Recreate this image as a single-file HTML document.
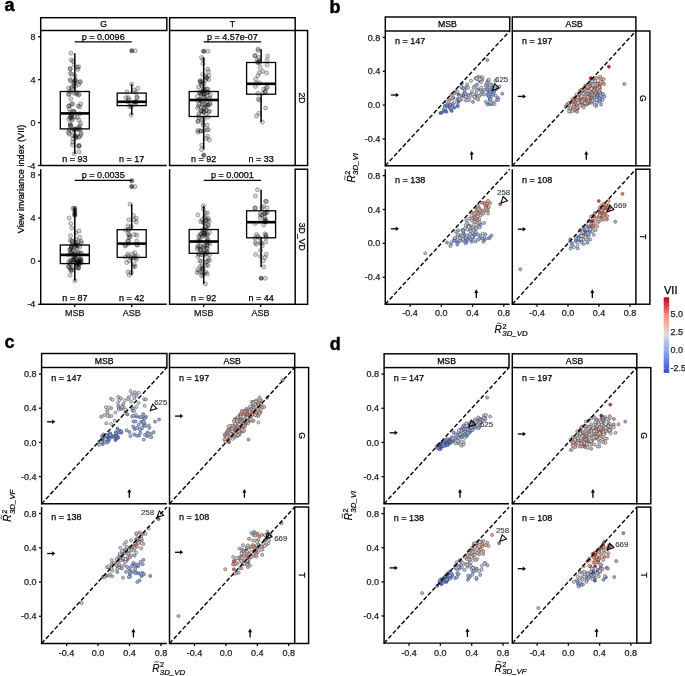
<!DOCTYPE html>
<html><head><meta charset="utf-8"><style>
html,body{margin:0;padding:0;background:#fff;overflow:hidden;}
svg{display:block;font-family:"Liberation Sans", sans-serif;will-change:transform;}
</style></head><body>
<svg width="685" height="676" viewBox="0 0 685 676">
<rect width="685" height="676" fill="#fff"/>
<text x="4.50" y="10.90" font-size="18" text-anchor="start" fill="#000" font-weight="bold"  stroke="#000" stroke-width="0.45">a</text>
<rect x="40.70" y="17.70" width="126.10" height="12.80" fill="none" stroke="#000" stroke-width="1.45"/>
<text x="103.75" y="27.00" font-size="8.7" text-anchor="middle" fill="#000" font-weight="normal" stroke="#000" stroke-width="0.25" >G</text>
<rect x="169.60" y="17.70" width="125.60" height="12.80" fill="none" stroke="#000" stroke-width="1.45"/>
<text x="232.40" y="27.00" font-size="8.7" text-anchor="middle" fill="#000" font-weight="normal" stroke="#000" stroke-width="0.25" >T</text>
<rect x="295.20" y="30.50" width="12.40" height="135.00" fill="none" stroke="#000" stroke-width="1.45"/>
<text x="301.40" y="98.00" font-size="8.7" text-anchor="middle" fill="#000" font-weight="normal" stroke="#000" stroke-width="0.25" transform="rotate(90 301.4 98.0)" dy="2.9">2D</text>
<rect x="295.20" y="169.20" width="12.40" height="135.10" fill="none" stroke="#000" stroke-width="1.45"/>
<text x="301.40" y="236.75" font-size="8.7" text-anchor="middle" fill="#000" font-weight="normal" stroke="#000" stroke-width="0.25" transform="rotate(90 301.4 236.8)" dy="2.9">3D_VD</text>
<text x="24.20" y="179.00" font-size="9.2" text-anchor="middle" fill="#000" font-weight="normal" stroke="#000" stroke-width="0.25" transform="rotate(-90 24.2 179)">View invariance index (VII)</text>
<line x1="40.70" y1="30.50" x2="40.70" y2="166.05" stroke="#000" stroke-width="1.45" />
<line x1="40.15" y1="165.50" x2="166.80" y2="165.50" stroke="#000" stroke-width="1.45" />
<line x1="38.10" y1="36.70" x2="40.70" y2="36.70" stroke="#000" stroke-width="1.305" />
<text x="35.40" y="39.80" font-size="9.0" text-anchor="end" fill="#1a1a1a" font-weight="normal" stroke="#1a1a1a" stroke-width="0.25" >8</text>
<line x1="38.10" y1="79.63" x2="40.70" y2="79.63" stroke="#000" stroke-width="1.305" />
<text x="35.40" y="82.73" font-size="9.0" text-anchor="end" fill="#1a1a1a" font-weight="normal" stroke="#1a1a1a" stroke-width="0.25" >4</text>
<line x1="38.10" y1="122.57" x2="40.70" y2="122.57" stroke="#000" stroke-width="1.305" />
<text x="35.40" y="125.67" font-size="9.0" text-anchor="end" fill="#1a1a1a" font-weight="normal" stroke="#1a1a1a" stroke-width="0.25" >0</text>
<line x1="38.10" y1="165.50" x2="40.70" y2="165.50" stroke="#000" stroke-width="1.305" />
<text x="35.40" y="168.60" font-size="9.0" text-anchor="end" fill="#1a1a1a" font-weight="normal" stroke="#1a1a1a" stroke-width="0.25" >-4</text>
<line x1="169.60" y1="30.50" x2="169.60" y2="166.05" stroke="#000" stroke-width="1.45" />
<line x1="169.05" y1="165.50" x2="295.20" y2="165.50" stroke="#000" stroke-width="1.45" />
<line x1="40.70" y1="169.20" x2="40.70" y2="304.85" stroke="#000" stroke-width="1.45" />
<line x1="40.15" y1="304.30" x2="166.80" y2="304.30" stroke="#000" stroke-width="1.45" />
<line x1="38.10" y1="174.90" x2="40.70" y2="174.90" stroke="#000" stroke-width="1.305" />
<text x="35.40" y="178.00" font-size="9.0" text-anchor="end" fill="#1a1a1a" font-weight="normal" stroke="#1a1a1a" stroke-width="0.25" >8</text>
<line x1="38.10" y1="218.03" x2="40.70" y2="218.03" stroke="#000" stroke-width="1.305" />
<text x="35.40" y="221.13" font-size="9.0" text-anchor="end" fill="#1a1a1a" font-weight="normal" stroke="#1a1a1a" stroke-width="0.25" >4</text>
<line x1="38.10" y1="261.17" x2="40.70" y2="261.17" stroke="#000" stroke-width="1.305" />
<text x="35.40" y="264.27" font-size="9.0" text-anchor="end" fill="#1a1a1a" font-weight="normal" stroke="#1a1a1a" stroke-width="0.25" >0</text>
<line x1="38.10" y1="304.30" x2="40.70" y2="304.30" stroke="#000" stroke-width="1.305" />
<text x="35.40" y="307.40" font-size="9.0" text-anchor="end" fill="#1a1a1a" font-weight="normal" stroke="#1a1a1a" stroke-width="0.25" >-4</text>
<line x1="74.80" y1="304.30" x2="74.80" y2="306.90" stroke="#000" stroke-width="1.305" />
<text x="74.80" y="316.30" font-size="9.0" text-anchor="middle" fill="#1a1a1a" font-weight="normal" stroke="#1a1a1a" stroke-width="0.25" >MSB</text>
<line x1="131.70" y1="304.30" x2="131.70" y2="306.90" stroke="#000" stroke-width="1.305" />
<text x="131.70" y="316.30" font-size="9.0" text-anchor="middle" fill="#1a1a1a" font-weight="normal" stroke="#1a1a1a" stroke-width="0.25" >ASB</text>
<line x1="169.60" y1="169.20" x2="169.60" y2="304.85" stroke="#000" stroke-width="1.45" />
<line x1="169.05" y1="304.30" x2="295.20" y2="304.30" stroke="#000" stroke-width="1.45" />
<line x1="203.70" y1="304.30" x2="203.70" y2="306.90" stroke="#000" stroke-width="1.305" />
<text x="203.70" y="316.30" font-size="9.0" text-anchor="middle" fill="#1a1a1a" font-weight="normal" stroke="#1a1a1a" stroke-width="0.25" >MSB</text>
<line x1="260.60" y1="304.30" x2="260.60" y2="306.90" stroke="#000" stroke-width="1.305" />
<text x="260.60" y="316.30" font-size="9.0" text-anchor="middle" fill="#1a1a1a" font-weight="normal" stroke="#1a1a1a" stroke-width="0.25" >ASB</text>
<circle cx="69.2" cy="105.8" r="2.05" fill="rgba(0,0,0,0.17)" stroke="rgba(0,0,0,0.42)" stroke-width="0.7"/>
<circle cx="69.1" cy="134.0" r="2.05" fill="rgba(0,0,0,0.17)" stroke="rgba(0,0,0,0.42)" stroke-width="0.7"/>
<circle cx="73.9" cy="129.4" r="2.05" fill="rgba(0,0,0,0.17)" stroke="rgba(0,0,0,0.42)" stroke-width="0.7"/>
<circle cx="79.0" cy="120.0" r="2.05" fill="rgba(0,0,0,0.17)" stroke="rgba(0,0,0,0.42)" stroke-width="0.7"/>
<circle cx="80.6" cy="123.1" r="2.05" fill="rgba(0,0,0,0.17)" stroke="rgba(0,0,0,0.42)" stroke-width="0.7"/>
<circle cx="81.0" cy="134.5" r="2.05" fill="rgba(0,0,0,0.17)" stroke="rgba(0,0,0,0.42)" stroke-width="0.7"/>
<circle cx="70.2" cy="117.9" r="2.05" fill="rgba(0,0,0,0.17)" stroke="rgba(0,0,0,0.42)" stroke-width="0.7"/>
<circle cx="70.6" cy="126.0" r="2.05" fill="rgba(0,0,0,0.17)" stroke="rgba(0,0,0,0.42)" stroke-width="0.7"/>
<circle cx="73.1" cy="138.8" r="2.05" fill="rgba(0,0,0,0.17)" stroke="rgba(0,0,0,0.42)" stroke-width="0.7"/>
<circle cx="69.1" cy="129.7" r="2.05" fill="rgba(0,0,0,0.17)" stroke="rgba(0,0,0,0.42)" stroke-width="0.7"/>
<circle cx="72.4" cy="120.0" r="2.05" fill="rgba(0,0,0,0.17)" stroke="rgba(0,0,0,0.42)" stroke-width="0.7"/>
<circle cx="72.2" cy="135.4" r="2.05" fill="rgba(0,0,0,0.17)" stroke="rgba(0,0,0,0.42)" stroke-width="0.7"/>
<circle cx="71.5" cy="74.2" r="2.05" fill="rgba(0,0,0,0.17)" stroke="rgba(0,0,0,0.42)" stroke-width="0.7"/>
<circle cx="79.7" cy="136.6" r="2.05" fill="rgba(0,0,0,0.17)" stroke="rgba(0,0,0,0.42)" stroke-width="0.7"/>
<circle cx="81.0" cy="132.8" r="2.05" fill="rgba(0,0,0,0.17)" stroke="rgba(0,0,0,0.42)" stroke-width="0.7"/>
<circle cx="70.3" cy="125.1" r="2.05" fill="rgba(0,0,0,0.17)" stroke="rgba(0,0,0,0.42)" stroke-width="0.7"/>
<circle cx="78.2" cy="106.1" r="2.05" fill="rgba(0,0,0,0.17)" stroke="rgba(0,0,0,0.42)" stroke-width="0.7"/>
<circle cx="72.4" cy="145.0" r="2.05" fill="rgba(0,0,0,0.17)" stroke="rgba(0,0,0,0.42)" stroke-width="0.7"/>
<circle cx="75.8" cy="137.9" r="2.05" fill="rgba(0,0,0,0.17)" stroke="rgba(0,0,0,0.42)" stroke-width="0.7"/>
<circle cx="74.5" cy="112.2" r="2.05" fill="rgba(0,0,0,0.17)" stroke="rgba(0,0,0,0.42)" stroke-width="0.7"/>
<circle cx="77.4" cy="129.7" r="2.05" fill="rgba(0,0,0,0.17)" stroke="rgba(0,0,0,0.42)" stroke-width="0.7"/>
<circle cx="79.0" cy="151.7" r="2.05" fill="rgba(0,0,0,0.17)" stroke="rgba(0,0,0,0.42)" stroke-width="0.7"/>
<circle cx="68.6" cy="106.1" r="2.05" fill="rgba(0,0,0,0.17)" stroke="rgba(0,0,0,0.42)" stroke-width="0.7"/>
<circle cx="69.1" cy="94.1" r="2.05" fill="rgba(0,0,0,0.17)" stroke="rgba(0,0,0,0.42)" stroke-width="0.7"/>
<circle cx="71.5" cy="88.9" r="2.05" fill="rgba(0,0,0,0.17)" stroke="rgba(0,0,0,0.42)" stroke-width="0.7"/>
<circle cx="74.1" cy="93.3" r="2.05" fill="rgba(0,0,0,0.17)" stroke="rgba(0,0,0,0.42)" stroke-width="0.7"/>
<circle cx="79.0" cy="145.3" r="2.05" fill="rgba(0,0,0,0.17)" stroke="rgba(0,0,0,0.42)" stroke-width="0.7"/>
<circle cx="73.7" cy="85.7" r="2.05" fill="rgba(0,0,0,0.17)" stroke="rgba(0,0,0,0.42)" stroke-width="0.7"/>
<circle cx="70.3" cy="112.5" r="2.05" fill="rgba(0,0,0,0.17)" stroke="rgba(0,0,0,0.42)" stroke-width="0.7"/>
<circle cx="74.6" cy="117.0" r="2.05" fill="rgba(0,0,0,0.17)" stroke="rgba(0,0,0,0.42)" stroke-width="0.7"/>
<circle cx="68.4" cy="132.4" r="2.05" fill="rgba(0,0,0,0.17)" stroke="rgba(0,0,0,0.42)" stroke-width="0.7"/>
<circle cx="80.7" cy="103.9" r="2.05" fill="rgba(0,0,0,0.17)" stroke="rgba(0,0,0,0.42)" stroke-width="0.7"/>
<circle cx="76.3" cy="136.5" r="2.05" fill="rgba(0,0,0,0.17)" stroke="rgba(0,0,0,0.42)" stroke-width="0.7"/>
<circle cx="80.0" cy="129.6" r="2.05" fill="rgba(0,0,0,0.17)" stroke="rgba(0,0,0,0.42)" stroke-width="0.7"/>
<circle cx="78.7" cy="66.8" r="2.05" fill="rgba(0,0,0,0.17)" stroke="rgba(0,0,0,0.42)" stroke-width="0.7"/>
<circle cx="76.5" cy="93.8" r="2.05" fill="rgba(0,0,0,0.17)" stroke="rgba(0,0,0,0.42)" stroke-width="0.7"/>
<circle cx="70.4" cy="116.6" r="2.05" fill="rgba(0,0,0,0.17)" stroke="rgba(0,0,0,0.42)" stroke-width="0.7"/>
<circle cx="70.3" cy="91.5" r="2.05" fill="rgba(0,0,0,0.17)" stroke="rgba(0,0,0,0.42)" stroke-width="0.7"/>
<circle cx="79.7" cy="113.8" r="2.05" fill="rgba(0,0,0,0.17)" stroke="rgba(0,0,0,0.42)" stroke-width="0.7"/>
<circle cx="71.6" cy="130.8" r="2.05" fill="rgba(0,0,0,0.17)" stroke="rgba(0,0,0,0.42)" stroke-width="0.7"/>
<circle cx="79.3" cy="94.2" r="2.05" fill="rgba(0,0,0,0.17)" stroke="rgba(0,0,0,0.42)" stroke-width="0.7"/>
<circle cx="74.6" cy="81.2" r="2.05" fill="rgba(0,0,0,0.17)" stroke="rgba(0,0,0,0.42)" stroke-width="0.7"/>
<circle cx="71.7" cy="118.7" r="2.05" fill="rgba(0,0,0,0.17)" stroke="rgba(0,0,0,0.42)" stroke-width="0.7"/>
<circle cx="68.6" cy="88.3" r="2.05" fill="rgba(0,0,0,0.17)" stroke="rgba(0,0,0,0.42)" stroke-width="0.7"/>
<circle cx="70.2" cy="79.5" r="2.05" fill="rgba(0,0,0,0.17)" stroke="rgba(0,0,0,0.42)" stroke-width="0.7"/>
<circle cx="75.2" cy="129.2" r="2.05" fill="rgba(0,0,0,0.17)" stroke="rgba(0,0,0,0.42)" stroke-width="0.7"/>
<circle cx="77.4" cy="67.4" r="2.05" fill="rgba(0,0,0,0.17)" stroke="rgba(0,0,0,0.42)" stroke-width="0.7"/>
<circle cx="78.3" cy="95.2" r="2.05" fill="rgba(0,0,0,0.17)" stroke="rgba(0,0,0,0.42)" stroke-width="0.7"/>
<circle cx="72.6" cy="142.1" r="2.05" fill="rgba(0,0,0,0.17)" stroke="rgba(0,0,0,0.42)" stroke-width="0.7"/>
<circle cx="79.4" cy="128.7" r="2.05" fill="rgba(0,0,0,0.17)" stroke="rgba(0,0,0,0.42)" stroke-width="0.7"/>
<circle cx="77.9" cy="69.5" r="2.05" fill="rgba(0,0,0,0.17)" stroke="rgba(0,0,0,0.42)" stroke-width="0.7"/>
<circle cx="68.7" cy="118.9" r="2.05" fill="rgba(0,0,0,0.17)" stroke="rgba(0,0,0,0.42)" stroke-width="0.7"/>
<circle cx="77.3" cy="117.4" r="2.05" fill="rgba(0,0,0,0.17)" stroke="rgba(0,0,0,0.42)" stroke-width="0.7"/>
<circle cx="80.5" cy="81.7" r="2.05" fill="rgba(0,0,0,0.17)" stroke="rgba(0,0,0,0.42)" stroke-width="0.7"/>
<circle cx="73.0" cy="61.3" r="2.05" fill="rgba(0,0,0,0.17)" stroke="rgba(0,0,0,0.42)" stroke-width="0.7"/>
<circle cx="71.0" cy="116.4" r="2.05" fill="rgba(0,0,0,0.17)" stroke="rgba(0,0,0,0.42)" stroke-width="0.7"/>
<circle cx="79.2" cy="145.9" r="2.05" fill="rgba(0,0,0,0.17)" stroke="rgba(0,0,0,0.42)" stroke-width="0.7"/>
<circle cx="69.4" cy="109.0" r="2.05" fill="rgba(0,0,0,0.17)" stroke="rgba(0,0,0,0.42)" stroke-width="0.7"/>
<circle cx="78.5" cy="146.3" r="2.05" fill="rgba(0,0,0,0.17)" stroke="rgba(0,0,0,0.42)" stroke-width="0.7"/>
<circle cx="70.6" cy="80.9" r="2.05" fill="rgba(0,0,0,0.17)" stroke="rgba(0,0,0,0.42)" stroke-width="0.7"/>
<circle cx="78.7" cy="84.5" r="2.05" fill="rgba(0,0,0,0.17)" stroke="rgba(0,0,0,0.42)" stroke-width="0.7"/>
<circle cx="73.5" cy="83.0" r="2.05" fill="rgba(0,0,0,0.17)" stroke="rgba(0,0,0,0.42)" stroke-width="0.7"/>
<circle cx="70.5" cy="73.3" r="2.05" fill="rgba(0,0,0,0.17)" stroke="rgba(0,0,0,0.42)" stroke-width="0.7"/>
<circle cx="78.8" cy="127.4" r="2.05" fill="rgba(0,0,0,0.17)" stroke="rgba(0,0,0,0.42)" stroke-width="0.7"/>
<circle cx="76.8" cy="128.6" r="2.05" fill="rgba(0,0,0,0.17)" stroke="rgba(0,0,0,0.42)" stroke-width="0.7"/>
<circle cx="68.5" cy="94.4" r="2.05" fill="rgba(0,0,0,0.17)" stroke="rgba(0,0,0,0.42)" stroke-width="0.7"/>
<circle cx="75.1" cy="75.9" r="2.05" fill="rgba(0,0,0,0.17)" stroke="rgba(0,0,0,0.42)" stroke-width="0.7"/>
<circle cx="79.6" cy="82.0" r="2.05" fill="rgba(0,0,0,0.17)" stroke="rgba(0,0,0,0.42)" stroke-width="0.7"/>
<circle cx="71.6" cy="87.2" r="2.05" fill="rgba(0,0,0,0.17)" stroke="rgba(0,0,0,0.42)" stroke-width="0.7"/>
<circle cx="71.7" cy="104.3" r="2.05" fill="rgba(0,0,0,0.17)" stroke="rgba(0,0,0,0.42)" stroke-width="0.7"/>
<circle cx="72.9" cy="111.4" r="2.05" fill="rgba(0,0,0,0.17)" stroke="rgba(0,0,0,0.42)" stroke-width="0.7"/>
<circle cx="73.8" cy="111.3" r="2.05" fill="rgba(0,0,0,0.17)" stroke="rgba(0,0,0,0.42)" stroke-width="0.7"/>
<circle cx="75.2" cy="80.2" r="2.05" fill="rgba(0,0,0,0.17)" stroke="rgba(0,0,0,0.42)" stroke-width="0.7"/>
<circle cx="74.0" cy="129.1" r="2.05" fill="rgba(0,0,0,0.17)" stroke="rgba(0,0,0,0.42)" stroke-width="0.7"/>
<circle cx="70.5" cy="125.8" r="2.05" fill="rgba(0,0,0,0.17)" stroke="rgba(0,0,0,0.42)" stroke-width="0.7"/>
<circle cx="72.5" cy="103.7" r="2.05" fill="rgba(0,0,0,0.17)" stroke="rgba(0,0,0,0.42)" stroke-width="0.7"/>
<circle cx="78.5" cy="137.2" r="2.05" fill="rgba(0,0,0,0.17)" stroke="rgba(0,0,0,0.42)" stroke-width="0.7"/>
<circle cx="71.9" cy="117.3" r="2.05" fill="rgba(0,0,0,0.17)" stroke="rgba(0,0,0,0.42)" stroke-width="0.7"/>
<circle cx="75.6" cy="80.1" r="2.05" fill="rgba(0,0,0,0.17)" stroke="rgba(0,0,0,0.42)" stroke-width="0.7"/>
<circle cx="74.1" cy="64.5" r="2.05" fill="rgba(0,0,0,0.17)" stroke="rgba(0,0,0,0.42)" stroke-width="0.7"/>
<circle cx="75.0" cy="136.3" r="2.05" fill="rgba(0,0,0,0.17)" stroke="rgba(0,0,0,0.42)" stroke-width="0.7"/>
<circle cx="75.2" cy="135.4" r="2.05" fill="rgba(0,0,0,0.17)" stroke="rgba(0,0,0,0.42)" stroke-width="0.7"/>
<circle cx="79.7" cy="106.8" r="2.05" fill="rgba(0,0,0,0.17)" stroke="rgba(0,0,0,0.42)" stroke-width="0.7"/>
<circle cx="75.6" cy="86.2" r="2.05" fill="rgba(0,0,0,0.17)" stroke="rgba(0,0,0,0.42)" stroke-width="0.7"/>
<circle cx="70.1" cy="68.5" r="2.05" fill="rgba(0,0,0,0.17)" stroke="rgba(0,0,0,0.42)" stroke-width="0.7"/>
<circle cx="71.4" cy="114.5" r="2.05" fill="rgba(0,0,0,0.17)" stroke="rgba(0,0,0,0.42)" stroke-width="0.7"/>
<circle cx="80.0" cy="125.6" r="2.05" fill="rgba(0,0,0,0.17)" stroke="rgba(0,0,0,0.42)" stroke-width="0.7"/>
<circle cx="70.2" cy="123.6" r="2.05" fill="rgba(0,0,0,0.17)" stroke="rgba(0,0,0,0.42)" stroke-width="0.7"/>
<circle cx="71.2" cy="60.1" r="2.05" fill="rgba(0,0,0,0.17)" stroke="rgba(0,0,0,0.42)" stroke-width="0.7"/>
<circle cx="74.6" cy="82.9" r="2.05" fill="rgba(0,0,0,0.17)" stroke="rgba(0,0,0,0.42)" stroke-width="0.7"/>
<circle cx="70.4" cy="68.9" r="2.05" fill="rgba(0,0,0,0.17)" stroke="rgba(0,0,0,0.42)" stroke-width="0.7"/>
<circle cx="70.8" cy="98.9" r="2.05" fill="rgba(0,0,0,0.17)" stroke="rgba(0,0,0,0.42)" stroke-width="0.7"/>
<circle cx="75.5" cy="91.9" r="2.05" fill="rgba(0,0,0,0.17)" stroke="rgba(0,0,0,0.42)" stroke-width="0.7"/>
<circle cx="74.3" cy="153.8" r="2.05" fill="rgba(0,0,0,0.17)" stroke="rgba(0,0,0,0.42)" stroke-width="0.7"/>
<circle cx="70.9" cy="53.2" r="2.05" fill="rgba(0,0,0,0.17)" stroke="rgba(0,0,0,0.42)" stroke-width="0.7"/>
<line x1="74.80" y1="53.20" x2="74.80" y2="91.50" stroke="#000" stroke-width="1.5" />
<line x1="74.80" y1="128.90" x2="74.80" y2="153.80" stroke="#000" stroke-width="1.5" />
<rect x="60.30" y="91.50" width="29.00" height="37.40" fill="none" stroke="#000" stroke-width="1.3"/>
<line x1="60.30" y1="113.40" x2="89.30" y2="113.40" stroke="#000" stroke-width="2.6" />
<text x="74.80" y="162.30" font-size="9" text-anchor="middle" fill="#000" font-weight="normal" stroke="#000" stroke-width="0.25" >n = 93</text>
<circle cx="126.0" cy="97.6" r="2.05" fill="rgba(0,0,0,0.17)" stroke="rgba(0,0,0,0.42)" stroke-width="0.7"/>
<circle cx="137.8" cy="88.3" r="2.05" fill="rgba(0,0,0,0.17)" stroke="rgba(0,0,0,0.42)" stroke-width="0.7"/>
<circle cx="135.3" cy="102.0" r="2.05" fill="rgba(0,0,0,0.17)" stroke="rgba(0,0,0,0.42)" stroke-width="0.7"/>
<circle cx="137.0" cy="96.8" r="2.05" fill="rgba(0,0,0,0.17)" stroke="rgba(0,0,0,0.42)" stroke-width="0.7"/>
<circle cx="127.1" cy="91.9" r="2.05" fill="rgba(0,0,0,0.17)" stroke="rgba(0,0,0,0.42)" stroke-width="0.7"/>
<circle cx="134.3" cy="90.0" r="2.05" fill="rgba(0,0,0,0.17)" stroke="rgba(0,0,0,0.42)" stroke-width="0.7"/>
<circle cx="130.7" cy="104.4" r="2.05" fill="rgba(0,0,0,0.17)" stroke="rgba(0,0,0,0.42)" stroke-width="0.7"/>
<circle cx="135.6" cy="104.2" r="2.05" fill="rgba(0,0,0,0.17)" stroke="rgba(0,0,0,0.42)" stroke-width="0.7"/>
<circle cx="136.4" cy="102.1" r="2.05" fill="rgba(0,0,0,0.17)" stroke="rgba(0,0,0,0.42)" stroke-width="0.7"/>
<circle cx="137.2" cy="97.9" r="2.05" fill="rgba(0,0,0,0.17)" stroke="rgba(0,0,0,0.42)" stroke-width="0.7"/>
<circle cx="128.3" cy="97.7" r="2.05" fill="rgba(0,0,0,0.17)" stroke="rgba(0,0,0,0.42)" stroke-width="0.7"/>
<circle cx="127.8" cy="102.0" r="2.05" fill="rgba(0,0,0,0.17)" stroke="rgba(0,0,0,0.42)" stroke-width="0.7"/>
<circle cx="129.0" cy="99.7" r="2.05" fill="rgba(0,0,0,0.17)" stroke="rgba(0,0,0,0.42)" stroke-width="0.7"/>
<circle cx="129.7" cy="106.5" r="2.05" fill="rgba(0,0,0,0.17)" stroke="rgba(0,0,0,0.42)" stroke-width="0.7"/>
<circle cx="134.7" cy="101.9" r="2.05" fill="rgba(0,0,0,0.17)" stroke="rgba(0,0,0,0.42)" stroke-width="0.7"/>
<circle cx="131.4" cy="106.5" r="2.05" fill="rgba(0,0,0,0.17)" stroke="rgba(0,0,0,0.42)" stroke-width="0.7"/>
<circle cx="135.8" cy="92.6" r="2.05" fill="rgba(0,0,0,0.17)" stroke="rgba(0,0,0,0.42)" stroke-width="0.7"/>
<circle cx="131.2" cy="114.9" r="2.05" fill="rgba(0,0,0,0.17)" stroke="rgba(0,0,0,0.42)" stroke-width="0.7"/>
<circle cx="131.7" cy="84.2" r="2.05" fill="rgba(0,0,0,0.17)" stroke="rgba(0,0,0,0.42)" stroke-width="0.7"/>
<circle cx="131.7" cy="50.7" r="2.05" fill="rgba(0,0,0,0.55)" stroke="rgba(0,0,0,0.6)" stroke-width="0.7"/>
<circle cx="135.2" cy="50.7" r="2.05" fill="rgba(0,0,0,0.17)" stroke="rgba(0,0,0,0.42)" stroke-width="0.7"/>
<line x1="131.70" y1="84.20" x2="131.70" y2="93.10" stroke="#000" stroke-width="1.5" />
<line x1="131.70" y1="105.60" x2="131.70" y2="114.90" stroke="#000" stroke-width="1.5" />
<rect x="117.20" y="93.10" width="29.00" height="12.50" fill="none" stroke="#000" stroke-width="1.3"/>
<line x1="117.20" y1="101.80" x2="146.20" y2="101.80" stroke="#000" stroke-width="2.6" />
<text x="131.70" y="162.30" font-size="9" text-anchor="middle" fill="#000" font-weight="normal" stroke="#000" stroke-width="0.25" >n = 17</text>
<line x1="74.80" y1="41.80" x2="131.70" y2="41.80" stroke="#000" stroke-width="1.2" />
<text x="103.25" y="39.50" font-size="9" text-anchor="middle" fill="#000" font-weight="normal" stroke="#000" stroke-width="0.25" >p = 0.0096</text>
<circle cx="203.8" cy="84.0" r="2.05" fill="rgba(0,0,0,0.17)" stroke="rgba(0,0,0,0.42)" stroke-width="0.7"/>
<circle cx="201.7" cy="145.2" r="2.05" fill="rgba(0,0,0,0.17)" stroke="rgba(0,0,0,0.42)" stroke-width="0.7"/>
<circle cx="205.5" cy="75.9" r="2.05" fill="rgba(0,0,0,0.17)" stroke="rgba(0,0,0,0.42)" stroke-width="0.7"/>
<circle cx="198.9" cy="92.0" r="2.05" fill="rgba(0,0,0,0.17)" stroke="rgba(0,0,0,0.42)" stroke-width="0.7"/>
<circle cx="199.3" cy="104.2" r="2.05" fill="rgba(0,0,0,0.17)" stroke="rgba(0,0,0,0.42)" stroke-width="0.7"/>
<circle cx="205.9" cy="114.4" r="2.05" fill="rgba(0,0,0,0.17)" stroke="rgba(0,0,0,0.42)" stroke-width="0.7"/>
<circle cx="203.2" cy="94.0" r="2.05" fill="rgba(0,0,0,0.17)" stroke="rgba(0,0,0,0.42)" stroke-width="0.7"/>
<circle cx="209.7" cy="104.3" r="2.05" fill="rgba(0,0,0,0.17)" stroke="rgba(0,0,0,0.42)" stroke-width="0.7"/>
<circle cx="200.4" cy="80.4" r="2.05" fill="rgba(0,0,0,0.17)" stroke="rgba(0,0,0,0.42)" stroke-width="0.7"/>
<circle cx="201.8" cy="85.8" r="2.05" fill="rgba(0,0,0,0.17)" stroke="rgba(0,0,0,0.42)" stroke-width="0.7"/>
<circle cx="203.7" cy="107.8" r="2.05" fill="rgba(0,0,0,0.17)" stroke="rgba(0,0,0,0.42)" stroke-width="0.7"/>
<circle cx="200.6" cy="100.1" r="2.05" fill="rgba(0,0,0,0.17)" stroke="rgba(0,0,0,0.42)" stroke-width="0.7"/>
<circle cx="197.5" cy="100.7" r="2.05" fill="rgba(0,0,0,0.17)" stroke="rgba(0,0,0,0.42)" stroke-width="0.7"/>
<circle cx="204.1" cy="96.5" r="2.05" fill="rgba(0,0,0,0.17)" stroke="rgba(0,0,0,0.42)" stroke-width="0.7"/>
<circle cx="206.5" cy="77.4" r="2.05" fill="rgba(0,0,0,0.17)" stroke="rgba(0,0,0,0.42)" stroke-width="0.7"/>
<circle cx="201.4" cy="84.1" r="2.05" fill="rgba(0,0,0,0.17)" stroke="rgba(0,0,0,0.42)" stroke-width="0.7"/>
<circle cx="206.6" cy="88.9" r="2.05" fill="rgba(0,0,0,0.17)" stroke="rgba(0,0,0,0.42)" stroke-width="0.7"/>
<circle cx="208.1" cy="117.2" r="2.05" fill="rgba(0,0,0,0.17)" stroke="rgba(0,0,0,0.42)" stroke-width="0.7"/>
<circle cx="206.7" cy="78.3" r="2.05" fill="rgba(0,0,0,0.17)" stroke="rgba(0,0,0,0.42)" stroke-width="0.7"/>
<circle cx="204.0" cy="89.0" r="2.05" fill="rgba(0,0,0,0.17)" stroke="rgba(0,0,0,0.42)" stroke-width="0.7"/>
<circle cx="207.7" cy="136.2" r="2.05" fill="rgba(0,0,0,0.17)" stroke="rgba(0,0,0,0.42)" stroke-width="0.7"/>
<circle cx="208.8" cy="79.4" r="2.05" fill="rgba(0,0,0,0.17)" stroke="rgba(0,0,0,0.42)" stroke-width="0.7"/>
<circle cx="200.2" cy="131.3" r="2.05" fill="rgba(0,0,0,0.17)" stroke="rgba(0,0,0,0.42)" stroke-width="0.7"/>
<circle cx="198.6" cy="106.0" r="2.05" fill="rgba(0,0,0,0.17)" stroke="rgba(0,0,0,0.42)" stroke-width="0.7"/>
<circle cx="205.4" cy="80.1" r="2.05" fill="rgba(0,0,0,0.17)" stroke="rgba(0,0,0,0.42)" stroke-width="0.7"/>
<circle cx="203.6" cy="130.9" r="2.05" fill="rgba(0,0,0,0.17)" stroke="rgba(0,0,0,0.42)" stroke-width="0.7"/>
<circle cx="203.7" cy="112.3" r="2.05" fill="rgba(0,0,0,0.17)" stroke="rgba(0,0,0,0.42)" stroke-width="0.7"/>
<circle cx="198.1" cy="130.3" r="2.05" fill="rgba(0,0,0,0.17)" stroke="rgba(0,0,0,0.42)" stroke-width="0.7"/>
<circle cx="198.2" cy="121.0" r="2.05" fill="rgba(0,0,0,0.17)" stroke="rgba(0,0,0,0.42)" stroke-width="0.7"/>
<circle cx="206.8" cy="93.2" r="2.05" fill="rgba(0,0,0,0.17)" stroke="rgba(0,0,0,0.42)" stroke-width="0.7"/>
<circle cx="202.2" cy="81.7" r="2.05" fill="rgba(0,0,0,0.17)" stroke="rgba(0,0,0,0.42)" stroke-width="0.7"/>
<circle cx="205.2" cy="98.0" r="2.05" fill="rgba(0,0,0,0.17)" stroke="rgba(0,0,0,0.42)" stroke-width="0.7"/>
<circle cx="199.1" cy="117.8" r="2.05" fill="rgba(0,0,0,0.17)" stroke="rgba(0,0,0,0.42)" stroke-width="0.7"/>
<circle cx="204.6" cy="94.1" r="2.05" fill="rgba(0,0,0,0.17)" stroke="rgba(0,0,0,0.42)" stroke-width="0.7"/>
<circle cx="205.9" cy="104.4" r="2.05" fill="rgba(0,0,0,0.17)" stroke="rgba(0,0,0,0.42)" stroke-width="0.7"/>
<circle cx="201.0" cy="130.8" r="2.05" fill="rgba(0,0,0,0.17)" stroke="rgba(0,0,0,0.42)" stroke-width="0.7"/>
<circle cx="203.3" cy="125.4" r="2.05" fill="rgba(0,0,0,0.17)" stroke="rgba(0,0,0,0.42)" stroke-width="0.7"/>
<circle cx="209.9" cy="103.3" r="2.05" fill="rgba(0,0,0,0.17)" stroke="rgba(0,0,0,0.42)" stroke-width="0.7"/>
<circle cx="203.2" cy="91.2" r="2.05" fill="rgba(0,0,0,0.17)" stroke="rgba(0,0,0,0.42)" stroke-width="0.7"/>
<circle cx="203.0" cy="63.6" r="2.05" fill="rgba(0,0,0,0.17)" stroke="rgba(0,0,0,0.42)" stroke-width="0.7"/>
<circle cx="199.9" cy="99.5" r="2.05" fill="rgba(0,0,0,0.17)" stroke="rgba(0,0,0,0.42)" stroke-width="0.7"/>
<circle cx="204.0" cy="118.9" r="2.05" fill="rgba(0,0,0,0.17)" stroke="rgba(0,0,0,0.42)" stroke-width="0.7"/>
<circle cx="207.9" cy="89.2" r="2.05" fill="rgba(0,0,0,0.17)" stroke="rgba(0,0,0,0.42)" stroke-width="0.7"/>
<circle cx="206.3" cy="138.5" r="2.05" fill="rgba(0,0,0,0.17)" stroke="rgba(0,0,0,0.42)" stroke-width="0.7"/>
<circle cx="197.5" cy="108.0" r="2.05" fill="rgba(0,0,0,0.17)" stroke="rgba(0,0,0,0.42)" stroke-width="0.7"/>
<circle cx="201.1" cy="107.4" r="2.05" fill="rgba(0,0,0,0.17)" stroke="rgba(0,0,0,0.42)" stroke-width="0.7"/>
<circle cx="208.1" cy="105.2" r="2.05" fill="rgba(0,0,0,0.17)" stroke="rgba(0,0,0,0.42)" stroke-width="0.7"/>
<circle cx="198.8" cy="113.8" r="2.05" fill="rgba(0,0,0,0.17)" stroke="rgba(0,0,0,0.42)" stroke-width="0.7"/>
<circle cx="208.9" cy="75.7" r="2.05" fill="rgba(0,0,0,0.17)" stroke="rgba(0,0,0,0.42)" stroke-width="0.7"/>
<circle cx="210.2" cy="94.8" r="2.05" fill="rgba(0,0,0,0.17)" stroke="rgba(0,0,0,0.42)" stroke-width="0.7"/>
<circle cx="202.8" cy="123.1" r="2.05" fill="rgba(0,0,0,0.17)" stroke="rgba(0,0,0,0.42)" stroke-width="0.7"/>
<circle cx="208.1" cy="92.4" r="2.05" fill="rgba(0,0,0,0.17)" stroke="rgba(0,0,0,0.42)" stroke-width="0.7"/>
<circle cx="200.7" cy="93.6" r="2.05" fill="rgba(0,0,0,0.17)" stroke="rgba(0,0,0,0.42)" stroke-width="0.7"/>
<circle cx="202.1" cy="119.8" r="2.05" fill="rgba(0,0,0,0.17)" stroke="rgba(0,0,0,0.42)" stroke-width="0.7"/>
<circle cx="207.8" cy="69.1" r="2.05" fill="rgba(0,0,0,0.17)" stroke="rgba(0,0,0,0.42)" stroke-width="0.7"/>
<circle cx="209.4" cy="139.9" r="2.05" fill="rgba(0,0,0,0.17)" stroke="rgba(0,0,0,0.42)" stroke-width="0.7"/>
<circle cx="197.8" cy="132.1" r="2.05" fill="rgba(0,0,0,0.17)" stroke="rgba(0,0,0,0.42)" stroke-width="0.7"/>
<circle cx="207.0" cy="125.1" r="2.05" fill="rgba(0,0,0,0.17)" stroke="rgba(0,0,0,0.42)" stroke-width="0.7"/>
<circle cx="197.8" cy="121.6" r="2.05" fill="rgba(0,0,0,0.17)" stroke="rgba(0,0,0,0.42)" stroke-width="0.7"/>
<circle cx="203.3" cy="89.3" r="2.05" fill="rgba(0,0,0,0.17)" stroke="rgba(0,0,0,0.42)" stroke-width="0.7"/>
<circle cx="209.9" cy="97.8" r="2.05" fill="rgba(0,0,0,0.17)" stroke="rgba(0,0,0,0.42)" stroke-width="0.7"/>
<circle cx="204.4" cy="94.1" r="2.05" fill="rgba(0,0,0,0.17)" stroke="rgba(0,0,0,0.42)" stroke-width="0.7"/>
<circle cx="199.9" cy="92.9" r="2.05" fill="rgba(0,0,0,0.17)" stroke="rgba(0,0,0,0.42)" stroke-width="0.7"/>
<circle cx="200.1" cy="81.6" r="2.05" fill="rgba(0,0,0,0.17)" stroke="rgba(0,0,0,0.42)" stroke-width="0.7"/>
<circle cx="203.0" cy="59.5" r="2.05" fill="rgba(0,0,0,0.17)" stroke="rgba(0,0,0,0.42)" stroke-width="0.7"/>
<circle cx="201.6" cy="101.5" r="2.05" fill="rgba(0,0,0,0.17)" stroke="rgba(0,0,0,0.42)" stroke-width="0.7"/>
<circle cx="204.6" cy="104.3" r="2.05" fill="rgba(0,0,0,0.17)" stroke="rgba(0,0,0,0.42)" stroke-width="0.7"/>
<circle cx="202.6" cy="74.5" r="2.05" fill="rgba(0,0,0,0.17)" stroke="rgba(0,0,0,0.42)" stroke-width="0.7"/>
<circle cx="201.6" cy="94.7" r="2.05" fill="rgba(0,0,0,0.17)" stroke="rgba(0,0,0,0.42)" stroke-width="0.7"/>
<circle cx="198.8" cy="116.0" r="2.05" fill="rgba(0,0,0,0.17)" stroke="rgba(0,0,0,0.42)" stroke-width="0.7"/>
<circle cx="208.4" cy="129.5" r="2.05" fill="rgba(0,0,0,0.17)" stroke="rgba(0,0,0,0.42)" stroke-width="0.7"/>
<circle cx="202.4" cy="104.1" r="2.05" fill="rgba(0,0,0,0.17)" stroke="rgba(0,0,0,0.42)" stroke-width="0.7"/>
<circle cx="208.5" cy="98.7" r="2.05" fill="rgba(0,0,0,0.17)" stroke="rgba(0,0,0,0.42)" stroke-width="0.7"/>
<circle cx="208.8" cy="111.7" r="2.05" fill="rgba(0,0,0,0.17)" stroke="rgba(0,0,0,0.42)" stroke-width="0.7"/>
<circle cx="202.3" cy="91.5" r="2.05" fill="rgba(0,0,0,0.17)" stroke="rgba(0,0,0,0.42)" stroke-width="0.7"/>
<circle cx="208.3" cy="71.7" r="2.05" fill="rgba(0,0,0,0.17)" stroke="rgba(0,0,0,0.42)" stroke-width="0.7"/>
<circle cx="198.6" cy="87.0" r="2.05" fill="rgba(0,0,0,0.17)" stroke="rgba(0,0,0,0.42)" stroke-width="0.7"/>
<circle cx="209.4" cy="111.3" r="2.05" fill="rgba(0,0,0,0.17)" stroke="rgba(0,0,0,0.42)" stroke-width="0.7"/>
<circle cx="207.1" cy="129.9" r="2.05" fill="rgba(0,0,0,0.17)" stroke="rgba(0,0,0,0.42)" stroke-width="0.7"/>
<circle cx="207.4" cy="91.8" r="2.05" fill="rgba(0,0,0,0.17)" stroke="rgba(0,0,0,0.42)" stroke-width="0.7"/>
<circle cx="201.1" cy="110.7" r="2.05" fill="rgba(0,0,0,0.17)" stroke="rgba(0,0,0,0.42)" stroke-width="0.7"/>
<circle cx="206.3" cy="110.5" r="2.05" fill="rgba(0,0,0,0.17)" stroke="rgba(0,0,0,0.42)" stroke-width="0.7"/>
<circle cx="204.8" cy="108.7" r="2.05" fill="rgba(0,0,0,0.17)" stroke="rgba(0,0,0,0.42)" stroke-width="0.7"/>
<circle cx="197.3" cy="96.6" r="2.05" fill="rgba(0,0,0,0.17)" stroke="rgba(0,0,0,0.42)" stroke-width="0.7"/>
<circle cx="205.6" cy="99.7" r="2.05" fill="rgba(0,0,0,0.17)" stroke="rgba(0,0,0,0.42)" stroke-width="0.7"/>
<circle cx="200.3" cy="82.1" r="2.05" fill="rgba(0,0,0,0.17)" stroke="rgba(0,0,0,0.42)" stroke-width="0.7"/>
<circle cx="201.2" cy="111.6" r="2.05" fill="rgba(0,0,0,0.17)" stroke="rgba(0,0,0,0.42)" stroke-width="0.7"/>
<circle cx="202.7" cy="111.1" r="2.05" fill="rgba(0,0,0,0.17)" stroke="rgba(0,0,0,0.42)" stroke-width="0.7"/>
<circle cx="200.1" cy="99.4" r="2.05" fill="rgba(0,0,0,0.17)" stroke="rgba(0,0,0,0.42)" stroke-width="0.7"/>
<circle cx="206.1" cy="106.9" r="2.05" fill="rgba(0,0,0,0.17)" stroke="rgba(0,0,0,0.42)" stroke-width="0.7"/>
<circle cx="203.8" cy="112.2" r="2.05" fill="rgba(0,0,0,0.17)" stroke="rgba(0,0,0,0.42)" stroke-width="0.7"/>
<circle cx="207.9" cy="105.1" r="2.05" fill="rgba(0,0,0,0.17)" stroke="rgba(0,0,0,0.42)" stroke-width="0.7"/>
<circle cx="201.5" cy="149.6" r="2.05" fill="rgba(0,0,0,0.17)" stroke="rgba(0,0,0,0.42)" stroke-width="0.7"/>
<circle cx="201.5" cy="57.5" r="2.05" fill="rgba(0,0,0,0.17)" stroke="rgba(0,0,0,0.42)" stroke-width="0.7"/>
<circle cx="203.7" cy="51.3" r="2.05" fill="rgba(0,0,0,0.55)" stroke="rgba(0,0,0,0.6)" stroke-width="0.7"/>
<circle cx="207.9" cy="51.3" r="2.05" fill="rgba(0,0,0,0.17)" stroke="rgba(0,0,0,0.42)" stroke-width="0.7"/>
<circle cx="203.7" cy="155.2" r="2.05" fill="rgba(0,0,0,0.55)" stroke="rgba(0,0,0,0.6)" stroke-width="0.7"/>
<line x1="203.70" y1="57.50" x2="203.70" y2="91.50" stroke="#000" stroke-width="1.5" />
<line x1="203.70" y1="116.50" x2="203.70" y2="149.60" stroke="#000" stroke-width="1.5" />
<rect x="189.20" y="91.50" width="29.00" height="25.00" fill="none" stroke="#000" stroke-width="1.3"/>
<line x1="189.20" y1="100.00" x2="218.20" y2="100.00" stroke="#000" stroke-width="2.6" />
<text x="203.70" y="162.30" font-size="9" text-anchor="middle" fill="#000" font-weight="normal" stroke="#000" stroke-width="0.25" >n = 92</text>
<circle cx="267.0" cy="60.3" r="2.05" fill="rgba(0,0,0,0.17)" stroke="rgba(0,0,0,0.42)" stroke-width="0.7"/>
<circle cx="260.0" cy="67.3" r="2.05" fill="rgba(0,0,0,0.17)" stroke="rgba(0,0,0,0.42)" stroke-width="0.7"/>
<circle cx="256.5" cy="115.8" r="2.05" fill="rgba(0,0,0,0.17)" stroke="rgba(0,0,0,0.42)" stroke-width="0.7"/>
<circle cx="256.4" cy="83.2" r="2.05" fill="rgba(0,0,0,0.17)" stroke="rgba(0,0,0,0.42)" stroke-width="0.7"/>
<circle cx="266.3" cy="87.9" r="2.05" fill="rgba(0,0,0,0.17)" stroke="rgba(0,0,0,0.42)" stroke-width="0.7"/>
<circle cx="267.6" cy="56.0" r="2.05" fill="rgba(0,0,0,0.17)" stroke="rgba(0,0,0,0.42)" stroke-width="0.7"/>
<circle cx="257.0" cy="60.1" r="2.05" fill="rgba(0,0,0,0.17)" stroke="rgba(0,0,0,0.42)" stroke-width="0.7"/>
<circle cx="255.0" cy="55.8" r="2.05" fill="rgba(0,0,0,0.17)" stroke="rgba(0,0,0,0.42)" stroke-width="0.7"/>
<circle cx="259.5" cy="100.1" r="2.05" fill="rgba(0,0,0,0.17)" stroke="rgba(0,0,0,0.42)" stroke-width="0.7"/>
<circle cx="258.2" cy="62.6" r="2.05" fill="rgba(0,0,0,0.17)" stroke="rgba(0,0,0,0.42)" stroke-width="0.7"/>
<circle cx="267.1" cy="65.1" r="2.05" fill="rgba(0,0,0,0.17)" stroke="rgba(0,0,0,0.42)" stroke-width="0.7"/>
<circle cx="265.3" cy="92.3" r="2.05" fill="rgba(0,0,0,0.17)" stroke="rgba(0,0,0,0.42)" stroke-width="0.7"/>
<circle cx="259.4" cy="72.6" r="2.05" fill="rgba(0,0,0,0.17)" stroke="rgba(0,0,0,0.42)" stroke-width="0.7"/>
<circle cx="259.3" cy="61.1" r="2.05" fill="rgba(0,0,0,0.17)" stroke="rgba(0,0,0,0.42)" stroke-width="0.7"/>
<circle cx="259.9" cy="62.3" r="2.05" fill="rgba(0,0,0,0.17)" stroke="rgba(0,0,0,0.42)" stroke-width="0.7"/>
<circle cx="255.1" cy="55.5" r="2.05" fill="rgba(0,0,0,0.17)" stroke="rgba(0,0,0,0.42)" stroke-width="0.7"/>
<circle cx="257.9" cy="93.4" r="2.05" fill="rgba(0,0,0,0.17)" stroke="rgba(0,0,0,0.42)" stroke-width="0.7"/>
<circle cx="259.0" cy="113.2" r="2.05" fill="rgba(0,0,0,0.17)" stroke="rgba(0,0,0,0.42)" stroke-width="0.7"/>
<circle cx="258.0" cy="75.6" r="2.05" fill="rgba(0,0,0,0.17)" stroke="rgba(0,0,0,0.42)" stroke-width="0.7"/>
<circle cx="258.2" cy="99.0" r="2.05" fill="rgba(0,0,0,0.17)" stroke="rgba(0,0,0,0.42)" stroke-width="0.7"/>
<circle cx="262.8" cy="93.3" r="2.05" fill="rgba(0,0,0,0.17)" stroke="rgba(0,0,0,0.42)" stroke-width="0.7"/>
<circle cx="257.6" cy="62.3" r="2.05" fill="rgba(0,0,0,0.17)" stroke="rgba(0,0,0,0.42)" stroke-width="0.7"/>
<circle cx="259.6" cy="82.8" r="2.05" fill="rgba(0,0,0,0.17)" stroke="rgba(0,0,0,0.42)" stroke-width="0.7"/>
<circle cx="266.7" cy="73.0" r="2.05" fill="rgba(0,0,0,0.17)" stroke="rgba(0,0,0,0.42)" stroke-width="0.7"/>
<circle cx="265.3" cy="91.5" r="2.05" fill="rgba(0,0,0,0.17)" stroke="rgba(0,0,0,0.42)" stroke-width="0.7"/>
<circle cx="258.9" cy="57.5" r="2.05" fill="rgba(0,0,0,0.17)" stroke="rgba(0,0,0,0.42)" stroke-width="0.7"/>
<circle cx="255.6" cy="79.2" r="2.05" fill="rgba(0,0,0,0.17)" stroke="rgba(0,0,0,0.42)" stroke-width="0.7"/>
<circle cx="255.4" cy="86.4" r="2.05" fill="rgba(0,0,0,0.17)" stroke="rgba(0,0,0,0.42)" stroke-width="0.7"/>
<circle cx="267.3" cy="87.2" r="2.05" fill="rgba(0,0,0,0.17)" stroke="rgba(0,0,0,0.42)" stroke-width="0.7"/>
<circle cx="258.0" cy="50.5" r="2.05" fill="rgba(0,0,0,0.17)" stroke="rgba(0,0,0,0.42)" stroke-width="0.7"/>
<circle cx="263.8" cy="89.0" r="2.05" fill="rgba(0,0,0,0.17)" stroke="rgba(0,0,0,0.42)" stroke-width="0.7"/>
<circle cx="262.7" cy="71.4" r="2.05" fill="rgba(0,0,0,0.17)" stroke="rgba(0,0,0,0.42)" stroke-width="0.7"/>
<circle cx="265.6" cy="108.1" r="2.05" fill="rgba(0,0,0,0.17)" stroke="rgba(0,0,0,0.42)" stroke-width="0.7"/>
<circle cx="262.4" cy="122.1" r="2.05" fill="rgba(0,0,0,0.17)" stroke="rgba(0,0,0,0.42)" stroke-width="0.7"/>
<circle cx="258.1" cy="49.0" r="2.05" fill="rgba(0,0,0,0.17)" stroke="rgba(0,0,0,0.42)" stroke-width="0.7"/>
<line x1="261.10" y1="49.00" x2="261.10" y2="62.50" stroke="#000" stroke-width="1.5" />
<line x1="261.10" y1="94.20" x2="261.10" y2="122.10" stroke="#000" stroke-width="1.5" />
<rect x="246.60" y="62.50" width="29.00" height="31.70" fill="none" stroke="#000" stroke-width="1.3"/>
<line x1="246.60" y1="83.80" x2="275.60" y2="83.80" stroke="#000" stroke-width="2.6" />
<text x="261.10" y="162.30" font-size="9" text-anchor="middle" fill="#000" font-weight="normal" stroke="#000" stroke-width="0.25" >n = 33</text>
<line x1="203.70" y1="41.80" x2="261.10" y2="41.80" stroke="#000" stroke-width="1.2" />
<text x="232.40" y="39.50" font-size="9" text-anchor="middle" fill="#000" font-weight="normal" stroke="#000" stroke-width="0.25" >p = 4.57e-07</text>
<circle cx="75.7" cy="239.2" r="2.05" fill="rgba(0,0,0,0.17)" stroke="rgba(0,0,0,0.42)" stroke-width="0.7"/>
<circle cx="71.5" cy="247.0" r="2.05" fill="rgba(0,0,0,0.17)" stroke="rgba(0,0,0,0.42)" stroke-width="0.7"/>
<circle cx="75.8" cy="262.6" r="2.05" fill="rgba(0,0,0,0.17)" stroke="rgba(0,0,0,0.42)" stroke-width="0.7"/>
<circle cx="74.9" cy="254.8" r="2.05" fill="rgba(0,0,0,0.17)" stroke="rgba(0,0,0,0.42)" stroke-width="0.7"/>
<circle cx="81.2" cy="260.6" r="2.05" fill="rgba(0,0,0,0.17)" stroke="rgba(0,0,0,0.42)" stroke-width="0.7"/>
<circle cx="79.2" cy="262.0" r="2.05" fill="rgba(0,0,0,0.17)" stroke="rgba(0,0,0,0.42)" stroke-width="0.7"/>
<circle cx="72.1" cy="244.3" r="2.05" fill="rgba(0,0,0,0.17)" stroke="rgba(0,0,0,0.42)" stroke-width="0.7"/>
<circle cx="75.9" cy="263.4" r="2.05" fill="rgba(0,0,0,0.17)" stroke="rgba(0,0,0,0.42)" stroke-width="0.7"/>
<circle cx="79.6" cy="237.4" r="2.05" fill="rgba(0,0,0,0.17)" stroke="rgba(0,0,0,0.42)" stroke-width="0.7"/>
<circle cx="80.6" cy="252.7" r="2.05" fill="rgba(0,0,0,0.17)" stroke="rgba(0,0,0,0.42)" stroke-width="0.7"/>
<circle cx="71.1" cy="260.3" r="2.05" fill="rgba(0,0,0,0.17)" stroke="rgba(0,0,0,0.42)" stroke-width="0.7"/>
<circle cx="71.6" cy="247.0" r="2.05" fill="rgba(0,0,0,0.17)" stroke="rgba(0,0,0,0.42)" stroke-width="0.7"/>
<circle cx="70.9" cy="270.6" r="2.05" fill="rgba(0,0,0,0.17)" stroke="rgba(0,0,0,0.42)" stroke-width="0.7"/>
<circle cx="70.7" cy="260.8" r="2.05" fill="rgba(0,0,0,0.17)" stroke="rgba(0,0,0,0.42)" stroke-width="0.7"/>
<circle cx="75.4" cy="252.9" r="2.05" fill="rgba(0,0,0,0.17)" stroke="rgba(0,0,0,0.42)" stroke-width="0.7"/>
<circle cx="75.5" cy="258.3" r="2.05" fill="rgba(0,0,0,0.17)" stroke="rgba(0,0,0,0.42)" stroke-width="0.7"/>
<circle cx="70.4" cy="264.4" r="2.05" fill="rgba(0,0,0,0.17)" stroke="rgba(0,0,0,0.42)" stroke-width="0.7"/>
<circle cx="72.0" cy="267.6" r="2.05" fill="rgba(0,0,0,0.17)" stroke="rgba(0,0,0,0.42)" stroke-width="0.7"/>
<circle cx="75.7" cy="248.1" r="2.05" fill="rgba(0,0,0,0.17)" stroke="rgba(0,0,0,0.42)" stroke-width="0.7"/>
<circle cx="81.3" cy="253.6" r="2.05" fill="rgba(0,0,0,0.17)" stroke="rgba(0,0,0,0.42)" stroke-width="0.7"/>
<circle cx="70.9" cy="252.2" r="2.05" fill="rgba(0,0,0,0.17)" stroke="rgba(0,0,0,0.42)" stroke-width="0.7"/>
<circle cx="79.0" cy="258.6" r="2.05" fill="rgba(0,0,0,0.17)" stroke="rgba(0,0,0,0.42)" stroke-width="0.7"/>
<circle cx="70.4" cy="249.6" r="2.05" fill="rgba(0,0,0,0.17)" stroke="rgba(0,0,0,0.42)" stroke-width="0.7"/>
<circle cx="80.1" cy="260.5" r="2.05" fill="rgba(0,0,0,0.17)" stroke="rgba(0,0,0,0.42)" stroke-width="0.7"/>
<circle cx="74.9" cy="258.1" r="2.05" fill="rgba(0,0,0,0.17)" stroke="rgba(0,0,0,0.42)" stroke-width="0.7"/>
<circle cx="80.3" cy="259.4" r="2.05" fill="rgba(0,0,0,0.17)" stroke="rgba(0,0,0,0.42)" stroke-width="0.7"/>
<circle cx="80.9" cy="261.9" r="2.05" fill="rgba(0,0,0,0.17)" stroke="rgba(0,0,0,0.42)" stroke-width="0.7"/>
<circle cx="81.0" cy="263.1" r="2.05" fill="rgba(0,0,0,0.17)" stroke="rgba(0,0,0,0.42)" stroke-width="0.7"/>
<circle cx="73.3" cy="254.2" r="2.05" fill="rgba(0,0,0,0.17)" stroke="rgba(0,0,0,0.42)" stroke-width="0.7"/>
<circle cx="79.0" cy="231.0" r="2.05" fill="rgba(0,0,0,0.17)" stroke="rgba(0,0,0,0.42)" stroke-width="0.7"/>
<circle cx="73.6" cy="256.8" r="2.05" fill="rgba(0,0,0,0.17)" stroke="rgba(0,0,0,0.42)" stroke-width="0.7"/>
<circle cx="70.7" cy="223.5" r="2.05" fill="rgba(0,0,0,0.17)" stroke="rgba(0,0,0,0.42)" stroke-width="0.7"/>
<circle cx="73.3" cy="259.4" r="2.05" fill="rgba(0,0,0,0.17)" stroke="rgba(0,0,0,0.42)" stroke-width="0.7"/>
<circle cx="80.0" cy="261.2" r="2.05" fill="rgba(0,0,0,0.17)" stroke="rgba(0,0,0,0.42)" stroke-width="0.7"/>
<circle cx="68.8" cy="261.5" r="2.05" fill="rgba(0,0,0,0.17)" stroke="rgba(0,0,0,0.42)" stroke-width="0.7"/>
<circle cx="76.1" cy="242.8" r="2.05" fill="rgba(0,0,0,0.17)" stroke="rgba(0,0,0,0.42)" stroke-width="0.7"/>
<circle cx="72.3" cy="270.3" r="2.05" fill="rgba(0,0,0,0.17)" stroke="rgba(0,0,0,0.42)" stroke-width="0.7"/>
<circle cx="76.9" cy="249.2" r="2.05" fill="rgba(0,0,0,0.17)" stroke="rgba(0,0,0,0.42)" stroke-width="0.7"/>
<circle cx="76.3" cy="245.2" r="2.05" fill="rgba(0,0,0,0.17)" stroke="rgba(0,0,0,0.42)" stroke-width="0.7"/>
<circle cx="78.4" cy="252.6" r="2.05" fill="rgba(0,0,0,0.17)" stroke="rgba(0,0,0,0.42)" stroke-width="0.7"/>
<circle cx="69.7" cy="249.7" r="2.05" fill="rgba(0,0,0,0.17)" stroke="rgba(0,0,0,0.42)" stroke-width="0.7"/>
<circle cx="74.0" cy="255.7" r="2.05" fill="rgba(0,0,0,0.17)" stroke="rgba(0,0,0,0.42)" stroke-width="0.7"/>
<circle cx="76.6" cy="264.0" r="2.05" fill="rgba(0,0,0,0.17)" stroke="rgba(0,0,0,0.42)" stroke-width="0.7"/>
<circle cx="74.9" cy="261.7" r="2.05" fill="rgba(0,0,0,0.17)" stroke="rgba(0,0,0,0.42)" stroke-width="0.7"/>
<circle cx="80.7" cy="258.2" r="2.05" fill="rgba(0,0,0,0.17)" stroke="rgba(0,0,0,0.42)" stroke-width="0.7"/>
<circle cx="77.8" cy="263.6" r="2.05" fill="rgba(0,0,0,0.17)" stroke="rgba(0,0,0,0.42)" stroke-width="0.7"/>
<circle cx="81.1" cy="241.3" r="2.05" fill="rgba(0,0,0,0.17)" stroke="rgba(0,0,0,0.42)" stroke-width="0.7"/>
<circle cx="70.4" cy="254.1" r="2.05" fill="rgba(0,0,0,0.17)" stroke="rgba(0,0,0,0.42)" stroke-width="0.7"/>
<circle cx="69.2" cy="218.0" r="2.05" fill="rgba(0,0,0,0.17)" stroke="rgba(0,0,0,0.42)" stroke-width="0.7"/>
<circle cx="80.0" cy="246.6" r="2.05" fill="rgba(0,0,0,0.17)" stroke="rgba(0,0,0,0.42)" stroke-width="0.7"/>
<circle cx="74.8" cy="246.4" r="2.05" fill="rgba(0,0,0,0.17)" stroke="rgba(0,0,0,0.42)" stroke-width="0.7"/>
<circle cx="71.7" cy="241.0" r="2.05" fill="rgba(0,0,0,0.17)" stroke="rgba(0,0,0,0.42)" stroke-width="0.7"/>
<circle cx="68.8" cy="266.6" r="2.05" fill="rgba(0,0,0,0.17)" stroke="rgba(0,0,0,0.42)" stroke-width="0.7"/>
<circle cx="77.1" cy="263.0" r="2.05" fill="rgba(0,0,0,0.17)" stroke="rgba(0,0,0,0.42)" stroke-width="0.7"/>
<circle cx="78.5" cy="241.8" r="2.05" fill="rgba(0,0,0,0.17)" stroke="rgba(0,0,0,0.42)" stroke-width="0.7"/>
<circle cx="73.0" cy="260.4" r="2.05" fill="rgba(0,0,0,0.17)" stroke="rgba(0,0,0,0.42)" stroke-width="0.7"/>
<circle cx="75.8" cy="232.8" r="2.05" fill="rgba(0,0,0,0.17)" stroke="rgba(0,0,0,0.42)" stroke-width="0.7"/>
<circle cx="81.2" cy="243.0" r="2.05" fill="rgba(0,0,0,0.17)" stroke="rgba(0,0,0,0.42)" stroke-width="0.7"/>
<circle cx="78.7" cy="267.4" r="2.05" fill="rgba(0,0,0,0.17)" stroke="rgba(0,0,0,0.42)" stroke-width="0.7"/>
<circle cx="73.0" cy="250.7" r="2.05" fill="rgba(0,0,0,0.17)" stroke="rgba(0,0,0,0.42)" stroke-width="0.7"/>
<circle cx="70.6" cy="235.7" r="2.05" fill="rgba(0,0,0,0.17)" stroke="rgba(0,0,0,0.42)" stroke-width="0.7"/>
<circle cx="79.0" cy="264.0" r="2.05" fill="rgba(0,0,0,0.17)" stroke="rgba(0,0,0,0.42)" stroke-width="0.7"/>
<circle cx="75.9" cy="254.7" r="2.05" fill="rgba(0,0,0,0.17)" stroke="rgba(0,0,0,0.42)" stroke-width="0.7"/>
<circle cx="68.3" cy="266.5" r="2.05" fill="rgba(0,0,0,0.17)" stroke="rgba(0,0,0,0.42)" stroke-width="0.7"/>
<circle cx="73.9" cy="260.3" r="2.05" fill="rgba(0,0,0,0.17)" stroke="rgba(0,0,0,0.42)" stroke-width="0.7"/>
<circle cx="70.0" cy="275.2" r="2.05" fill="rgba(0,0,0,0.17)" stroke="rgba(0,0,0,0.42)" stroke-width="0.7"/>
<circle cx="68.3" cy="255.1" r="2.05" fill="rgba(0,0,0,0.17)" stroke="rgba(0,0,0,0.42)" stroke-width="0.7"/>
<circle cx="71.2" cy="248.5" r="2.05" fill="rgba(0,0,0,0.17)" stroke="rgba(0,0,0,0.42)" stroke-width="0.7"/>
<circle cx="71.0" cy="269.8" r="2.05" fill="rgba(0,0,0,0.17)" stroke="rgba(0,0,0,0.42)" stroke-width="0.7"/>
<circle cx="70.1" cy="268.3" r="2.05" fill="rgba(0,0,0,0.17)" stroke="rgba(0,0,0,0.42)" stroke-width="0.7"/>
<circle cx="70.2" cy="240.2" r="2.05" fill="rgba(0,0,0,0.17)" stroke="rgba(0,0,0,0.42)" stroke-width="0.7"/>
<circle cx="78.5" cy="262.5" r="2.05" fill="rgba(0,0,0,0.17)" stroke="rgba(0,0,0,0.42)" stroke-width="0.7"/>
<circle cx="76.7" cy="245.1" r="2.05" fill="rgba(0,0,0,0.17)" stroke="rgba(0,0,0,0.42)" stroke-width="0.7"/>
<circle cx="76.7" cy="266.9" r="2.05" fill="rgba(0,0,0,0.17)" stroke="rgba(0,0,0,0.42)" stroke-width="0.7"/>
<circle cx="71.5" cy="252.3" r="2.05" fill="rgba(0,0,0,0.17)" stroke="rgba(0,0,0,0.42)" stroke-width="0.7"/>
<circle cx="75.2" cy="244.2" r="2.05" fill="rgba(0,0,0,0.17)" stroke="rgba(0,0,0,0.42)" stroke-width="0.7"/>
<circle cx="78.4" cy="245.6" r="2.05" fill="rgba(0,0,0,0.17)" stroke="rgba(0,0,0,0.42)" stroke-width="0.7"/>
<circle cx="70.1" cy="263.1" r="2.05" fill="rgba(0,0,0,0.17)" stroke="rgba(0,0,0,0.42)" stroke-width="0.7"/>
<circle cx="76.6" cy="259.3" r="2.05" fill="rgba(0,0,0,0.17)" stroke="rgba(0,0,0,0.42)" stroke-width="0.7"/>
<circle cx="72.3" cy="241.7" r="2.05" fill="rgba(0,0,0,0.17)" stroke="rgba(0,0,0,0.42)" stroke-width="0.7"/>
<circle cx="78.5" cy="253.8" r="2.05" fill="rgba(0,0,0,0.17)" stroke="rgba(0,0,0,0.42)" stroke-width="0.7"/>
<circle cx="79.3" cy="263.7" r="2.05" fill="rgba(0,0,0,0.17)" stroke="rgba(0,0,0,0.42)" stroke-width="0.7"/>
<circle cx="77.9" cy="268.2" r="2.05" fill="rgba(0,0,0,0.17)" stroke="rgba(0,0,0,0.42)" stroke-width="0.7"/>
<circle cx="71.3" cy="246.0" r="2.05" fill="rgba(0,0,0,0.17)" stroke="rgba(0,0,0,0.42)" stroke-width="0.7"/>
<circle cx="77.3" cy="261.4" r="2.05" fill="rgba(0,0,0,0.17)" stroke="rgba(0,0,0,0.42)" stroke-width="0.7"/>
<circle cx="71.8" cy="228.1" r="2.05" fill="rgba(0,0,0,0.17)" stroke="rgba(0,0,0,0.42)" stroke-width="0.7"/>
<circle cx="78.5" cy="267.9" r="2.05" fill="rgba(0,0,0,0.17)" stroke="rgba(0,0,0,0.42)" stroke-width="0.7"/>
<circle cx="75.0" cy="280.8" r="2.05" fill="rgba(0,0,0,0.17)" stroke="rgba(0,0,0,0.42)" stroke-width="0.7"/>
<circle cx="72.9" cy="208.4" r="2.05" fill="rgba(0,0,0,0.17)" stroke="rgba(0,0,0,0.42)" stroke-width="0.7"/>
<circle cx="74.8" cy="208.4" r="2.05" fill="rgba(0,0,0,0.55)" stroke="rgba(0,0,0,0.6)" stroke-width="0.7"/>
<circle cx="74.8" cy="211.0" r="2.05" fill="rgba(0,0,0,0.55)" stroke="rgba(0,0,0,0.6)" stroke-width="0.7"/>
<circle cx="74.8" cy="213.5" r="2.05" fill="rgba(0,0,0,0.55)" stroke="rgba(0,0,0,0.6)" stroke-width="0.7"/>
<circle cx="74.8" cy="215.2" r="2.05" fill="rgba(0,0,0,0.55)" stroke="rgba(0,0,0,0.6)" stroke-width="0.7"/>
<line x1="74.80" y1="208.40" x2="74.80" y2="245.00" stroke="#000" stroke-width="1.5" />
<line x1="74.80" y1="263.60" x2="74.80" y2="280.80" stroke="#000" stroke-width="1.5" />
<rect x="60.30" y="245.00" width="29.00" height="18.60" fill="none" stroke="#000" stroke-width="1.3"/>
<line x1="60.30" y1="254.90" x2="89.30" y2="254.90" stroke="#000" stroke-width="2.6" />
<text x="74.80" y="301.10" font-size="9" text-anchor="middle" fill="#000" font-weight="normal" stroke="#000" stroke-width="0.25" >n = 87</text>
<circle cx="128.0" cy="271.9" r="2.05" fill="rgba(0,0,0,0.17)" stroke="rgba(0,0,0,0.42)" stroke-width="0.7"/>
<circle cx="128.6" cy="229.5" r="2.05" fill="rgba(0,0,0,0.17)" stroke="rgba(0,0,0,0.42)" stroke-width="0.7"/>
<circle cx="134.9" cy="256.6" r="2.05" fill="rgba(0,0,0,0.17)" stroke="rgba(0,0,0,0.42)" stroke-width="0.7"/>
<circle cx="128.3" cy="234.3" r="2.05" fill="rgba(0,0,0,0.17)" stroke="rgba(0,0,0,0.42)" stroke-width="0.7"/>
<circle cx="134.2" cy="219.7" r="2.05" fill="rgba(0,0,0,0.17)" stroke="rgba(0,0,0,0.42)" stroke-width="0.7"/>
<circle cx="131.3" cy="272.6" r="2.05" fill="rgba(0,0,0,0.17)" stroke="rgba(0,0,0,0.42)" stroke-width="0.7"/>
<circle cx="136.3" cy="218.2" r="2.05" fill="rgba(0,0,0,0.17)" stroke="rgba(0,0,0,0.42)" stroke-width="0.7"/>
<circle cx="129.2" cy="237.6" r="2.05" fill="rgba(0,0,0,0.17)" stroke="rgba(0,0,0,0.42)" stroke-width="0.7"/>
<circle cx="137.0" cy="244.7" r="2.05" fill="rgba(0,0,0,0.17)" stroke="rgba(0,0,0,0.42)" stroke-width="0.7"/>
<circle cx="137.3" cy="245.1" r="2.05" fill="rgba(0,0,0,0.17)" stroke="rgba(0,0,0,0.42)" stroke-width="0.7"/>
<circle cx="125.7" cy="230.1" r="2.05" fill="rgba(0,0,0,0.17)" stroke="rgba(0,0,0,0.42)" stroke-width="0.7"/>
<circle cx="134.3" cy="264.4" r="2.05" fill="rgba(0,0,0,0.17)" stroke="rgba(0,0,0,0.42)" stroke-width="0.7"/>
<circle cx="132.9" cy="258.0" r="2.05" fill="rgba(0,0,0,0.17)" stroke="rgba(0,0,0,0.42)" stroke-width="0.7"/>
<circle cx="136.8" cy="241.1" r="2.05" fill="rgba(0,0,0,0.17)" stroke="rgba(0,0,0,0.42)" stroke-width="0.7"/>
<circle cx="137.5" cy="256.2" r="2.05" fill="rgba(0,0,0,0.17)" stroke="rgba(0,0,0,0.42)" stroke-width="0.7"/>
<circle cx="125.6" cy="245.1" r="2.05" fill="rgba(0,0,0,0.17)" stroke="rgba(0,0,0,0.42)" stroke-width="0.7"/>
<circle cx="133.4" cy="215.3" r="2.05" fill="rgba(0,0,0,0.17)" stroke="rgba(0,0,0,0.42)" stroke-width="0.7"/>
<circle cx="128.9" cy="219.7" r="2.05" fill="rgba(0,0,0,0.17)" stroke="rgba(0,0,0,0.42)" stroke-width="0.7"/>
<circle cx="127.9" cy="254.1" r="2.05" fill="rgba(0,0,0,0.17)" stroke="rgba(0,0,0,0.42)" stroke-width="0.7"/>
<circle cx="128.5" cy="230.0" r="2.05" fill="rgba(0,0,0,0.17)" stroke="rgba(0,0,0,0.42)" stroke-width="0.7"/>
<circle cx="129.4" cy="234.8" r="2.05" fill="rgba(0,0,0,0.17)" stroke="rgba(0,0,0,0.42)" stroke-width="0.7"/>
<circle cx="136.3" cy="222.2" r="2.05" fill="rgba(0,0,0,0.17)" stroke="rgba(0,0,0,0.42)" stroke-width="0.7"/>
<circle cx="130.6" cy="257.7" r="2.05" fill="rgba(0,0,0,0.17)" stroke="rgba(0,0,0,0.42)" stroke-width="0.7"/>
<circle cx="134.4" cy="234.5" r="2.05" fill="rgba(0,0,0,0.17)" stroke="rgba(0,0,0,0.42)" stroke-width="0.7"/>
<circle cx="136.4" cy="259.4" r="2.05" fill="rgba(0,0,0,0.17)" stroke="rgba(0,0,0,0.42)" stroke-width="0.7"/>
<circle cx="125.2" cy="246.0" r="2.05" fill="rgba(0,0,0,0.17)" stroke="rgba(0,0,0,0.42)" stroke-width="0.7"/>
<circle cx="125.3" cy="257.1" r="2.05" fill="rgba(0,0,0,0.17)" stroke="rgba(0,0,0,0.42)" stroke-width="0.7"/>
<circle cx="127.6" cy="240.8" r="2.05" fill="rgba(0,0,0,0.17)" stroke="rgba(0,0,0,0.42)" stroke-width="0.7"/>
<circle cx="128.6" cy="241.3" r="2.05" fill="rgba(0,0,0,0.17)" stroke="rgba(0,0,0,0.42)" stroke-width="0.7"/>
<circle cx="128.0" cy="225.8" r="2.05" fill="rgba(0,0,0,0.17)" stroke="rgba(0,0,0,0.42)" stroke-width="0.7"/>
<circle cx="126.6" cy="262.6" r="2.05" fill="rgba(0,0,0,0.17)" stroke="rgba(0,0,0,0.42)" stroke-width="0.7"/>
<circle cx="135.4" cy="258.1" r="2.05" fill="rgba(0,0,0,0.17)" stroke="rgba(0,0,0,0.42)" stroke-width="0.7"/>
<circle cx="133.4" cy="267.0" r="2.05" fill="rgba(0,0,0,0.17)" stroke="rgba(0,0,0,0.42)" stroke-width="0.7"/>
<circle cx="136.8" cy="235.2" r="2.05" fill="rgba(0,0,0,0.17)" stroke="rgba(0,0,0,0.42)" stroke-width="0.7"/>
<circle cx="127.9" cy="243.9" r="2.05" fill="rgba(0,0,0,0.17)" stroke="rgba(0,0,0,0.42)" stroke-width="0.7"/>
<circle cx="130.1" cy="236.7" r="2.05" fill="rgba(0,0,0,0.17)" stroke="rgba(0,0,0,0.42)" stroke-width="0.7"/>
<circle cx="131.2" cy="226.5" r="2.05" fill="rgba(0,0,0,0.17)" stroke="rgba(0,0,0,0.42)" stroke-width="0.7"/>
<circle cx="135.0" cy="266.4" r="2.05" fill="rgba(0,0,0,0.17)" stroke="rgba(0,0,0,0.42)" stroke-width="0.7"/>
<circle cx="129.4" cy="260.8" r="2.05" fill="rgba(0,0,0,0.17)" stroke="rgba(0,0,0,0.42)" stroke-width="0.7"/>
<circle cx="134.8" cy="252.7" r="2.05" fill="rgba(0,0,0,0.17)" stroke="rgba(0,0,0,0.42)" stroke-width="0.7"/>
<circle cx="132.7" cy="254.3" r="2.05" fill="rgba(0,0,0,0.17)" stroke="rgba(0,0,0,0.42)" stroke-width="0.7"/>
<circle cx="128.3" cy="255.8" r="2.05" fill="rgba(0,0,0,0.17)" stroke="rgba(0,0,0,0.42)" stroke-width="0.7"/>
<circle cx="129.2" cy="275.2" r="2.05" fill="rgba(0,0,0,0.17)" stroke="rgba(0,0,0,0.42)" stroke-width="0.7"/>
<circle cx="130.1" cy="204.2" r="2.05" fill="rgba(0,0,0,0.17)" stroke="rgba(0,0,0,0.42)" stroke-width="0.7"/>
<circle cx="131.7" cy="180.8" r="2.05" fill="rgba(0,0,0,0.55)" stroke="rgba(0,0,0,0.6)" stroke-width="0.7"/>
<circle cx="131.7" cy="186.6" r="2.05" fill="rgba(0,0,0,0.55)" stroke="rgba(0,0,0,0.6)" stroke-width="0.7"/>
<circle cx="134.9" cy="186.6" r="2.05" fill="rgba(0,0,0,0.17)" stroke="rgba(0,0,0,0.42)" stroke-width="0.7"/>
<line x1="131.70" y1="204.20" x2="131.70" y2="229.70" stroke="#000" stroke-width="1.5" />
<line x1="131.70" y1="257.40" x2="131.70" y2="275.20" stroke="#000" stroke-width="1.5" />
<rect x="117.20" y="229.70" width="29.00" height="27.70" fill="none" stroke="#000" stroke-width="1.3"/>
<line x1="117.20" y1="243.60" x2="146.20" y2="243.60" stroke="#000" stroke-width="2.6" />
<text x="131.70" y="301.10" font-size="9" text-anchor="middle" fill="#000" font-weight="normal" stroke="#000" stroke-width="0.25" >n = 42</text>
<line x1="74.80" y1="180.40" x2="131.70" y2="180.40" stroke="#000" stroke-width="1.2" />
<text x="103.25" y="178.10" font-size="9" text-anchor="middle" fill="#000" font-weight="normal" stroke="#000" stroke-width="0.25" >p = 0.0035</text>
<circle cx="199.2" cy="271.8" r="2.05" fill="rgba(0,0,0,0.17)" stroke="rgba(0,0,0,0.42)" stroke-width="0.7"/>
<circle cx="204.0" cy="245.4" r="2.05" fill="rgba(0,0,0,0.17)" stroke="rgba(0,0,0,0.42)" stroke-width="0.7"/>
<circle cx="209.9" cy="243.7" r="2.05" fill="rgba(0,0,0,0.17)" stroke="rgba(0,0,0,0.42)" stroke-width="0.7"/>
<circle cx="209.7" cy="254.9" r="2.05" fill="rgba(0,0,0,0.17)" stroke="rgba(0,0,0,0.42)" stroke-width="0.7"/>
<circle cx="207.5" cy="253.1" r="2.05" fill="rgba(0,0,0,0.17)" stroke="rgba(0,0,0,0.42)" stroke-width="0.7"/>
<circle cx="199.8" cy="260.9" r="2.05" fill="rgba(0,0,0,0.17)" stroke="rgba(0,0,0,0.42)" stroke-width="0.7"/>
<circle cx="199.9" cy="255.0" r="2.05" fill="rgba(0,0,0,0.17)" stroke="rgba(0,0,0,0.42)" stroke-width="0.7"/>
<circle cx="207.5" cy="234.3" r="2.05" fill="rgba(0,0,0,0.17)" stroke="rgba(0,0,0,0.42)" stroke-width="0.7"/>
<circle cx="205.4" cy="262.3" r="2.05" fill="rgba(0,0,0,0.17)" stroke="rgba(0,0,0,0.42)" stroke-width="0.7"/>
<circle cx="202.5" cy="236.7" r="2.05" fill="rgba(0,0,0,0.17)" stroke="rgba(0,0,0,0.42)" stroke-width="0.7"/>
<circle cx="202.8" cy="274.6" r="2.05" fill="rgba(0,0,0,0.17)" stroke="rgba(0,0,0,0.42)" stroke-width="0.7"/>
<circle cx="202.7" cy="268.6" r="2.05" fill="rgba(0,0,0,0.17)" stroke="rgba(0,0,0,0.42)" stroke-width="0.7"/>
<circle cx="207.3" cy="251.9" r="2.05" fill="rgba(0,0,0,0.17)" stroke="rgba(0,0,0,0.42)" stroke-width="0.7"/>
<circle cx="206.0" cy="272.1" r="2.05" fill="rgba(0,0,0,0.17)" stroke="rgba(0,0,0,0.42)" stroke-width="0.7"/>
<circle cx="201.3" cy="261.3" r="2.05" fill="rgba(0,0,0,0.17)" stroke="rgba(0,0,0,0.42)" stroke-width="0.7"/>
<circle cx="202.7" cy="254.8" r="2.05" fill="rgba(0,0,0,0.17)" stroke="rgba(0,0,0,0.42)" stroke-width="0.7"/>
<circle cx="205.4" cy="218.5" r="2.05" fill="rgba(0,0,0,0.17)" stroke="rgba(0,0,0,0.42)" stroke-width="0.7"/>
<circle cx="205.3" cy="235.0" r="2.05" fill="rgba(0,0,0,0.17)" stroke="rgba(0,0,0,0.42)" stroke-width="0.7"/>
<circle cx="199.6" cy="240.7" r="2.05" fill="rgba(0,0,0,0.17)" stroke="rgba(0,0,0,0.42)" stroke-width="0.7"/>
<circle cx="202.3" cy="269.5" r="2.05" fill="rgba(0,0,0,0.17)" stroke="rgba(0,0,0,0.42)" stroke-width="0.7"/>
<circle cx="204.3" cy="230.0" r="2.05" fill="rgba(0,0,0,0.17)" stroke="rgba(0,0,0,0.42)" stroke-width="0.7"/>
<circle cx="203.9" cy="252.6" r="2.05" fill="rgba(0,0,0,0.17)" stroke="rgba(0,0,0,0.42)" stroke-width="0.7"/>
<circle cx="206.5" cy="247.9" r="2.05" fill="rgba(0,0,0,0.17)" stroke="rgba(0,0,0,0.42)" stroke-width="0.7"/>
<circle cx="208.0" cy="265.5" r="2.05" fill="rgba(0,0,0,0.17)" stroke="rgba(0,0,0,0.42)" stroke-width="0.7"/>
<circle cx="209.5" cy="260.4" r="2.05" fill="rgba(0,0,0,0.17)" stroke="rgba(0,0,0,0.42)" stroke-width="0.7"/>
<circle cx="207.1" cy="246.1" r="2.05" fill="rgba(0,0,0,0.17)" stroke="rgba(0,0,0,0.42)" stroke-width="0.7"/>
<circle cx="197.9" cy="245.7" r="2.05" fill="rgba(0,0,0,0.17)" stroke="rgba(0,0,0,0.42)" stroke-width="0.7"/>
<circle cx="202.6" cy="229.7" r="2.05" fill="rgba(0,0,0,0.17)" stroke="rgba(0,0,0,0.42)" stroke-width="0.7"/>
<circle cx="200.6" cy="233.7" r="2.05" fill="rgba(0,0,0,0.17)" stroke="rgba(0,0,0,0.42)" stroke-width="0.7"/>
<circle cx="204.1" cy="252.6" r="2.05" fill="rgba(0,0,0,0.17)" stroke="rgba(0,0,0,0.42)" stroke-width="0.7"/>
<circle cx="200.0" cy="246.1" r="2.05" fill="rgba(0,0,0,0.17)" stroke="rgba(0,0,0,0.42)" stroke-width="0.7"/>
<circle cx="205.4" cy="251.1" r="2.05" fill="rgba(0,0,0,0.17)" stroke="rgba(0,0,0,0.42)" stroke-width="0.7"/>
<circle cx="209.7" cy="232.2" r="2.05" fill="rgba(0,0,0,0.17)" stroke="rgba(0,0,0,0.42)" stroke-width="0.7"/>
<circle cx="207.8" cy="239.3" r="2.05" fill="rgba(0,0,0,0.17)" stroke="rgba(0,0,0,0.42)" stroke-width="0.7"/>
<circle cx="198.8" cy="236.1" r="2.05" fill="rgba(0,0,0,0.17)" stroke="rgba(0,0,0,0.42)" stroke-width="0.7"/>
<circle cx="208.3" cy="224.9" r="2.05" fill="rgba(0,0,0,0.17)" stroke="rgba(0,0,0,0.42)" stroke-width="0.7"/>
<circle cx="202.7" cy="232.5" r="2.05" fill="rgba(0,0,0,0.17)" stroke="rgba(0,0,0,0.42)" stroke-width="0.7"/>
<circle cx="200.9" cy="250.0" r="2.05" fill="rgba(0,0,0,0.17)" stroke="rgba(0,0,0,0.42)" stroke-width="0.7"/>
<circle cx="202.8" cy="247.2" r="2.05" fill="rgba(0,0,0,0.17)" stroke="rgba(0,0,0,0.42)" stroke-width="0.7"/>
<circle cx="201.9" cy="266.0" r="2.05" fill="rgba(0,0,0,0.17)" stroke="rgba(0,0,0,0.42)" stroke-width="0.7"/>
<circle cx="197.9" cy="214.9" r="2.05" fill="rgba(0,0,0,0.17)" stroke="rgba(0,0,0,0.42)" stroke-width="0.7"/>
<circle cx="207.4" cy="213.1" r="2.05" fill="rgba(0,0,0,0.17)" stroke="rgba(0,0,0,0.42)" stroke-width="0.7"/>
<circle cx="197.4" cy="249.0" r="2.05" fill="rgba(0,0,0,0.17)" stroke="rgba(0,0,0,0.42)" stroke-width="0.7"/>
<circle cx="200.5" cy="249.2" r="2.05" fill="rgba(0,0,0,0.17)" stroke="rgba(0,0,0,0.42)" stroke-width="0.7"/>
<circle cx="207.3" cy="244.3" r="2.05" fill="rgba(0,0,0,0.17)" stroke="rgba(0,0,0,0.42)" stroke-width="0.7"/>
<circle cx="207.5" cy="240.3" r="2.05" fill="rgba(0,0,0,0.17)" stroke="rgba(0,0,0,0.42)" stroke-width="0.7"/>
<circle cx="207.4" cy="248.7" r="2.05" fill="rgba(0,0,0,0.17)" stroke="rgba(0,0,0,0.42)" stroke-width="0.7"/>
<circle cx="207.4" cy="273.9" r="2.05" fill="rgba(0,0,0,0.17)" stroke="rgba(0,0,0,0.42)" stroke-width="0.7"/>
<circle cx="206.2" cy="227.0" r="2.05" fill="rgba(0,0,0,0.17)" stroke="rgba(0,0,0,0.42)" stroke-width="0.7"/>
<circle cx="202.9" cy="268.4" r="2.05" fill="rgba(0,0,0,0.17)" stroke="rgba(0,0,0,0.42)" stroke-width="0.7"/>
<circle cx="200.6" cy="221.6" r="2.05" fill="rgba(0,0,0,0.17)" stroke="rgba(0,0,0,0.42)" stroke-width="0.7"/>
<circle cx="198.0" cy="247.3" r="2.05" fill="rgba(0,0,0,0.17)" stroke="rgba(0,0,0,0.42)" stroke-width="0.7"/>
<circle cx="203.7" cy="235.4" r="2.05" fill="rgba(0,0,0,0.17)" stroke="rgba(0,0,0,0.42)" stroke-width="0.7"/>
<circle cx="197.3" cy="272.6" r="2.05" fill="rgba(0,0,0,0.17)" stroke="rgba(0,0,0,0.42)" stroke-width="0.7"/>
<circle cx="204.5" cy="223.1" r="2.05" fill="rgba(0,0,0,0.17)" stroke="rgba(0,0,0,0.42)" stroke-width="0.7"/>
<circle cx="202.1" cy="271.7" r="2.05" fill="rgba(0,0,0,0.17)" stroke="rgba(0,0,0,0.42)" stroke-width="0.7"/>
<circle cx="205.5" cy="230.4" r="2.05" fill="rgba(0,0,0,0.17)" stroke="rgba(0,0,0,0.42)" stroke-width="0.7"/>
<circle cx="205.1" cy="253.7" r="2.05" fill="rgba(0,0,0,0.17)" stroke="rgba(0,0,0,0.42)" stroke-width="0.7"/>
<circle cx="201.5" cy="275.9" r="2.05" fill="rgba(0,0,0,0.17)" stroke="rgba(0,0,0,0.42)" stroke-width="0.7"/>
<circle cx="203.5" cy="222.4" r="2.05" fill="rgba(0,0,0,0.17)" stroke="rgba(0,0,0,0.42)" stroke-width="0.7"/>
<circle cx="206.5" cy="229.1" r="2.05" fill="rgba(0,0,0,0.17)" stroke="rgba(0,0,0,0.42)" stroke-width="0.7"/>
<circle cx="208.4" cy="259.0" r="2.05" fill="rgba(0,0,0,0.17)" stroke="rgba(0,0,0,0.42)" stroke-width="0.7"/>
<circle cx="207.2" cy="235.8" r="2.05" fill="rgba(0,0,0,0.17)" stroke="rgba(0,0,0,0.42)" stroke-width="0.7"/>
<circle cx="204.4" cy="246.5" r="2.05" fill="rgba(0,0,0,0.17)" stroke="rgba(0,0,0,0.42)" stroke-width="0.7"/>
<circle cx="208.0" cy="225.7" r="2.05" fill="rgba(0,0,0,0.17)" stroke="rgba(0,0,0,0.42)" stroke-width="0.7"/>
<circle cx="203.8" cy="232.8" r="2.05" fill="rgba(0,0,0,0.17)" stroke="rgba(0,0,0,0.42)" stroke-width="0.7"/>
<circle cx="207.5" cy="219.8" r="2.05" fill="rgba(0,0,0,0.17)" stroke="rgba(0,0,0,0.42)" stroke-width="0.7"/>
<circle cx="204.8" cy="233.1" r="2.05" fill="rgba(0,0,0,0.17)" stroke="rgba(0,0,0,0.42)" stroke-width="0.7"/>
<circle cx="197.7" cy="269.7" r="2.05" fill="rgba(0,0,0,0.17)" stroke="rgba(0,0,0,0.42)" stroke-width="0.7"/>
<circle cx="204.3" cy="273.6" r="2.05" fill="rgba(0,0,0,0.17)" stroke="rgba(0,0,0,0.42)" stroke-width="0.7"/>
<circle cx="199.7" cy="241.6" r="2.05" fill="rgba(0,0,0,0.17)" stroke="rgba(0,0,0,0.42)" stroke-width="0.7"/>
<circle cx="205.8" cy="220.7" r="2.05" fill="rgba(0,0,0,0.17)" stroke="rgba(0,0,0,0.42)" stroke-width="0.7"/>
<circle cx="205.2" cy="213.0" r="2.05" fill="rgba(0,0,0,0.17)" stroke="rgba(0,0,0,0.42)" stroke-width="0.7"/>
<circle cx="206.3" cy="265.2" r="2.05" fill="rgba(0,0,0,0.17)" stroke="rgba(0,0,0,0.42)" stroke-width="0.7"/>
<circle cx="200.0" cy="266.6" r="2.05" fill="rgba(0,0,0,0.17)" stroke="rgba(0,0,0,0.42)" stroke-width="0.7"/>
<circle cx="207.1" cy="261.4" r="2.05" fill="rgba(0,0,0,0.17)" stroke="rgba(0,0,0,0.42)" stroke-width="0.7"/>
<circle cx="207.3" cy="241.9" r="2.05" fill="rgba(0,0,0,0.17)" stroke="rgba(0,0,0,0.42)" stroke-width="0.7"/>
<circle cx="202.0" cy="219.7" r="2.05" fill="rgba(0,0,0,0.17)" stroke="rgba(0,0,0,0.42)" stroke-width="0.7"/>
<circle cx="204.5" cy="216.8" r="2.05" fill="rgba(0,0,0,0.17)" stroke="rgba(0,0,0,0.42)" stroke-width="0.7"/>
<circle cx="201.3" cy="234.6" r="2.05" fill="rgba(0,0,0,0.17)" stroke="rgba(0,0,0,0.42)" stroke-width="0.7"/>
<circle cx="197.9" cy="240.7" r="2.05" fill="rgba(0,0,0,0.17)" stroke="rgba(0,0,0,0.42)" stroke-width="0.7"/>
<circle cx="198.7" cy="253.9" r="2.05" fill="rgba(0,0,0,0.17)" stroke="rgba(0,0,0,0.42)" stroke-width="0.7"/>
<circle cx="209.1" cy="221.3" r="2.05" fill="rgba(0,0,0,0.17)" stroke="rgba(0,0,0,0.42)" stroke-width="0.7"/>
<circle cx="204.9" cy="234.1" r="2.05" fill="rgba(0,0,0,0.17)" stroke="rgba(0,0,0,0.42)" stroke-width="0.7"/>
<circle cx="203.4" cy="209.2" r="2.05" fill="rgba(0,0,0,0.17)" stroke="rgba(0,0,0,0.42)" stroke-width="0.7"/>
<circle cx="200.0" cy="237.2" r="2.05" fill="rgba(0,0,0,0.17)" stroke="rgba(0,0,0,0.42)" stroke-width="0.7"/>
<circle cx="206.1" cy="241.6" r="2.05" fill="rgba(0,0,0,0.17)" stroke="rgba(0,0,0,0.42)" stroke-width="0.7"/>
<circle cx="208.5" cy="242.5" r="2.05" fill="rgba(0,0,0,0.17)" stroke="rgba(0,0,0,0.42)" stroke-width="0.7"/>
<circle cx="200.3" cy="250.0" r="2.05" fill="rgba(0,0,0,0.17)" stroke="rgba(0,0,0,0.42)" stroke-width="0.7"/>
<circle cx="197.9" cy="256.3" r="2.05" fill="rgba(0,0,0,0.17)" stroke="rgba(0,0,0,0.42)" stroke-width="0.7"/>
<circle cx="208.3" cy="218.5" r="2.05" fill="rgba(0,0,0,0.17)" stroke="rgba(0,0,0,0.42)" stroke-width="0.7"/>
<circle cx="205.4" cy="254.6" r="2.05" fill="rgba(0,0,0,0.17)" stroke="rgba(0,0,0,0.42)" stroke-width="0.7"/>
<circle cx="205.4" cy="283.9" r="2.05" fill="rgba(0,0,0,0.17)" stroke="rgba(0,0,0,0.42)" stroke-width="0.7"/>
<circle cx="203.4" cy="205.9" r="2.05" fill="rgba(0,0,0,0.17)" stroke="rgba(0,0,0,0.42)" stroke-width="0.7"/>
<line x1="203.70" y1="205.90" x2="203.70" y2="229.50" stroke="#000" stroke-width="1.5" />
<line x1="203.70" y1="253.30" x2="203.70" y2="283.90" stroke="#000" stroke-width="1.5" />
<rect x="189.20" y="229.50" width="29.00" height="23.80" fill="none" stroke="#000" stroke-width="1.3"/>
<line x1="189.20" y1="241.50" x2="218.20" y2="241.50" stroke="#000" stroke-width="2.6" />
<text x="203.70" y="301.10" font-size="9" text-anchor="middle" fill="#000" font-weight="normal" stroke="#000" stroke-width="0.25" >n = 92</text>
<circle cx="267.1" cy="207.9" r="2.05" fill="rgba(0,0,0,0.17)" stroke="rgba(0,0,0,0.42)" stroke-width="0.7"/>
<circle cx="254.8" cy="238.0" r="2.05" fill="rgba(0,0,0,0.17)" stroke="rgba(0,0,0,0.42)" stroke-width="0.7"/>
<circle cx="255.6" cy="254.5" r="2.05" fill="rgba(0,0,0,0.17)" stroke="rgba(0,0,0,0.42)" stroke-width="0.7"/>
<circle cx="265.8" cy="212.7" r="2.05" fill="rgba(0,0,0,0.17)" stroke="rgba(0,0,0,0.42)" stroke-width="0.7"/>
<circle cx="262.1" cy="215.0" r="2.05" fill="rgba(0,0,0,0.17)" stroke="rgba(0,0,0,0.42)" stroke-width="0.7"/>
<circle cx="265.0" cy="212.5" r="2.05" fill="rgba(0,0,0,0.17)" stroke="rgba(0,0,0,0.42)" stroke-width="0.7"/>
<circle cx="260.0" cy="218.0" r="2.05" fill="rgba(0,0,0,0.17)" stroke="rgba(0,0,0,0.42)" stroke-width="0.7"/>
<circle cx="264.8" cy="221.6" r="2.05" fill="rgba(0,0,0,0.17)" stroke="rgba(0,0,0,0.42)" stroke-width="0.7"/>
<circle cx="255.4" cy="242.4" r="2.05" fill="rgba(0,0,0,0.17)" stroke="rgba(0,0,0,0.42)" stroke-width="0.7"/>
<circle cx="265.4" cy="201.2" r="2.05" fill="rgba(0,0,0,0.17)" stroke="rgba(0,0,0,0.42)" stroke-width="0.7"/>
<circle cx="265.4" cy="221.9" r="2.05" fill="rgba(0,0,0,0.17)" stroke="rgba(0,0,0,0.42)" stroke-width="0.7"/>
<circle cx="260.2" cy="242.7" r="2.05" fill="rgba(0,0,0,0.17)" stroke="rgba(0,0,0,0.42)" stroke-width="0.7"/>
<circle cx="263.5" cy="206.4" r="2.05" fill="rgba(0,0,0,0.17)" stroke="rgba(0,0,0,0.42)" stroke-width="0.7"/>
<circle cx="265.1" cy="257.5" r="2.05" fill="rgba(0,0,0,0.17)" stroke="rgba(0,0,0,0.42)" stroke-width="0.7"/>
<circle cx="260.1" cy="213.8" r="2.05" fill="rgba(0,0,0,0.17)" stroke="rgba(0,0,0,0.42)" stroke-width="0.7"/>
<circle cx="266.1" cy="254.4" r="2.05" fill="rgba(0,0,0,0.17)" stroke="rgba(0,0,0,0.42)" stroke-width="0.7"/>
<circle cx="265.9" cy="234.9" r="2.05" fill="rgba(0,0,0,0.17)" stroke="rgba(0,0,0,0.42)" stroke-width="0.7"/>
<circle cx="265.7" cy="242.1" r="2.05" fill="rgba(0,0,0,0.17)" stroke="rgba(0,0,0,0.42)" stroke-width="0.7"/>
<circle cx="266.5" cy="201.5" r="2.05" fill="rgba(0,0,0,0.17)" stroke="rgba(0,0,0,0.42)" stroke-width="0.7"/>
<circle cx="265.0" cy="217.1" r="2.05" fill="rgba(0,0,0,0.17)" stroke="rgba(0,0,0,0.42)" stroke-width="0.7"/>
<circle cx="257.6" cy="236.7" r="2.05" fill="rgba(0,0,0,0.17)" stroke="rgba(0,0,0,0.42)" stroke-width="0.7"/>
<circle cx="260.6" cy="250.4" r="2.05" fill="rgba(0,0,0,0.17)" stroke="rgba(0,0,0,0.42)" stroke-width="0.7"/>
<circle cx="264.9" cy="233.9" r="2.05" fill="rgba(0,0,0,0.17)" stroke="rgba(0,0,0,0.42)" stroke-width="0.7"/>
<circle cx="264.6" cy="220.0" r="2.05" fill="rgba(0,0,0,0.17)" stroke="rgba(0,0,0,0.42)" stroke-width="0.7"/>
<circle cx="266.1" cy="236.2" r="2.05" fill="rgba(0,0,0,0.17)" stroke="rgba(0,0,0,0.42)" stroke-width="0.7"/>
<circle cx="262.3" cy="245.8" r="2.05" fill="rgba(0,0,0,0.17)" stroke="rgba(0,0,0,0.42)" stroke-width="0.7"/>
<circle cx="263.7" cy="225.0" r="2.05" fill="rgba(0,0,0,0.17)" stroke="rgba(0,0,0,0.42)" stroke-width="0.7"/>
<circle cx="261.3" cy="215.4" r="2.05" fill="rgba(0,0,0,0.17)" stroke="rgba(0,0,0,0.42)" stroke-width="0.7"/>
<circle cx="259.5" cy="237.8" r="2.05" fill="rgba(0,0,0,0.17)" stroke="rgba(0,0,0,0.42)" stroke-width="0.7"/>
<circle cx="256.6" cy="234.5" r="2.05" fill="rgba(0,0,0,0.17)" stroke="rgba(0,0,0,0.42)" stroke-width="0.7"/>
<circle cx="261.4" cy="243.3" r="2.05" fill="rgba(0,0,0,0.17)" stroke="rgba(0,0,0,0.42)" stroke-width="0.7"/>
<circle cx="265.9" cy="237.7" r="2.05" fill="rgba(0,0,0,0.17)" stroke="rgba(0,0,0,0.42)" stroke-width="0.7"/>
<circle cx="264.7" cy="213.8" r="2.05" fill="rgba(0,0,0,0.17)" stroke="rgba(0,0,0,0.42)" stroke-width="0.7"/>
<circle cx="265.2" cy="219.5" r="2.05" fill="rgba(0,0,0,0.17)" stroke="rgba(0,0,0,0.42)" stroke-width="0.7"/>
<circle cx="255.1" cy="207.9" r="2.05" fill="rgba(0,0,0,0.17)" stroke="rgba(0,0,0,0.42)" stroke-width="0.7"/>
<circle cx="255.3" cy="223.5" r="2.05" fill="rgba(0,0,0,0.17)" stroke="rgba(0,0,0,0.42)" stroke-width="0.7"/>
<circle cx="260.6" cy="256.4" r="2.05" fill="rgba(0,0,0,0.17)" stroke="rgba(0,0,0,0.42)" stroke-width="0.7"/>
<circle cx="255.4" cy="196.0" r="2.05" fill="rgba(0,0,0,0.17)" stroke="rgba(0,0,0,0.42)" stroke-width="0.7"/>
<circle cx="256.2" cy="244.3" r="2.05" fill="rgba(0,0,0,0.17)" stroke="rgba(0,0,0,0.42)" stroke-width="0.7"/>
<circle cx="261.9" cy="207.9" r="2.05" fill="rgba(0,0,0,0.17)" stroke="rgba(0,0,0,0.42)" stroke-width="0.7"/>
<circle cx="263.3" cy="260.8" r="2.05" fill="rgba(0,0,0,0.17)" stroke="rgba(0,0,0,0.42)" stroke-width="0.7"/>
<circle cx="267.2" cy="212.6" r="2.05" fill="rgba(0,0,0,0.17)" stroke="rgba(0,0,0,0.42)" stroke-width="0.7"/>
<circle cx="255.1" cy="208.3" r="2.05" fill="rgba(0,0,0,0.17)" stroke="rgba(0,0,0,0.42)" stroke-width="0.7"/>
<circle cx="266.4" cy="221.1" r="2.05" fill="rgba(0,0,0,0.17)" stroke="rgba(0,0,0,0.42)" stroke-width="0.7"/>
<circle cx="263.8" cy="266.9" r="2.05" fill="rgba(0,0,0,0.17)" stroke="rgba(0,0,0,0.42)" stroke-width="0.7"/>
<circle cx="257.5" cy="189.7" r="2.05" fill="rgba(0,0,0,0.17)" stroke="rgba(0,0,0,0.42)" stroke-width="0.7"/>
<circle cx="261.1" cy="278.3" r="2.05" fill="rgba(0,0,0,0.55)" stroke="rgba(0,0,0,0.6)" stroke-width="0.7"/>
<circle cx="265.2" cy="278.3" r="2.05" fill="rgba(0,0,0,0.17)" stroke="rgba(0,0,0,0.42)" stroke-width="0.7"/>
<line x1="261.10" y1="189.70" x2="261.10" y2="210.80" stroke="#000" stroke-width="1.5" />
<line x1="261.10" y1="237.80" x2="261.10" y2="266.90" stroke="#000" stroke-width="1.5" />
<rect x="246.60" y="210.80" width="29.00" height="27.00" fill="none" stroke="#000" stroke-width="1.3"/>
<line x1="246.60" y1="222.20" x2="275.60" y2="222.20" stroke="#000" stroke-width="2.6" />
<text x="261.10" y="301.10" font-size="9" text-anchor="middle" fill="#000" font-weight="normal" stroke="#000" stroke-width="0.25" >n = 44</text>
<line x1="203.70" y1="180.40" x2="261.10" y2="180.40" stroke="#000" stroke-width="1.2" />
<text x="232.40" y="178.10" font-size="9" text-anchor="middle" fill="#000" font-weight="normal" stroke="#000" stroke-width="0.25" >p = 0.0001</text>
<text x="329.60" y="12.60" font-size="18" text-anchor="start" fill="#000" font-weight="bold"  stroke="#000" stroke-width="0.45">b</text>
<rect x="385.30" y="17.00" width="124.40" height="14.00" fill="none" stroke="#000" stroke-width="1.45"/>
<text x="447.50" y="27.00" font-size="8.7" text-anchor="middle" fill="#000" font-weight="normal" stroke="#000" stroke-width="0.25" >MSB</text>
<rect x="512.30" y="17.00" width="123.60" height="14.00" fill="none" stroke="#000" stroke-width="1.45"/>
<text x="574.10" y="27.00" font-size="8.7" text-anchor="middle" fill="#000" font-weight="normal" stroke="#000" stroke-width="0.25" >ASB</text>
<rect x="635.90" y="31.00" width="14.00" height="134.80" fill="none" stroke="#000" stroke-width="1.45"/>
<text x="642.90" y="98.40" font-size="8.7" text-anchor="middle" fill="#000" font-weight="normal" stroke="#000" stroke-width="0.25" transform="rotate(90 642.9 98.4)" dy="2.9">G</text>
<rect x="635.90" y="169.20" width="14.00" height="135.00" fill="none" stroke="#000" stroke-width="1.45"/>
<text x="642.90" y="236.70" font-size="8.7" text-anchor="middle" fill="#000" font-weight="normal" stroke="#000" stroke-width="0.25" transform="rotate(90 642.9 236.7)" dy="2.9">T</text>
<g stroke="#2e2e2e" stroke-width="0.45">
<circle cx="487.7" cy="80.8" r="1.55" fill="#bbc7e6"/>
<circle cx="457.5" cy="105.0" r="1.55" fill="#b9c5e7"/>
<circle cx="485.8" cy="102.0" r="1.55" fill="#aebfea"/>
<circle cx="495.4" cy="80.8" r="1.55" fill="#d1d4e0"/>
<circle cx="499.4" cy="86.5" r="1.55" fill="#aebeea"/>
<circle cx="484.0" cy="94.5" r="1.55" fill="#b2c1e9"/>
<circle cx="471.8" cy="91.3" r="1.55" fill="#d2d5df"/>
<circle cx="475.6" cy="96.2" r="1.55" fill="#edaf9a"/>
<circle cx="488.5" cy="81.8" r="1.55" fill="#e8bcad"/>
<circle cx="492.6" cy="87.1" r="1.55" fill="#9bb2f0"/>
<circle cx="484.2" cy="89.9" r="1.55" fill="#bec8e5"/>
<circle cx="451.6" cy="94.6" r="1.55" fill="#e7c0b2"/>
<circle cx="477.7" cy="79.4" r="1.55" fill="#a9bbec"/>
<circle cx="489.6" cy="99.3" r="1.55" fill="#80a2f8"/>
<circle cx="454.1" cy="93.6" r="1.55" fill="#e9b9a8"/>
<circle cx="481.1" cy="77.3" r="1.55" fill="#d1d5e0"/>
<circle cx="458.3" cy="94.2" r="1.55" fill="#5f7be0"/>
<circle cx="453.0" cy="103.7" r="1.55" fill="#84a4f6"/>
<circle cx="449.6" cy="104.1" r="1.55" fill="#bcc7e6"/>
<circle cx="482.5" cy="77.3" r="1.55" fill="#dddcdc"/>
<circle cx="471.0" cy="80.8" r="1.55" fill="#cfd3e0"/>
<circle cx="457.4" cy="99.2" r="1.55" fill="#7698f4"/>
<circle cx="464.1" cy="93.0" r="1.55" fill="#acbdeb"/>
<circle cx="498.0" cy="98.0" r="1.55" fill="#97b0f1"/>
<circle cx="489.2" cy="104.1" r="1.55" fill="#8fabf3"/>
<circle cx="453.5" cy="97.8" r="1.55" fill="#8ba9f4"/>
<circle cx="451.2" cy="109.5" r="1.55" fill="#7293f1"/>
<circle cx="490.8" cy="99.7" r="1.55" fill="#a8bbec"/>
<circle cx="487.8" cy="88.4" r="1.55" fill="#d9d9dd"/>
<circle cx="491.5" cy="87.8" r="1.55" fill="#abbdeb"/>
<circle cx="478.1" cy="89.3" r="1.55" fill="#8aa8f5"/>
<circle cx="476.6" cy="90.5" r="1.55" fill="#c0cae5"/>
<circle cx="447.4" cy="104.6" r="1.55" fill="#b8c4e7"/>
<circle cx="451.1" cy="106.5" r="1.55" fill="#86a5f6"/>
<circle cx="465.6" cy="100.3" r="1.55" fill="#cdd2e1"/>
<circle cx="462.1" cy="87.7" r="1.55" fill="#90abf3"/>
<circle cx="492.0" cy="104.0" r="1.55" fill="#98b1f1"/>
<circle cx="480.2" cy="81.4" r="1.55" fill="#5a73db"/>
<circle cx="492.1" cy="89.8" r="1.55" fill="#96aff1"/>
<circle cx="466.3" cy="87.2" r="1.55" fill="#f1a287"/>
<circle cx="443.7" cy="109.4" r="1.55" fill="#9ab2f0"/>
<circle cx="493.6" cy="103.0" r="1.55" fill="#9cb3ef"/>
<circle cx="463.9" cy="96.4" r="1.55" fill="#e7bfb2"/>
<circle cx="480.8" cy="94.5" r="1.55" fill="#e0d5d1"/>
<circle cx="450.3" cy="108.5" r="1.55" fill="#6987e9"/>
<circle cx="473.0" cy="101.9" r="1.55" fill="#95aff1"/>
<circle cx="456.0" cy="91.2" r="1.55" fill="#b2c1e9"/>
<circle cx="463.2" cy="95.7" r="1.55" fill="#6d8bec"/>
<circle cx="491.3" cy="103.3" r="1.55" fill="#b8c4e7"/>
<circle cx="468.5" cy="94.9" r="1.55" fill="#ced2e1"/>
<circle cx="495.5" cy="95.7" r="1.55" fill="#abbceb"/>
<circle cx="454.4" cy="107.6" r="1.55" fill="#7292f0"/>
<circle cx="475.5" cy="78.3" r="1.55" fill="#a6b9ec"/>
<circle cx="477.1" cy="84.5" r="1.55" fill="#acbdeb"/>
<circle cx="449.8" cy="106.0" r="1.55" fill="#6785e7"/>
<circle cx="489.6" cy="89.7" r="1.55" fill="#b3c1e9"/>
<circle cx="494.4" cy="90.4" r="1.55" fill="#b4c2e8"/>
<circle cx="482.1" cy="79.9" r="1.55" fill="#aebeea"/>
<circle cx="466.4" cy="94.9" r="1.55" fill="#c6cee3"/>
<circle cx="489.6" cy="87.4" r="1.55" fill="#b1c1e9"/>
<circle cx="468.4" cy="98.4" r="1.55" fill="#d7d8de"/>
<circle cx="440.4" cy="113.0" r="1.55" fill="#5066d2"/>
<circle cx="467.2" cy="100.4" r="1.55" fill="#d7d8de"/>
<circle cx="451.6" cy="110.9" r="1.55" fill="#637fe3"/>
<circle cx="487.7" cy="95.0" r="1.55" fill="#bcc7e6"/>
<circle cx="470.5" cy="94.2" r="1.55" fill="#b7c4e7"/>
<circle cx="478.2" cy="99.6" r="1.55" fill="#cfd3e0"/>
<circle cx="474.4" cy="86.6" r="1.55" fill="#dfd6d4"/>
<circle cx="446.5" cy="101.9" r="1.55" fill="#c9d0e2"/>
<circle cx="502.3" cy="93.7" r="1.55" fill="#96aff1"/>
<circle cx="491.3" cy="96.6" r="1.55" fill="#bfc9e5"/>
<circle cx="489.0" cy="96.7" r="1.55" fill="#7b9ef8"/>
<circle cx="491.8" cy="84.5" r="1.55" fill="#b4c2e8"/>
<circle cx="490.1" cy="94.6" r="1.55" fill="#abbdeb"/>
<circle cx="490.1" cy="85.7" r="1.55" fill="#b2c1e9"/>
<circle cx="476.1" cy="94.0" r="1.55" fill="#a1b6ee"/>
<circle cx="468.0" cy="87.9" r="1.55" fill="#c1cbe4"/>
<circle cx="458.5" cy="101.7" r="1.55" fill="#546dd6"/>
<circle cx="487.1" cy="84.9" r="1.55" fill="#dedbda"/>
<circle cx="496.5" cy="89.1" r="1.55" fill="#a0b6ee"/>
<circle cx="493.9" cy="92.3" r="1.55" fill="#94aef2"/>
<circle cx="452.3" cy="106.6" r="1.55" fill="#97b0f1"/>
<circle cx="444.8" cy="105.9" r="1.55" fill="#7798f4"/>
<circle cx="442.2" cy="112.4" r="1.55" fill="#637fe3"/>
<circle cx="477.3" cy="98.6" r="1.55" fill="#dbdbdd"/>
<circle cx="471.2" cy="95.6" r="1.55" fill="#d0d4e0"/>
<circle cx="461.0" cy="99.7" r="1.55" fill="#b4c2e8"/>
<circle cx="475.0" cy="97.8" r="1.55" fill="#adbeea"/>
<circle cx="496.6" cy="100.1" r="1.55" fill="#aabceb"/>
<circle cx="486.6" cy="89.6" r="1.55" fill="#81a2f8"/>
<circle cx="472.9" cy="94.6" r="1.55" fill="#dadadd"/>
<circle cx="452.3" cy="98.6" r="1.55" fill="#9ab2f0"/>
<circle cx="478.2" cy="76.9" r="1.55" fill="#aebfea"/>
<circle cx="486.8" cy="83.1" r="1.55" fill="#9bb2f0"/>
<circle cx="457.7" cy="106.3" r="1.55" fill="#6481e4"/>
<circle cx="491.3" cy="92.5" r="1.55" fill="#8ba9f4"/>
<circle cx="487.5" cy="104.5" r="1.55" fill="#90acf3"/>
<circle cx="449.8" cy="107.6" r="1.55" fill="#7495f2"/>
<circle cx="461.8" cy="83.6" r="1.55" fill="#87a6f6"/>
<circle cx="474.4" cy="96.8" r="1.55" fill="#e2ccc5"/>
<circle cx="482.4" cy="92.5" r="1.55" fill="#c1cbe4"/>
<circle cx="493.8" cy="88.4" r="1.55" fill="#c0cae5"/>
<circle cx="492.9" cy="94.5" r="1.55" fill="#8fabf3"/>
<circle cx="488.0" cy="92.9" r="1.55" fill="#a6b9ec"/>
<circle cx="461.2" cy="86.9" r="1.55" fill="#bac6e6"/>
<circle cx="489.7" cy="91.9" r="1.55" fill="#99b1f0"/>
<circle cx="481.0" cy="90.0" r="1.55" fill="#c3cce4"/>
<circle cx="446.4" cy="111.7" r="1.55" fill="#6682e5"/>
<circle cx="451.4" cy="108.4" r="1.55" fill="#90acf3"/>
<circle cx="445.3" cy="110.9" r="1.55" fill="#5871da"/>
<circle cx="469.3" cy="99.8" r="1.55" fill="#c3cce4"/>
<circle cx="454.5" cy="102.2" r="1.55" fill="#d1d4e0"/>
<circle cx="463.8" cy="88.5" r="1.55" fill="#b2c1e9"/>
<circle cx="465.8" cy="96.5" r="1.55" fill="#b5c3e8"/>
<circle cx="475.5" cy="86.0" r="1.55" fill="#e7bfb2"/>
<circle cx="447.2" cy="106.0" r="1.55" fill="#6480e4"/>
<circle cx="445.4" cy="108.3" r="1.55" fill="#adbeea"/>
<circle cx="498.2" cy="99.9" r="1.55" fill="#a0b6ee"/>
<circle cx="449.6" cy="100.1" r="1.55" fill="#ef8f75"/>
<circle cx="465.1" cy="93.2" r="1.55" fill="#9fb5ee"/>
<circle cx="489.0" cy="94.4" r="1.55" fill="#b3c1e9"/>
<circle cx="485.7" cy="85.8" r="1.55" fill="#99b1f0"/>
<circle cx="481.1" cy="78.8" r="1.55" fill="#dedad9"/>
<circle cx="481.2" cy="82.1" r="1.55" fill="#e1d1cc"/>
<circle cx="479.2" cy="78.2" r="1.55" fill="#cfd3e0"/>
<circle cx="473.8" cy="87.6" r="1.55" fill="#e5c5ba"/>
<circle cx="489.9" cy="93.6" r="1.55" fill="#8daaf4"/>
<circle cx="460.6" cy="95.6" r="1.55" fill="#94aef2"/>
<circle cx="476.7" cy="78.7" r="1.55" fill="#d0d4e0"/>
<circle cx="488.8" cy="79.7" r="1.55" fill="#b5c3e8"/>
<circle cx="481.1" cy="87.6" r="1.55" fill="#dfd6d3"/>
<circle cx="459.6" cy="99.2" r="1.55" fill="#b1c0e9"/>
<circle cx="459.2" cy="96.4" r="1.55" fill="#e8bcad"/>
<circle cx="494.5" cy="104.1" r="1.55" fill="#bdc8e6"/>
<circle cx="479.2" cy="96.0" r="1.55" fill="#eab8a7"/>
<circle cx="464.7" cy="90.3" r="1.55" fill="#94aef2"/>
<circle cx="481.4" cy="91.6" r="1.55" fill="#a6b9ec"/>
<circle cx="479.7" cy="79.4" r="1.55" fill="#d5d7df"/>
<circle cx="457.4" cy="91.5" r="1.55" fill="#e1d0ca"/>
<circle cx="495.0" cy="88.2" r="1.55" fill="#c0cae5"/>
<circle cx="450.2" cy="105.0" r="1.55" fill="#789af6"/>
<circle cx="489.6" cy="102.2" r="1.55" fill="#bbc7e6"/>
<circle cx="467.1" cy="84.5" r="1.55" fill="#afbfea"/>
<circle cx="487.3" cy="60.0" r="1.55" fill="#f39e80"/>
</g>
<line x1="385.30" y1="165.80" x2="509.70" y2="31.00" stroke="#000" stroke-width="1.4" stroke-dasharray="4.3,2.2"/>
<line x1="385.30" y1="31.00" x2="385.30" y2="166.35" stroke="#000" stroke-width="1.45" />
<line x1="384.75" y1="165.80" x2="509.70" y2="165.80" stroke="#000" stroke-width="1.45" />
<line x1="382.70" y1="37.43" x2="385.30" y2="37.43" stroke="#000" stroke-width="1.305" />
<text x="380.30" y="40.53" font-size="9.0" text-anchor="end" fill="#1a1a1a" font-weight="normal" stroke="#1a1a1a" stroke-width="0.25" >0.8</text>
<line x1="382.70" y1="71.25" x2="385.30" y2="71.25" stroke="#000" stroke-width="1.305" />
<text x="380.30" y="74.35" font-size="9.0" text-anchor="end" fill="#1a1a1a" font-weight="normal" stroke="#1a1a1a" stroke-width="0.25" >0.4</text>
<line x1="382.70" y1="105.08" x2="385.30" y2="105.08" stroke="#000" stroke-width="1.305" />
<text x="380.30" y="108.18" font-size="9.0" text-anchor="end" fill="#1a1a1a" font-weight="normal" stroke="#1a1a1a" stroke-width="0.25" >0.0</text>
<line x1="382.70" y1="138.91" x2="385.30" y2="138.91" stroke="#000" stroke-width="1.305" />
<text x="380.30" y="142.01" font-size="9.0" text-anchor="end" fill="#1a1a1a" font-weight="normal" stroke="#1a1a1a" stroke-width="0.25" >-0.4</text>
<text x="394.90" y="44.40" font-size="9" text-anchor="start" fill="#000" font-weight="normal" stroke="#000" stroke-width="0.25" >n = 147</text>
<line x1="390.80" y1="95.00" x2="396.40" y2="95.00" stroke="#000" stroke-width="1.3"/>
<path d="M399.00,95.00 L395.80,92.80 L395.80,97.20 Z" fill="#000"/>
<line x1="471.70" y1="159.70" x2="471.70" y2="153.90" stroke="#000" stroke-width="1.3"/>
<path d="M471.70,150.90 L469.70,154.50 L473.70,154.50 Z" fill="#000"/>
<path d="M492.40,90.40 L498.98,88.07 L494.73,83.82 Z" fill="none" stroke="#000" stroke-width="1.05" stroke-linejoin="miter"/>
<text x="495.10" y="82.00" font-size="7.9" text-anchor="start" fill="#333" font-weight="normal" stroke="#333" stroke-width="0.12" >625</text>
<g stroke="#2e2e2e" stroke-width="0.45">
<circle cx="592.7" cy="96.9" r="1.55" fill="#e1d0cb"/>
<circle cx="568.9" cy="104.1" r="1.55" fill="#b6c3e8"/>
<circle cx="589.8" cy="92.4" r="1.55" fill="#f49a7b"/>
<circle cx="594.2" cy="87.3" r="1.55" fill="#e1d1cc"/>
<circle cx="592.9" cy="88.8" r="1.55" fill="#bfc9e5"/>
<circle cx="585.0" cy="104.3" r="1.55" fill="#c1cbe4"/>
<circle cx="586.8" cy="85.1" r="1.55" fill="#aabceb"/>
<circle cx="583.6" cy="107.4" r="1.55" fill="#e7beb0"/>
<circle cx="595.5" cy="82.1" r="1.55" fill="#edae99"/>
<circle cx="588.8" cy="103.3" r="1.55" fill="#da5d59"/>
<circle cx="581.1" cy="98.1" r="1.55" fill="#e9baaa"/>
<circle cx="577.7" cy="108.6" r="1.55" fill="#db5e59"/>
<circle cx="586.1" cy="99.1" r="1.55" fill="#edad97"/>
<circle cx="590.2" cy="88.9" r="1.55" fill="#d3d5df"/>
<circle cx="593.3" cy="93.3" r="1.55" fill="#e8bdaf"/>
<circle cx="592.1" cy="88.0" r="1.55" fill="#eab8a7"/>
<circle cx="581.1" cy="101.9" r="1.55" fill="#e7bfb2"/>
<circle cx="570.7" cy="102.2" r="1.55" fill="#e0d4d1"/>
<circle cx="601.1" cy="104.5" r="1.55" fill="#9bb2f0"/>
<circle cx="599.9" cy="88.8" r="1.55" fill="#e3cbc3"/>
<circle cx="578.4" cy="99.1" r="1.55" fill="#db605a"/>
<circle cx="590.3" cy="94.7" r="1.55" fill="#e0d2ce"/>
<circle cx="593.1" cy="90.9" r="1.55" fill="#cad0e2"/>
<circle cx="596.3" cy="105.9" r="1.55" fill="#a6baec"/>
<circle cx="604.0" cy="84.0" r="1.55" fill="#efa88f"/>
<circle cx="597.6" cy="93.6" r="1.55" fill="#86a5f6"/>
<circle cx="599.7" cy="85.9" r="1.55" fill="#e6c2b6"/>
<circle cx="598.3" cy="100.5" r="1.55" fill="#a0b6ee"/>
<circle cx="567.2" cy="104.2" r="1.55" fill="#f2a185"/>
<circle cx="580.3" cy="99.5" r="1.55" fill="#edad97"/>
<circle cx="590.8" cy="91.1" r="1.55" fill="#bec8e5"/>
<circle cx="580.1" cy="97.3" r="1.55" fill="#edaf9a"/>
<circle cx="600.0" cy="92.1" r="1.55" fill="#dfd6d4"/>
<circle cx="579.2" cy="100.1" r="1.55" fill="#ec8770"/>
<circle cx="587.1" cy="96.1" r="1.55" fill="#e4c8bf"/>
<circle cx="581.1" cy="91.8" r="1.55" fill="#e0d5d1"/>
<circle cx="590.7" cy="97.0" r="1.55" fill="#f0a68c"/>
<circle cx="582.9" cy="89.1" r="1.55" fill="#e8bcad"/>
<circle cx="599.0" cy="83.2" r="1.55" fill="#e9806c"/>
<circle cx="584.9" cy="86.4" r="1.55" fill="#edaf9a"/>
<circle cx="598.1" cy="92.0" r="1.55" fill="#dbdbdd"/>
<circle cx="575.0" cy="97.5" r="1.55" fill="#e4c7bd"/>
<circle cx="581.9" cy="103.0" r="1.55" fill="#f49b7c"/>
<circle cx="592.6" cy="98.0" r="1.55" fill="#e2cfc9"/>
<circle cx="586.9" cy="100.0" r="1.55" fill="#e87f6c"/>
<circle cx="591.8" cy="89.7" r="1.55" fill="#ded9d8"/>
<circle cx="572.9" cy="102.7" r="1.55" fill="#dadadd"/>
<circle cx="580.2" cy="94.7" r="1.55" fill="#f1a388"/>
<circle cx="569.3" cy="106.0" r="1.55" fill="#eab5a3"/>
<circle cx="596.4" cy="92.5" r="1.55" fill="#f0a78e"/>
<circle cx="589.9" cy="98.8" r="1.55" fill="#f2a185"/>
<circle cx="590.8" cy="93.5" r="1.55" fill="#e5c5bb"/>
<circle cx="596.2" cy="100.9" r="1.55" fill="#c3cce4"/>
<circle cx="591.8" cy="93.3" r="1.55" fill="#f2a185"/>
<circle cx="586.5" cy="92.1" r="1.55" fill="#f1a287"/>
<circle cx="599.6" cy="78.1" r="1.55" fill="#e6c2b6"/>
<circle cx="595.2" cy="94.1" r="1.55" fill="#acbdeb"/>
<circle cx="596.1" cy="87.9" r="1.55" fill="#eeac96"/>
<circle cx="580.7" cy="90.0" r="1.55" fill="#e9baab"/>
<circle cx="601.9" cy="94.2" r="1.55" fill="#a4b8ed"/>
<circle cx="583.3" cy="90.8" r="1.55" fill="#e8bdaf"/>
<circle cx="571.4" cy="110.4" r="1.55" fill="#f29e81"/>
<circle cx="574.2" cy="101.2" r="1.55" fill="#aebeea"/>
<circle cx="574.6" cy="104.2" r="1.55" fill="#c9cfe2"/>
<circle cx="588.5" cy="88.3" r="1.55" fill="#e4c8be"/>
<circle cx="589.8" cy="84.7" r="1.55" fill="#e1cfc9"/>
<circle cx="587.2" cy="102.1" r="1.55" fill="#e8bbac"/>
<circle cx="600.2" cy="76.7" r="1.55" fill="#edae98"/>
<circle cx="590.4" cy="89.9" r="1.55" fill="#c1cae4"/>
<circle cx="579.0" cy="103.5" r="1.55" fill="#e1cfc9"/>
<circle cx="577.8" cy="95.5" r="1.55" fill="#efa991"/>
<circle cx="604.3" cy="96.6" r="1.55" fill="#9db3ef"/>
<circle cx="600.4" cy="97.8" r="1.55" fill="#abbceb"/>
<circle cx="579.7" cy="102.2" r="1.55" fill="#f39d7f"/>
<circle cx="588.7" cy="91.0" r="1.55" fill="#ded9d7"/>
<circle cx="598.9" cy="92.9" r="1.55" fill="#a0b6ee"/>
<circle cx="591.5" cy="102.6" r="1.55" fill="#a3b8ed"/>
<circle cx="577.1" cy="111.8" r="1.55" fill="#efa991"/>
<circle cx="593.0" cy="79.7" r="1.55" fill="#e9bbab"/>
<circle cx="576.5" cy="94.3" r="1.55" fill="#dddbda"/>
<circle cx="594.6" cy="104.8" r="1.55" fill="#a8bbec"/>
<circle cx="579.3" cy="91.7" r="1.55" fill="#ded9d8"/>
<circle cx="592.1" cy="101.3" r="1.55" fill="#a1b7ee"/>
<circle cx="577.5" cy="97.4" r="1.55" fill="#e5c5ba"/>
<circle cx="591.8" cy="79.4" r="1.55" fill="#e6c3b7"/>
<circle cx="572.6" cy="108.9" r="1.55" fill="#e7bfb1"/>
<circle cx="586.7" cy="104.7" r="1.55" fill="#eab6a4"/>
<circle cx="583.1" cy="103.6" r="1.55" fill="#e7c0b3"/>
<circle cx="581.8" cy="105.6" r="1.55" fill="#ebb4a2"/>
<circle cx="600.8" cy="100.2" r="1.55" fill="#cfd3e0"/>
<circle cx="602.7" cy="99.8" r="1.55" fill="#b0bfea"/>
<circle cx="593.3" cy="80.9" r="1.55" fill="#e6c3b7"/>
<circle cx="589.4" cy="95.5" r="1.55" fill="#e5c5bb"/>
<circle cx="576.7" cy="104.5" r="1.55" fill="#f09075"/>
<circle cx="585.9" cy="85.6" r="1.55" fill="#ed8a72"/>
<circle cx="597.3" cy="84.7" r="1.55" fill="#e6c3b7"/>
<circle cx="582.1" cy="91.9" r="1.55" fill="#f2a185"/>
<circle cx="574.6" cy="110.6" r="1.55" fill="#f29f83"/>
<circle cx="596.0" cy="97.8" r="1.55" fill="#adbeea"/>
<circle cx="591.5" cy="95.6" r="1.55" fill="#f1a48a"/>
<circle cx="591.6" cy="85.5" r="1.55" fill="#e4c8bf"/>
<circle cx="601.5" cy="79.2" r="1.55" fill="#e2ccc5"/>
<circle cx="575.1" cy="98.8" r="1.55" fill="#f39d7f"/>
<circle cx="570.1" cy="111.7" r="1.55" fill="#e4c9c0"/>
<circle cx="593.0" cy="85.3" r="1.55" fill="#e3cbc4"/>
<circle cx="576.7" cy="107.9" r="1.55" fill="#e1d1cc"/>
<circle cx="596.3" cy="94.5" r="1.55" fill="#f1a287"/>
<circle cx="575.8" cy="108.5" r="1.55" fill="#ecb09b"/>
<circle cx="573.8" cy="109.5" r="1.55" fill="#e3cac1"/>
<circle cx="586.7" cy="88.6" r="1.55" fill="#f19377"/>
<circle cx="602.3" cy="82.2" r="1.55" fill="#e9b9a9"/>
<circle cx="582.2" cy="99.5" r="1.55" fill="#e9b8a8"/>
<circle cx="595.0" cy="88.9" r="1.55" fill="#f1a388"/>
<circle cx="573.3" cy="107.9" r="1.55" fill="#e7c1b4"/>
<circle cx="584.6" cy="92.6" r="1.55" fill="#e6c3b8"/>
<circle cx="588.7" cy="99.9" r="1.55" fill="#f39b7d"/>
<circle cx="590.7" cy="82.6" r="1.55" fill="#d7d9de"/>
<circle cx="595.1" cy="81.1" r="1.55" fill="#e2cdc6"/>
<circle cx="565.9" cy="106.3" r="1.55" fill="#b9c5e7"/>
<circle cx="597.5" cy="99.0" r="1.55" fill="#bfc9e5"/>
<circle cx="584.2" cy="99.0" r="1.55" fill="#f1a286"/>
<circle cx="592.6" cy="94.7" r="1.55" fill="#c7cee3"/>
<circle cx="586.5" cy="103.6" r="1.55" fill="#edae98"/>
<circle cx="599.6" cy="99.2" r="1.55" fill="#b1c0e9"/>
<circle cx="569.1" cy="108.9" r="1.55" fill="#dedad9"/>
<circle cx="570.2" cy="107.9" r="1.55" fill="#dfd6d3"/>
<circle cx="597.3" cy="96.0" r="1.55" fill="#7ea1f8"/>
<circle cx="597.4" cy="83.7" r="1.55" fill="#edae98"/>
<circle cx="572.5" cy="110.9" r="1.55" fill="#d3d6df"/>
<circle cx="581.9" cy="90.5" r="1.55" fill="#f1a489"/>
<circle cx="588.9" cy="87.1" r="1.55" fill="#e9b9a9"/>
<circle cx="590.1" cy="86.2" r="1.55" fill="#f39d7f"/>
<circle cx="581.5" cy="93.4" r="1.55" fill="#e3cbc3"/>
<circle cx="583.1" cy="102.4" r="1.55" fill="#e8bbac"/>
<circle cx="569.0" cy="111.4" r="1.55" fill="#e2cdc6"/>
<circle cx="599.1" cy="90.9" r="1.55" fill="#e9baaa"/>
<circle cx="592.1" cy="81.3" r="1.55" fill="#e3cac2"/>
<circle cx="596.9" cy="102.9" r="1.55" fill="#ced3e0"/>
<circle cx="596.0" cy="78.1" r="1.55" fill="#f4997b"/>
<circle cx="599.8" cy="101.3" r="1.55" fill="#8ca9f4"/>
<circle cx="583.1" cy="100.3" r="1.55" fill="#acbdeb"/>
<circle cx="573.8" cy="105.0" r="1.55" fill="#dfd6d3"/>
<circle cx="596.9" cy="97.4" r="1.55" fill="#7799f5"/>
<circle cx="585.3" cy="89.1" r="1.55" fill="#e0d3cf"/>
<circle cx="588.3" cy="86.1" r="1.55" fill="#eab8a6"/>
<circle cx="588.2" cy="94.4" r="1.55" fill="#f49a7b"/>
<circle cx="592.6" cy="100.2" r="1.55" fill="#b5c3e8"/>
<circle cx="583.8" cy="96.4" r="1.55" fill="#ecb19d"/>
<circle cx="599.8" cy="86.9" r="1.55" fill="#f19477"/>
<circle cx="586.3" cy="90.8" r="1.55" fill="#e5c5bb"/>
<circle cx="579.6" cy="93.6" r="1.55" fill="#e8bcad"/>
<circle cx="595.4" cy="84.6" r="1.55" fill="#bec9e5"/>
<circle cx="600.5" cy="83.6" r="1.55" fill="#f39e81"/>
<circle cx="573.9" cy="99.4" r="1.55" fill="#f49b7c"/>
<circle cx="588.5" cy="84.3" r="1.55" fill="#e7bfb1"/>
<circle cx="569.1" cy="102.9" r="1.55" fill="#e1d1cc"/>
<circle cx="595.3" cy="92.3" r="1.55" fill="#b8c5e7"/>
<circle cx="594.7" cy="90.2" r="1.55" fill="#dedad9"/>
<circle cx="600.9" cy="95.7" r="1.55" fill="#a4b8ed"/>
<circle cx="596.5" cy="99.7" r="1.55" fill="#d4d7df"/>
<circle cx="596.4" cy="91.1" r="1.55" fill="#ee8c73"/>
<circle cx="581.6" cy="96.1" r="1.55" fill="#dcdbdc"/>
<circle cx="591.4" cy="97.8" r="1.55" fill="#b5c3e8"/>
<circle cx="573.9" cy="106.5" r="1.55" fill="#f0a58b"/>
<circle cx="576.2" cy="101.4" r="1.55" fill="#e5c6bc"/>
<circle cx="590.0" cy="97.8" r="1.55" fill="#e16c61"/>
<circle cx="587.7" cy="97.2" r="1.55" fill="#e3cac1"/>
<circle cx="572.6" cy="99.1" r="1.55" fill="#e8bcad"/>
<circle cx="583.4" cy="94.0" r="1.55" fill="#e5c4b9"/>
<circle cx="596.8" cy="89.5" r="1.55" fill="#f1a388"/>
<circle cx="579.9" cy="105.4" r="1.55" fill="#c4cce3"/>
<circle cx="598.9" cy="87.6" r="1.55" fill="#e7c0b2"/>
<circle cx="594.5" cy="97.5" r="1.55" fill="#acbdeb"/>
<circle cx="582.0" cy="101.4" r="1.55" fill="#ebb39f"/>
<circle cx="597.6" cy="88.9" r="1.55" fill="#f39e81"/>
<circle cx="575.7" cy="102.6" r="1.55" fill="#ec8770"/>
<circle cx="577.5" cy="100.1" r="1.55" fill="#ebb5a2"/>
<circle cx="572.9" cy="100.8" r="1.55" fill="#f39c7e"/>
<circle cx="603.6" cy="79.0" r="1.55" fill="#ebb3a0"/>
<circle cx="600.4" cy="93.4" r="1.55" fill="#9bb2f0"/>
<circle cx="584.3" cy="89.4" r="1.55" fill="#f09176"/>
<circle cx="594.0" cy="95.7" r="1.55" fill="#f19478"/>
<circle cx="591.2" cy="88.6" r="1.55" fill="#e2cfc9"/>
<circle cx="585.0" cy="103.2" r="1.55" fill="#e9b9a9"/>
<circle cx="589.4" cy="82.3" r="1.55" fill="#dfd7d5"/>
<circle cx="587.0" cy="93.4" r="1.55" fill="#8daaf4"/>
<circle cx="587.5" cy="86.9" r="1.55" fill="#e4c7bd"/>
<circle cx="578.0" cy="102.8" r="1.55" fill="#e0d3cf"/>
<circle cx="603.0" cy="94.0" r="1.55" fill="#a7baec"/>
<circle cx="600.6" cy="81.6" r="1.55" fill="#eab8a7"/>
<circle cx="608.9" cy="66.7" r="1.55" fill="#bf1d34"/>
<circle cx="590.8" cy="78.1" r="1.55" fill="#ba122e"/>
<circle cx="624.3" cy="84.0" r="1.55" fill="#98b1f1"/>
</g>
<line x1="512.30" y1="165.80" x2="635.90" y2="31.00" stroke="#000" stroke-width="1.4" stroke-dasharray="4.3,2.2"/>
<line x1="512.30" y1="31.00" x2="512.30" y2="166.35" stroke="#000" stroke-width="1.45" />
<line x1="511.75" y1="165.80" x2="635.90" y2="165.80" stroke="#000" stroke-width="1.45" />
<text x="521.90" y="44.40" font-size="9" text-anchor="start" fill="#000" font-weight="normal" stroke="#000" stroke-width="0.25" >n = 197</text>
<line x1="517.80" y1="96.40" x2="523.40" y2="96.40" stroke="#000" stroke-width="1.3"/>
<path d="M526.00,96.40 L522.80,94.20 L522.80,98.60 Z" fill="#000"/>
<line x1="586.30" y1="159.70" x2="586.30" y2="153.90" stroke="#000" stroke-width="1.3"/>
<path d="M586.30,150.90 L584.30,154.50 L588.30,154.50 Z" fill="#000"/>
<g stroke="#2e2e2e" stroke-width="0.45">
<circle cx="472.9" cy="231.0" r="1.55" fill="#dcdbdc"/>
<circle cx="475.9" cy="232.5" r="1.55" fill="#aebeea"/>
<circle cx="478.0" cy="205.7" r="1.55" fill="#e9b9a8"/>
<circle cx="486.5" cy="204.1" r="1.55" fill="#e4c9c0"/>
<circle cx="457.2" cy="242.4" r="1.55" fill="#8daaf4"/>
<circle cx="487.9" cy="210.5" r="1.55" fill="#f0a68c"/>
<circle cx="473.7" cy="219.3" r="1.55" fill="#c9cfe2"/>
<circle cx="467.9" cy="237.2" r="1.55" fill="#cbd1e1"/>
<circle cx="478.1" cy="223.5" r="1.55" fill="#d5d7de"/>
<circle cx="466.4" cy="242.3" r="1.55" fill="#9ab2f0"/>
<circle cx="469.7" cy="238.3" r="1.55" fill="#d6d8de"/>
<circle cx="469.8" cy="234.1" r="1.55" fill="#b9c6e7"/>
<circle cx="454.2" cy="239.3" r="1.55" fill="#b5c3e8"/>
<circle cx="487.4" cy="203.4" r="1.55" fill="#ebb39f"/>
<circle cx="455.7" cy="231.8" r="1.55" fill="#bdc8e5"/>
<circle cx="469.9" cy="226.5" r="1.55" fill="#c5cde3"/>
<circle cx="478.5" cy="226.5" r="1.55" fill="#e4c9c0"/>
<circle cx="472.4" cy="227.4" r="1.55" fill="#d2d5df"/>
<circle cx="451.5" cy="242.4" r="1.55" fill="#c8cee2"/>
<circle cx="469.5" cy="225.6" r="1.55" fill="#b7c4e7"/>
<circle cx="479.3" cy="238.8" r="1.55" fill="#a9bbec"/>
<circle cx="488.3" cy="238.4" r="1.55" fill="#bcc7e6"/>
<circle cx="481.5" cy="210.4" r="1.55" fill="#f0a48a"/>
<circle cx="479.9" cy="212.3" r="1.55" fill="#f39b7d"/>
<circle cx="450.7" cy="244.7" r="1.55" fill="#bdc8e6"/>
<circle cx="475.4" cy="227.1" r="1.55" fill="#dfd7d4"/>
<circle cx="473.5" cy="217.5" r="1.55" fill="#e9b8a8"/>
<circle cx="480.3" cy="235.8" r="1.55" fill="#9eb4ef"/>
<circle cx="484.8" cy="239.3" r="1.55" fill="#a4b8ed"/>
<circle cx="476.1" cy="216.2" r="1.55" fill="#f39d80"/>
<circle cx="469.3" cy="218.8" r="1.55" fill="#dddbdb"/>
<circle cx="457.8" cy="235.8" r="1.55" fill="#8da9f4"/>
<circle cx="474.6" cy="217.3" r="1.55" fill="#f0a68c"/>
<circle cx="486.2" cy="207.0" r="1.55" fill="#eeab94"/>
<circle cx="477.5" cy="216.9" r="1.55" fill="#d5d7de"/>
<circle cx="461.6" cy="237.9" r="1.55" fill="#dfd5d2"/>
<circle cx="477.1" cy="210.3" r="1.55" fill="#e27063"/>
<circle cx="464.9" cy="239.3" r="1.55" fill="#dfd7d5"/>
<circle cx="458.7" cy="241.6" r="1.55" fill="#8ca9f4"/>
<circle cx="459.9" cy="240.5" r="1.55" fill="#b8c5e7"/>
<circle cx="476.3" cy="211.4" r="1.55" fill="#edad97"/>
<circle cx="488.0" cy="200.9" r="1.55" fill="#eab6a4"/>
<circle cx="464.9" cy="235.2" r="1.55" fill="#9bb3f0"/>
<circle cx="467.1" cy="238.9" r="1.55" fill="#bcc7e6"/>
<circle cx="478.0" cy="234.7" r="1.55" fill="#acbdeb"/>
<circle cx="467.8" cy="225.3" r="1.55" fill="#9cb3ef"/>
<circle cx="479.3" cy="208.3" r="1.55" fill="#e5c4b8"/>
<circle cx="446.9" cy="242.5" r="1.55" fill="#8ca9f4"/>
<circle cx="480.6" cy="215.4" r="1.55" fill="#b5c3e8"/>
<circle cx="470.7" cy="231.1" r="1.55" fill="#c1cae5"/>
<circle cx="479.7" cy="227.3" r="1.55" fill="#b8c5e7"/>
<circle cx="482.7" cy="233.7" r="1.55" fill="#dbdbdc"/>
<circle cx="484.2" cy="222.9" r="1.55" fill="#e6c1b4"/>
<circle cx="465.5" cy="243.1" r="1.55" fill="#80a1f8"/>
<circle cx="455.7" cy="240.3" r="1.55" fill="#bcc7e6"/>
<circle cx="477.0" cy="218.9" r="1.55" fill="#e3cbc3"/>
<circle cx="457.4" cy="236.8" r="1.55" fill="#e2cdc6"/>
<circle cx="465.0" cy="237.9" r="1.55" fill="#7d9ff9"/>
<circle cx="471.7" cy="218.7" r="1.55" fill="#ced2e1"/>
<circle cx="471.7" cy="241.6" r="1.55" fill="#7b9df8"/>
<circle cx="473.2" cy="237.8" r="1.55" fill="#89a7f5"/>
<circle cx="470.5" cy="228.2" r="1.55" fill="#9ab2f0"/>
<circle cx="466.4" cy="220.4" r="1.55" fill="#ced3e1"/>
<circle cx="454.9" cy="238.1" r="1.55" fill="#adbeea"/>
<circle cx="483.5" cy="241.6" r="1.55" fill="#8eabf3"/>
<circle cx="489.7" cy="237.8" r="1.55" fill="#89a7f5"/>
<circle cx="475.5" cy="212.9" r="1.55" fill="#d4d7df"/>
<circle cx="483.4" cy="213.6" r="1.55" fill="#f1a286"/>
<circle cx="475.7" cy="229.0" r="1.55" fill="#a6b9ed"/>
<circle cx="462.4" cy="230.0" r="1.55" fill="#6b89ea"/>
<circle cx="459.8" cy="238.1" r="1.55" fill="#bec9e5"/>
<circle cx="458.2" cy="230.4" r="1.55" fill="#a1b6ee"/>
<circle cx="477.1" cy="220.7" r="1.55" fill="#eab7a6"/>
<circle cx="457.3" cy="244.4" r="1.55" fill="#8aa8f5"/>
<circle cx="471.6" cy="212.2" r="1.55" fill="#ecb29e"/>
<circle cx="479.5" cy="210.5" r="1.55" fill="#e4c8bf"/>
<circle cx="471.1" cy="239.3" r="1.55" fill="#7fa1f8"/>
<circle cx="484.4" cy="202.7" r="1.55" fill="#e5c4b8"/>
<circle cx="475.8" cy="222.1" r="1.55" fill="#d4d6df"/>
<circle cx="457.8" cy="234.4" r="1.55" fill="#e2cfc9"/>
<circle cx="468.4" cy="229.5" r="1.55" fill="#abbceb"/>
<circle cx="466.0" cy="238.1" r="1.55" fill="#bdc8e6"/>
<circle cx="474.2" cy="221.7" r="1.55" fill="#c7cee3"/>
<circle cx="472.6" cy="233.1" r="1.55" fill="#b2c1e9"/>
<circle cx="465.6" cy="225.1" r="1.55" fill="#ded8d6"/>
<circle cx="463.5" cy="230.0" r="1.55" fill="#e2cdc5"/>
<circle cx="466.8" cy="235.7" r="1.55" fill="#b1c0e9"/>
<circle cx="473.8" cy="235.3" r="1.55" fill="#a0b5ee"/>
<circle cx="476.5" cy="228.1" r="1.55" fill="#c0c9e5"/>
<circle cx="484.8" cy="210.6" r="1.55" fill="#a1b6ee"/>
<circle cx="462.7" cy="240.8" r="1.55" fill="#bbc7e6"/>
<circle cx="480.6" cy="224.3" r="1.55" fill="#7ea0f8"/>
<circle cx="475.5" cy="241.5" r="1.55" fill="#adbeea"/>
<circle cx="450.4" cy="246.0" r="1.55" fill="#b9c5e7"/>
<circle cx="463.2" cy="231.1" r="1.55" fill="#b5c3e8"/>
<circle cx="454.3" cy="240.8" r="1.55" fill="#7fa1f8"/>
<circle cx="488.0" cy="213.5" r="1.55" fill="#c3cbe4"/>
<circle cx="479.3" cy="219.5" r="1.55" fill="#e8beb0"/>
<circle cx="467.6" cy="239.9" r="1.55" fill="#7b9ef8"/>
<circle cx="488.7" cy="207.2" r="1.55" fill="#f0a58c"/>
<circle cx="479.5" cy="222.2" r="1.55" fill="#e6c2b6"/>
<circle cx="462.9" cy="239.1" r="1.55" fill="#c1cbe4"/>
<circle cx="468.7" cy="227.1" r="1.55" fill="#dcdcdc"/>
<circle cx="490.2" cy="203.1" r="1.55" fill="#ebb3a0"/>
<circle cx="471.5" cy="215.5" r="1.55" fill="#ded8d6"/>
<circle cx="481.7" cy="202.7" r="1.55" fill="#f39c7d"/>
<circle cx="477.5" cy="239.9" r="1.55" fill="#bac6e7"/>
<circle cx="474.3" cy="213.8" r="1.55" fill="#e8bcac"/>
<circle cx="476.6" cy="207.7" r="1.55" fill="#f39779"/>
<circle cx="472.2" cy="236.9" r="1.55" fill="#b3c1e9"/>
<circle cx="460.6" cy="235.2" r="1.55" fill="#89a7f5"/>
<circle cx="485.3" cy="204.9" r="1.55" fill="#ecb29e"/>
<circle cx="473.7" cy="224.9" r="1.55" fill="#dbdbdd"/>
<circle cx="475.1" cy="234.5" r="1.55" fill="#7b9ef8"/>
<circle cx="465.3" cy="228.1" r="1.55" fill="#cdd2e1"/>
<circle cx="467.3" cy="223.5" r="1.55" fill="#b2c1e9"/>
<circle cx="478.2" cy="213.3" r="1.55" fill="#f39c7e"/>
<circle cx="467.2" cy="229.4" r="1.55" fill="#d2d5df"/>
<circle cx="485.5" cy="207.9" r="1.55" fill="#ecb19c"/>
<circle cx="477.4" cy="206.6" r="1.55" fill="#e5c5ba"/>
<circle cx="491.4" cy="235.6" r="1.55" fill="#95aff1"/>
<circle cx="484.6" cy="203.8" r="1.55" fill="#f3987a"/>
<circle cx="476.0" cy="218.3" r="1.55" fill="#f49b7d"/>
<circle cx="486.4" cy="209.4" r="1.55" fill="#eeab94"/>
<circle cx="463.5" cy="233.1" r="1.55" fill="#6c8beb"/>
<circle cx="485.3" cy="234.3" r="1.55" fill="#97b0f1"/>
<circle cx="484.4" cy="238.0" r="1.55" fill="#8eaaf4"/>
<circle cx="478.3" cy="209.2" r="1.55" fill="#e9bbab"/>
<circle cx="471.7" cy="220.6" r="1.55" fill="#e8bdaf"/>
<circle cx="482.3" cy="238.5" r="1.55" fill="#8daaf4"/>
<circle cx="425.3" cy="253.2" r="1.55" fill="#e8bcad"/>
<circle cx="500.3" cy="204.2" r="1.55" fill="#d75755"/>
</g>
<line x1="385.30" y1="304.20" x2="509.70" y2="169.20" stroke="#000" stroke-width="1.4" stroke-dasharray="4.3,2.2"/>
<line x1="385.30" y1="169.20" x2="385.30" y2="304.75" stroke="#000" stroke-width="1.45" />
<line x1="384.75" y1="304.20" x2="509.70" y2="304.20" stroke="#000" stroke-width="1.45" />
<line x1="382.70" y1="175.64" x2="385.30" y2="175.64" stroke="#000" stroke-width="1.305" />
<text x="380.30" y="178.74" font-size="9.0" text-anchor="end" fill="#1a1a1a" font-weight="normal" stroke="#1a1a1a" stroke-width="0.25" >0.8</text>
<line x1="382.70" y1="209.51" x2="385.30" y2="209.51" stroke="#000" stroke-width="1.305" />
<text x="380.30" y="212.61" font-size="9.0" text-anchor="end" fill="#1a1a1a" font-weight="normal" stroke="#1a1a1a" stroke-width="0.25" >0.4</text>
<line x1="382.70" y1="243.39" x2="385.30" y2="243.39" stroke="#000" stroke-width="1.305" />
<text x="380.30" y="246.49" font-size="9.0" text-anchor="end" fill="#1a1a1a" font-weight="normal" stroke="#1a1a1a" stroke-width="0.25" >0.0</text>
<line x1="382.70" y1="277.27" x2="385.30" y2="277.27" stroke="#000" stroke-width="1.305" />
<text x="380.30" y="280.37" font-size="9.0" text-anchor="end" fill="#1a1a1a" font-weight="normal" stroke="#1a1a1a" stroke-width="0.25" >-0.4</text>
<line x1="410.12" y1="304.20" x2="410.12" y2="306.80" stroke="#000" stroke-width="1.305" />
<text x="410.12" y="316.20" font-size="9.0" text-anchor="middle" fill="#1a1a1a" font-weight="normal" stroke="#1a1a1a" stroke-width="0.25" >-0.4</text>
<line x1="441.33" y1="304.20" x2="441.33" y2="306.80" stroke="#000" stroke-width="1.305" />
<text x="441.33" y="316.20" font-size="9.0" text-anchor="middle" fill="#1a1a1a" font-weight="normal" stroke="#1a1a1a" stroke-width="0.25" >0.0</text>
<line x1="472.55" y1="304.20" x2="472.55" y2="306.80" stroke="#000" stroke-width="1.305" />
<text x="472.55" y="316.20" font-size="9.0" text-anchor="middle" fill="#1a1a1a" font-weight="normal" stroke="#1a1a1a" stroke-width="0.25" >0.4</text>
<line x1="503.77" y1="304.20" x2="503.77" y2="306.80" stroke="#000" stroke-width="1.305" />
<text x="503.77" y="316.20" font-size="9.0" text-anchor="middle" fill="#1a1a1a" font-weight="normal" stroke="#1a1a1a" stroke-width="0.25" >0.8</text>
<text x="394.90" y="182.60" font-size="9" text-anchor="start" fill="#000" font-weight="normal" stroke="#000" stroke-width="0.25" >n = 138</text>
<line x1="390.80" y1="228.80" x2="396.40" y2="228.80" stroke="#000" stroke-width="1.3"/>
<path d="M399.00,228.80 L395.80,226.60 L395.80,231.00 Z" fill="#000"/>
<line x1="476.30" y1="298.10" x2="476.30" y2="292.30" stroke="#000" stroke-width="1.3"/>
<path d="M476.30,289.30 L474.30,292.90 L478.30,292.90 Z" fill="#000"/>
<path d="M500.90,203.10 L507.48,200.77 L503.23,196.52 Z" fill="none" stroke="#000" stroke-width="1.05" stroke-linejoin="miter"/>
<text x="497.00" y="194.80" font-size="7.9" text-anchor="start" fill="#333" font-weight="normal" stroke="#333" stroke-width="0.12" >258</text>
<g stroke="#2e2e2e" stroke-width="0.45">
<circle cx="593.7" cy="234.8" r="1.55" fill="#b6c4e8"/>
<circle cx="601.3" cy="216.9" r="1.55" fill="#e27164"/>
<circle cx="598.6" cy="216.9" r="1.55" fill="#f49b7d"/>
<circle cx="586.3" cy="225.2" r="1.55" fill="#bfc9e5"/>
<circle cx="570.6" cy="248.5" r="1.55" fill="#aebeea"/>
<circle cx="578.7" cy="240.4" r="1.55" fill="#88a6f5"/>
<circle cx="592.4" cy="231.2" r="1.55" fill="#ccd1e1"/>
<circle cx="591.4" cy="227.6" r="1.55" fill="#6480e4"/>
<circle cx="581.9" cy="233.4" r="1.55" fill="#dedad9"/>
<circle cx="606.9" cy="219.3" r="1.55" fill="#eb856f"/>
<circle cx="608.5" cy="205.2" r="1.55" fill="#f29f83"/>
<circle cx="584.3" cy="234.6" r="1.55" fill="#c2cbe4"/>
<circle cx="603.0" cy="206.2" r="1.55" fill="#e06c61"/>
<circle cx="594.8" cy="213.1" r="1.55" fill="#f2a084"/>
<circle cx="580.5" cy="235.6" r="1.55" fill="#c6cee3"/>
<circle cx="606.1" cy="205.0" r="1.55" fill="#f2a083"/>
<circle cx="570.3" cy="239.4" r="1.55" fill="#82a3f7"/>
<circle cx="593.0" cy="215.9" r="1.55" fill="#f1a287"/>
<circle cx="589.8" cy="232.3" r="1.55" fill="#85a5f6"/>
<circle cx="590.2" cy="239.5" r="1.55" fill="#bdc8e6"/>
<circle cx="582.5" cy="237.8" r="1.55" fill="#a3b8ed"/>
<circle cx="590.8" cy="216.7" r="1.55" fill="#e5c4b9"/>
<circle cx="587.9" cy="229.6" r="1.55" fill="#aabceb"/>
<circle cx="601.2" cy="206.0" r="1.55" fill="#ecb29f"/>
<circle cx="572.2" cy="243.4" r="1.55" fill="#87a6f6"/>
<circle cx="594.0" cy="216.4" r="1.55" fill="#de665d"/>
<circle cx="577.4" cy="238.2" r="1.55" fill="#dfd5d2"/>
<circle cx="603.3" cy="204.0" r="1.55" fill="#f1a186"/>
<circle cx="599.7" cy="207.8" r="1.55" fill="#e9b9a8"/>
<circle cx="598.9" cy="221.8" r="1.55" fill="#e7c0b3"/>
<circle cx="599.4" cy="210.4" r="1.55" fill="#e16d61"/>
<circle cx="584.1" cy="232.7" r="1.55" fill="#bec8e5"/>
<circle cx="609.4" cy="208.4" r="1.55" fill="#e47465"/>
<circle cx="606.0" cy="209.1" r="1.55" fill="#f49a7c"/>
<circle cx="593.6" cy="222.8" r="1.55" fill="#c8cfe2"/>
<circle cx="590.1" cy="229.3" r="1.55" fill="#c1cae4"/>
<circle cx="608.6" cy="209.8" r="1.55" fill="#ef8f75"/>
<circle cx="607.3" cy="216.1" r="1.55" fill="#efa990"/>
<circle cx="600.7" cy="212.4" r="1.55" fill="#f39d7f"/>
<circle cx="587.5" cy="239.1" r="1.55" fill="#d2d5df"/>
<circle cx="603.0" cy="212.2" r="1.55" fill="#eeab95"/>
<circle cx="570.1" cy="241.4" r="1.55" fill="#dddbdb"/>
<circle cx="583.1" cy="236.2" r="1.55" fill="#cad0e2"/>
<circle cx="580.0" cy="238.5" r="1.55" fill="#abbdeb"/>
<circle cx="587.0" cy="235.2" r="1.55" fill="#96b0f1"/>
<circle cx="578.3" cy="236.8" r="1.55" fill="#7697f4"/>
<circle cx="576.0" cy="238.8" r="1.55" fill="#bec9e5"/>
<circle cx="595.7" cy="225.4" r="1.55" fill="#e3c9c1"/>
<circle cx="606.1" cy="207.9" r="1.55" fill="#df6960"/>
<circle cx="595.5" cy="230.2" r="1.55" fill="#abbceb"/>
<circle cx="586.2" cy="231.4" r="1.55" fill="#dcdbdc"/>
<circle cx="577.6" cy="244.6" r="1.55" fill="#dadadd"/>
<circle cx="585.5" cy="232.3" r="1.55" fill="#4f65d1"/>
<circle cx="586.6" cy="233.5" r="1.55" fill="#b6c4e8"/>
<circle cx="597.5" cy="221.7" r="1.55" fill="#ebb4a1"/>
<circle cx="583.5" cy="244.0" r="1.55" fill="#b0bfea"/>
<circle cx="608.7" cy="200.7" r="1.55" fill="#f0a58b"/>
<circle cx="604.0" cy="211.6" r="1.55" fill="#eab5a3"/>
<circle cx="581.4" cy="236.2" r="1.55" fill="#dddbda"/>
<circle cx="580.0" cy="230.0" r="1.55" fill="#b5c3e8"/>
<circle cx="605.1" cy="212.6" r="1.55" fill="#f49b7c"/>
<circle cx="587.4" cy="242.7" r="1.55" fill="#95aef2"/>
<circle cx="573.9" cy="247.0" r="1.55" fill="#cbd1e1"/>
<circle cx="602.5" cy="209.6" r="1.55" fill="#e6c2b6"/>
<circle cx="577.6" cy="248.2" r="1.55" fill="#a9bbec"/>
<circle cx="592.8" cy="227.2" r="1.55" fill="#d7d8de"/>
<circle cx="589.0" cy="220.8" r="1.55" fill="#ecb29e"/>
<circle cx="593.0" cy="220.4" r="1.55" fill="#f0a68d"/>
<circle cx="591.1" cy="225.1" r="1.55" fill="#e57868"/>
<circle cx="581.1" cy="240.3" r="1.55" fill="#82a3f7"/>
<circle cx="588.8" cy="235.6" r="1.55" fill="#a3b8ed"/>
<circle cx="591.2" cy="223.4" r="1.55" fill="#efa78f"/>
<circle cx="600.0" cy="213.3" r="1.55" fill="#e57767"/>
<circle cx="601.4" cy="219.2" r="1.55" fill="#f29f82"/>
<circle cx="603.4" cy="219.8" r="1.55" fill="#f29f83"/>
<circle cx="571.4" cy="245.9" r="1.55" fill="#bac6e7"/>
<circle cx="603.3" cy="214.0" r="1.55" fill="#efa88f"/>
<circle cx="588.3" cy="226.7" r="1.55" fill="#7190ef"/>
<circle cx="583.4" cy="239.5" r="1.55" fill="#e2cdc6"/>
<circle cx="591.9" cy="221.3" r="1.55" fill="#bd1932"/>
<circle cx="586.2" cy="239.4" r="1.55" fill="#c9d0e2"/>
<circle cx="578.6" cy="238.6" r="1.55" fill="#98b0f1"/>
<circle cx="604.6" cy="215.7" r="1.55" fill="#f39e81"/>
<circle cx="575.8" cy="241.1" r="1.55" fill="#7191ef"/>
<circle cx="582.7" cy="232.2" r="1.55" fill="#e6c1b5"/>
<circle cx="596.5" cy="218.5" r="1.55" fill="#ebb3a0"/>
<circle cx="587.9" cy="233.2" r="1.55" fill="#acbdeb"/>
<circle cx="600.7" cy="214.9" r="1.55" fill="#efa890"/>
<circle cx="603.4" cy="215.8" r="1.55" fill="#f2a084"/>
<circle cx="605.1" cy="211.0" r="1.55" fill="#e0d5d1"/>
<circle cx="603.0" cy="207.9" r="1.55" fill="#ee8b73"/>
<circle cx="593.2" cy="226.3" r="1.55" fill="#e47566"/>
<circle cx="597.2" cy="226.5" r="1.55" fill="#e5c5ba"/>
<circle cx="583.3" cy="226.9" r="1.55" fill="#dfd7d4"/>
<circle cx="599.7" cy="215.2" r="1.55" fill="#e9b9a9"/>
<circle cx="601.7" cy="210.5" r="1.55" fill="#efa992"/>
<circle cx="586.8" cy="229.2" r="1.55" fill="#d7d8de"/>
<circle cx="581.7" cy="242.2" r="1.55" fill="#9cb3ef"/>
<circle cx="584.1" cy="229.5" r="1.55" fill="#7292f0"/>
<circle cx="581.0" cy="239.1" r="1.55" fill="#ccd1e1"/>
<circle cx="622.5" cy="193.9" r="1.55" fill="#eb856f"/>
<circle cx="520.3" cy="269.2" r="1.55" fill="#a3b8ed"/>
<circle cx="615.3" cy="221.7" r="1.55" fill="#9cb3ef"/>
<circle cx="598.8" cy="201.0" r="1.55" fill="#d34c4f"/>
</g>
<line x1="512.30" y1="304.20" x2="635.90" y2="169.20" stroke="#000" stroke-width="1.4" stroke-dasharray="4.3,2.2"/>
<line x1="512.30" y1="169.20" x2="512.30" y2="304.75" stroke="#000" stroke-width="1.45" />
<line x1="511.75" y1="304.20" x2="635.90" y2="304.20" stroke="#000" stroke-width="1.45" />
<line x1="536.96" y1="304.20" x2="536.96" y2="306.80" stroke="#000" stroke-width="1.305" />
<text x="536.96" y="316.20" font-size="9.0" text-anchor="middle" fill="#1a1a1a" font-weight="normal" stroke="#1a1a1a" stroke-width="0.25" >-0.4</text>
<line x1="567.97" y1="304.20" x2="567.97" y2="306.80" stroke="#000" stroke-width="1.305" />
<text x="567.97" y="316.20" font-size="9.0" text-anchor="middle" fill="#1a1a1a" font-weight="normal" stroke="#1a1a1a" stroke-width="0.25" >0.0</text>
<line x1="598.99" y1="304.20" x2="598.99" y2="306.80" stroke="#000" stroke-width="1.305" />
<text x="598.99" y="316.20" font-size="9.0" text-anchor="middle" fill="#1a1a1a" font-weight="normal" stroke="#1a1a1a" stroke-width="0.25" >0.4</text>
<line x1="630.01" y1="304.20" x2="630.01" y2="306.80" stroke="#000" stroke-width="1.305" />
<text x="630.01" y="316.20" font-size="9.0" text-anchor="middle" fill="#1a1a1a" font-weight="normal" stroke="#1a1a1a" stroke-width="0.25" >0.8</text>
<text x="521.90" y="182.60" font-size="9" text-anchor="start" fill="#000" font-weight="normal" stroke="#000" stroke-width="0.25" >n = 108</text>
<line x1="517.80" y1="229.20" x2="523.40" y2="229.20" stroke="#000" stroke-width="1.3"/>
<path d="M526.00,229.20 L522.80,227.00 L522.80,231.40 Z" fill="#000"/>
<line x1="592.30" y1="298.10" x2="592.30" y2="292.30" stroke="#000" stroke-width="1.3"/>
<path d="M592.30,289.30 L590.30,292.90 L594.30,292.90 Z" fill="#000"/>
<path d="M607.30,211.90 L613.88,209.57 L609.63,205.32 Z" fill="none" stroke="#000" stroke-width="1.05" stroke-linejoin="miter"/>
<text x="613.50" y="207.60" font-size="7.9" text-anchor="start" fill="#333" font-weight="normal" stroke="#333" stroke-width="0.12" >669</text>
<g transform="translate(494.60,332.50)"><text x="0" y="0.8" font-size="10" font-style="italic" fill="#000" stroke="#000" stroke-width="0.15">R</text><path d="M2.5,-8.6 c0.7,-1.3 1.4,-1.3 2.1,-0.6 s1.4,0.7 2.1,-0.6" fill="none" stroke="#000" stroke-width="0.8"/><text x="7.9" y="-3.7" font-size="7.3" fill="#000" stroke="#000" stroke-width="0.2">2</text><text x="7.7" y="3.4" font-size="7.85" font-style="italic" fill="#000" stroke="#000" stroke-width="0.2">3D_VD</text></g>
<g transform="translate(354.10,182.60) rotate(-90)"><text x="0" y="0.8" font-size="10" font-style="italic" fill="#000" stroke="#000" stroke-width="0.15">R</text><path d="M2.5,-8.6 c0.7,-1.3 1.4,-1.3 2.1,-0.6 s1.4,0.7 2.1,-0.6" fill="none" stroke="#000" stroke-width="0.8"/><text x="7.9" y="-3.7" font-size="7.3" fill="#000" stroke="#000" stroke-width="0.2">2</text><text x="7.7" y="4.3" font-size="7.85" font-style="italic" fill="#000" stroke="#000" stroke-width="0.2">3D_VI</text></g>
<text x="4.40" y="347.80" font-size="18" text-anchor="start" fill="#000" font-weight="bold"  stroke="#000" stroke-width="0.45">c</text>
<rect x="41.60" y="353.50" width="125.30" height="14.00" fill="none" stroke="#000" stroke-width="1.45"/>
<text x="104.25" y="363.50" font-size="8.7" text-anchor="middle" fill="#000" font-weight="normal" stroke="#000" stroke-width="0.25" >MSB</text>
<rect x="169.50" y="353.50" width="125.20" height="14.00" fill="none" stroke="#000" stroke-width="1.45"/>
<text x="232.10" y="363.50" font-size="8.7" text-anchor="middle" fill="#000" font-weight="normal" stroke="#000" stroke-width="0.25" >ASB</text>
<rect x="294.70" y="367.50" width="13.90" height="136.30" fill="none" stroke="#000" stroke-width="1.45"/>
<text x="301.65" y="435.65" font-size="8.7" text-anchor="middle" fill="#000" font-weight="normal" stroke="#000" stroke-width="0.25" transform="rotate(90 301.6 435.6)" dy="2.9">G</text>
<rect x="294.70" y="507.00" width="13.90" height="136.50" fill="none" stroke="#000" stroke-width="1.45"/>
<text x="301.65" y="575.25" font-size="8.7" text-anchor="middle" fill="#000" font-weight="normal" stroke="#000" stroke-width="0.25" transform="rotate(90 301.6 575.2)" dy="2.9">T</text>
<g stroke="#2e2e2e" stroke-width="0.45">
<circle cx="109.2" cy="416.2" r="1.55" fill="#dcdbdc"/>
<circle cx="117.4" cy="428.6" r="1.55" fill="#7191ef"/>
<circle cx="125.5" cy="410.8" r="1.55" fill="#e6c1b5"/>
<circle cx="141.5" cy="428.7" r="1.55" fill="#abbdeb"/>
<circle cx="101.3" cy="416.7" r="1.55" fill="#a6b9ec"/>
<circle cx="138.7" cy="424.7" r="1.55" fill="#99b1f0"/>
<circle cx="117.2" cy="435.9" r="1.55" fill="#617de1"/>
<circle cx="127.5" cy="414.4" r="1.55" fill="#7b9ef8"/>
<circle cx="114.9" cy="435.8" r="1.55" fill="#576fd8"/>
<circle cx="98.3" cy="444.3" r="1.55" fill="#c7cee3"/>
<circle cx="149.4" cy="427.9" r="1.55" fill="#a2b7ee"/>
<circle cx="102.8" cy="441.1" r="1.55" fill="#9fb5ef"/>
<circle cx="110.9" cy="398.8" r="1.55" fill="#e1d0cb"/>
<circle cx="138.8" cy="392.7" r="1.55" fill="#dfd6d3"/>
<circle cx="104.6" cy="440.7" r="1.55" fill="#adbeea"/>
<circle cx="141.2" cy="421.9" r="1.55" fill="#87a6f6"/>
<circle cx="145.9" cy="416.8" r="1.55" fill="#87a6f6"/>
<circle cx="144.1" cy="399.1" r="1.55" fill="#d8d9de"/>
<circle cx="123.3" cy="404.0" r="1.55" fill="#eeaa93"/>
<circle cx="132.9" cy="410.8" r="1.55" fill="#a4b8ed"/>
<circle cx="144.6" cy="405.8" r="1.55" fill="#e1d1cb"/>
<circle cx="134.6" cy="429.1" r="1.55" fill="#7a9cf7"/>
<circle cx="111.2" cy="424.0" r="1.55" fill="#dfd7d4"/>
<circle cx="139.8" cy="429.2" r="1.55" fill="#b0c0e9"/>
<circle cx="136.4" cy="406.9" r="1.55" fill="#cbd1e1"/>
<circle cx="106.3" cy="423.3" r="1.55" fill="#c7cee3"/>
<circle cx="111.2" cy="408.3" r="1.55" fill="#b8c5e7"/>
<circle cx="121.4" cy="432.6" r="1.55" fill="#7d9ff9"/>
<circle cx="119.0" cy="407.8" r="1.55" fill="#9cb3ef"/>
<circle cx="147.6" cy="432.4" r="1.55" fill="#99b1f0"/>
<circle cx="151.1" cy="433.7" r="1.55" fill="#9eb4ef"/>
<circle cx="128.9" cy="397.2" r="1.55" fill="#e3cbc3"/>
<circle cx="118.0" cy="402.6" r="1.55" fill="#dfd7d4"/>
<circle cx="115.7" cy="432.3" r="1.55" fill="#7a9df7"/>
<circle cx="143.7" cy="439.6" r="1.55" fill="#aabceb"/>
<circle cx="124.9" cy="400.5" r="1.55" fill="#d6d7de"/>
<circle cx="106.5" cy="437.3" r="1.55" fill="#7191f0"/>
<circle cx="114.7" cy="420.5" r="1.55" fill="#dfd5d2"/>
<circle cx="159.1" cy="419.5" r="1.55" fill="#8daaf4"/>
<circle cx="130.4" cy="436.1" r="1.55" fill="#a9bceb"/>
<circle cx="109.2" cy="434.3" r="1.55" fill="#6f8eee"/>
<circle cx="120.2" cy="432.4" r="1.55" fill="#93aef2"/>
<circle cx="139.5" cy="417.1" r="1.55" fill="#87a6f6"/>
<circle cx="119.9" cy="430.8" r="1.55" fill="#7c9ff9"/>
<circle cx="103.0" cy="438.8" r="1.55" fill="#5d78de"/>
<circle cx="134.4" cy="398.1" r="1.55" fill="#aebfea"/>
<circle cx="132.1" cy="394.4" r="1.55" fill="#a9bbec"/>
<circle cx="134.2" cy="434.4" r="1.55" fill="#a4b8ed"/>
<circle cx="136.3" cy="416.4" r="1.55" fill="#82a3f7"/>
<circle cx="145.0" cy="434.9" r="1.55" fill="#c5cde3"/>
<circle cx="125.6" cy="409.5" r="1.55" fill="#dfd7d5"/>
<circle cx="102.9" cy="444.1" r="1.55" fill="#7192f0"/>
<circle cx="107.2" cy="410.6" r="1.55" fill="#c8cfe2"/>
<circle cx="116.5" cy="433.4" r="1.55" fill="#7c9ff9"/>
<circle cx="132.0" cy="408.3" r="1.55" fill="#dfd6d3"/>
<circle cx="133.5" cy="421.5" r="1.55" fill="#a0b6ee"/>
<circle cx="139.1" cy="435.5" r="1.55" fill="#87a6f6"/>
<circle cx="107.6" cy="412.4" r="1.55" fill="#b7c4e7"/>
<circle cx="151.2" cy="437.2" r="1.55" fill="#a7baec"/>
<circle cx="135.9" cy="415.0" r="1.55" fill="#b9c6e7"/>
<circle cx="131.1" cy="401.4" r="1.55" fill="#dddcdc"/>
<circle cx="143.9" cy="417.8" r="1.55" fill="#95aef2"/>
<circle cx="138.4" cy="402.9" r="1.55" fill="#d6d7de"/>
<circle cx="108.5" cy="441.3" r="1.55" fill="#7fa1f8"/>
<circle cx="146.8" cy="434.2" r="1.55" fill="#afbfea"/>
<circle cx="104.6" cy="415.0" r="1.55" fill="#cdd2e1"/>
<circle cx="116.1" cy="436.2" r="1.55" fill="#6c8aeb"/>
<circle cx="123.3" cy="407.2" r="1.55" fill="#ded8d6"/>
<circle cx="105.9" cy="407.2" r="1.55" fill="#d9dadd"/>
<circle cx="137.0" cy="427.9" r="1.55" fill="#a1b6ee"/>
<circle cx="107.1" cy="435.8" r="1.55" fill="#d7d9de"/>
<circle cx="133.0" cy="408.3" r="1.55" fill="#92adf2"/>
<circle cx="141.1" cy="417.1" r="1.55" fill="#a1b6ee"/>
<circle cx="143.2" cy="414.1" r="1.55" fill="#89a7f5"/>
<circle cx="130.6" cy="391.0" r="1.55" fill="#e1d0ca"/>
<circle cx="118.3" cy="405.9" r="1.55" fill="#a1b6ee"/>
<circle cx="135.5" cy="421.5" r="1.55" fill="#88a7f5"/>
<circle cx="99.2" cy="441.6" r="1.55" fill="#a5b9ed"/>
<circle cx="99.3" cy="444.7" r="1.55" fill="#d8d9de"/>
<circle cx="142.0" cy="427.7" r="1.55" fill="#adbeea"/>
<circle cx="103.7" cy="437.0" r="1.55" fill="#7d9ff9"/>
<circle cx="140.3" cy="432.7" r="1.55" fill="#9eb4ef"/>
<circle cx="102.1" cy="436.2" r="1.55" fill="#6e8dec"/>
<circle cx="155.0" cy="421.6" r="1.55" fill="#92adf2"/>
<circle cx="105.4" cy="437.3" r="1.55" fill="#88a6f6"/>
<circle cx="118.7" cy="409.5" r="1.55" fill="#bcc7e6"/>
<circle cx="133.2" cy="426.5" r="1.55" fill="#94aef2"/>
<circle cx="121.3" cy="408.9" r="1.55" fill="#90acf3"/>
<circle cx="111.5" cy="416.0" r="1.55" fill="#d0d4e0"/>
<circle cx="134.9" cy="392.2" r="1.55" fill="#e6c2b5"/>
<circle cx="143.8" cy="424.9" r="1.55" fill="#b0c0ea"/>
<circle cx="128.1" cy="398.9" r="1.55" fill="#c0cae5"/>
<circle cx="118.8" cy="432.1" r="1.55" fill="#789af6"/>
<circle cx="115.3" cy="412.5" r="1.55" fill="#e4c8bf"/>
<circle cx="110.8" cy="436.8" r="1.55" fill="#7a9df8"/>
<circle cx="108.8" cy="436.3" r="1.55" fill="#617ce1"/>
<circle cx="110.2" cy="433.3" r="1.55" fill="#7d9ff9"/>
<circle cx="103.7" cy="434.5" r="1.55" fill="#6f8eed"/>
<circle cx="118.2" cy="397.0" r="1.55" fill="#e6c1b4"/>
<circle cx="136.8" cy="435.6" r="1.55" fill="#8fabf3"/>
<circle cx="118.3" cy="437.6" r="1.55" fill="#7292f0"/>
<circle cx="145.7" cy="399.5" r="1.55" fill="#acbdeb"/>
<circle cx="119.3" cy="399.9" r="1.55" fill="#d7d8de"/>
<circle cx="148.8" cy="425.5" r="1.55" fill="#b0c0e9"/>
<circle cx="153.8" cy="432.1" r="1.55" fill="#a8bbec"/>
<circle cx="145.2" cy="425.9" r="1.55" fill="#95aff1"/>
<circle cx="148.5" cy="434.5" r="1.55" fill="#ccd1e1"/>
<circle cx="109.1" cy="407.5" r="1.55" fill="#dedad9"/>
<circle cx="107.8" cy="415.9" r="1.55" fill="#e3cbc4"/>
<circle cx="132.1" cy="416.5" r="1.55" fill="#afbfea"/>
<circle cx="125.5" cy="413.2" r="1.55" fill="#c8cfe2"/>
<circle cx="108.0" cy="438.5" r="1.55" fill="#536ad5"/>
<circle cx="111.7" cy="435.6" r="1.55" fill="#7393f1"/>
<circle cx="116.9" cy="438.2" r="1.55" fill="#627ee2"/>
<circle cx="147.3" cy="436.2" r="1.55" fill="#80a1f8"/>
<circle cx="144.1" cy="423.3" r="1.55" fill="#9db3ef"/>
<circle cx="113.4" cy="437.2" r="1.55" fill="#6784e6"/>
<circle cx="121.8" cy="406.9" r="1.55" fill="#b7c4e7"/>
<circle cx="142.9" cy="421.4" r="1.55" fill="#a3b8ed"/>
<circle cx="105.6" cy="439.2" r="1.55" fill="#ccd2e1"/>
<circle cx="115.6" cy="440.0" r="1.55" fill="#546cd6"/>
<circle cx="129.5" cy="432.1" r="1.55" fill="#9bb3f0"/>
<circle cx="144.7" cy="418.5" r="1.55" fill="#91acf3"/>
<circle cx="109.4" cy="439.1" r="1.55" fill="#6f8eee"/>
<circle cx="136.3" cy="395.2" r="1.55" fill="#a2b7ee"/>
<circle cx="106.8" cy="442.6" r="1.55" fill="#789af6"/>
<circle cx="101.9" cy="442.1" r="1.55" fill="#9eb5ef"/>
<circle cx="110.3" cy="435.2" r="1.55" fill="#7c9ff9"/>
<circle cx="133.6" cy="415.8" r="1.55" fill="#aabceb"/>
<circle cx="112.8" cy="399.7" r="1.55" fill="#d2d5df"/>
<circle cx="126.6" cy="430.3" r="1.55" fill="#99b1f0"/>
<circle cx="105.9" cy="435.2" r="1.55" fill="#c0cae5"/>
<circle cx="134.2" cy="410.8" r="1.55" fill="#bac6e6"/>
<circle cx="100.6" cy="441.7" r="1.55" fill="#c0cae5"/>
<circle cx="120.9" cy="398.3" r="1.55" fill="#b8c5e7"/>
<circle cx="143.8" cy="422.3" r="1.55" fill="#99b1f0"/>
<circle cx="121.2" cy="431.4" r="1.55" fill="#799bf6"/>
</g>
<line x1="41.60" y1="503.80" x2="166.90" y2="367.50" stroke="#000" stroke-width="1.4" stroke-dasharray="4.3,2.2"/>
<line x1="41.60" y1="367.50" x2="41.60" y2="504.35" stroke="#000" stroke-width="1.45" />
<line x1="41.05" y1="503.80" x2="166.90" y2="503.80" stroke="#000" stroke-width="1.45" />
<line x1="39.00" y1="374.00" x2="41.60" y2="374.00" stroke="#000" stroke-width="1.305" />
<text x="36.60" y="377.10" font-size="9.0" text-anchor="end" fill="#1a1a1a" font-weight="normal" stroke="#1a1a1a" stroke-width="0.25" >0.8</text>
<line x1="39.00" y1="408.20" x2="41.60" y2="408.20" stroke="#000" stroke-width="1.305" />
<text x="36.60" y="411.30" font-size="9.0" text-anchor="end" fill="#1a1a1a" font-weight="normal" stroke="#1a1a1a" stroke-width="0.25" >0.4</text>
<line x1="39.00" y1="442.41" x2="41.60" y2="442.41" stroke="#000" stroke-width="1.305" />
<text x="36.60" y="445.51" font-size="9.0" text-anchor="end" fill="#1a1a1a" font-weight="normal" stroke="#1a1a1a" stroke-width="0.25" >0.0</text>
<line x1="39.00" y1="476.61" x2="41.60" y2="476.61" stroke="#000" stroke-width="1.305" />
<text x="36.60" y="479.71" font-size="9.0" text-anchor="end" fill="#1a1a1a" font-weight="normal" stroke="#1a1a1a" stroke-width="0.25" >-0.4</text>
<text x="51.20" y="380.90" font-size="9" text-anchor="start" fill="#000" font-weight="normal" stroke="#000" stroke-width="0.25" >n = 147</text>
<line x1="47.10" y1="421.80" x2="52.70" y2="421.80" stroke="#000" stroke-width="1.3"/>
<path d="M55.30,421.80 L52.10,419.60 L52.10,424.00 Z" fill="#000"/>
<line x1="129.30" y1="497.70" x2="129.30" y2="491.90" stroke="#000" stroke-width="1.3"/>
<path d="M129.30,488.90 L127.30,492.50 L131.30,492.50 Z" fill="#000"/>
<path d="M150.20,410.80 L156.78,408.47 L152.53,404.22 Z" fill="none" stroke="#000" stroke-width="1.05" stroke-linejoin="miter"/>
<text x="154.20" y="404.50" font-size="7.9" text-anchor="start" fill="#333" font-weight="normal" stroke="#333" stroke-width="0.12" >625</text>
<g stroke="#2e2e2e" stroke-width="0.45">
<circle cx="256.0" cy="404.3" r="1.55" fill="#92adf2"/>
<circle cx="237.4" cy="435.9" r="1.55" fill="#80a1f8"/>
<circle cx="228.8" cy="440.4" r="1.55" fill="#d0d4e0"/>
<circle cx="240.1" cy="414.7" r="1.55" fill="#dfd7d5"/>
<circle cx="253.5" cy="404.8" r="1.55" fill="#b2c1e9"/>
<circle cx="239.3" cy="422.6" r="1.55" fill="#e8bcae"/>
<circle cx="240.8" cy="413.7" r="1.55" fill="#efa991"/>
<circle cx="238.8" cy="426.0" r="1.55" fill="#e0d4d0"/>
<circle cx="244.7" cy="422.7" r="1.55" fill="#e1d0cb"/>
<circle cx="227.0" cy="440.4" r="1.55" fill="#e4c9c1"/>
<circle cx="238.3" cy="421.5" r="1.55" fill="#e5c4b8"/>
<circle cx="241.6" cy="425.8" r="1.55" fill="#d4d7df"/>
<circle cx="233.5" cy="430.4" r="1.55" fill="#dfd7d4"/>
<circle cx="253.0" cy="414.3" r="1.55" fill="#e6c2b6"/>
<circle cx="234.4" cy="437.6" r="1.55" fill="#d3d5df"/>
<circle cx="254.9" cy="405.4" r="1.55" fill="#d1d5df"/>
<circle cx="244.7" cy="410.6" r="1.55" fill="#ccd1e1"/>
<circle cx="258.0" cy="412.2" r="1.55" fill="#eab6a4"/>
<circle cx="243.2" cy="426.8" r="1.55" fill="#ded8d6"/>
<circle cx="234.5" cy="425.9" r="1.55" fill="#f1a489"/>
<circle cx="229.9" cy="434.8" r="1.55" fill="#f2a084"/>
<circle cx="239.8" cy="434.5" r="1.55" fill="#e4c9c1"/>
<circle cx="240.5" cy="431.6" r="1.55" fill="#e5c6bc"/>
<circle cx="252.1" cy="401.9" r="1.55" fill="#ecb09b"/>
<circle cx="224.8" cy="434.2" r="1.55" fill="#e3ccc4"/>
<circle cx="239.0" cy="418.1" r="1.55" fill="#e5c4b8"/>
<circle cx="235.2" cy="419.0" r="1.55" fill="#d9dadd"/>
<circle cx="236.2" cy="424.7" r="1.55" fill="#b9c5e7"/>
<circle cx="245.6" cy="418.1" r="1.55" fill="#dbdbdc"/>
<circle cx="250.4" cy="409.2" r="1.55" fill="#f1a48a"/>
<circle cx="234.0" cy="433.8" r="1.55" fill="#d1d5df"/>
<circle cx="253.4" cy="406.6" r="1.55" fill="#e8bcae"/>
<circle cx="248.5" cy="411.7" r="1.55" fill="#eab6a4"/>
<circle cx="247.3" cy="410.4" r="1.55" fill="#e5c6bb"/>
<circle cx="240.6" cy="419.6" r="1.55" fill="#ecb29e"/>
<circle cx="239.1" cy="420.5" r="1.55" fill="#d5d7de"/>
<circle cx="240.7" cy="430.1" r="1.55" fill="#d7d8de"/>
<circle cx="236.6" cy="418.3" r="1.55" fill="#ed8a72"/>
<circle cx="235.7" cy="428.5" r="1.55" fill="#d8d9de"/>
<circle cx="237.4" cy="424.3" r="1.55" fill="#dadadd"/>
<circle cx="245.4" cy="423.6" r="1.55" fill="#e8bcad"/>
<circle cx="236.3" cy="425.7" r="1.55" fill="#e3cac2"/>
<circle cx="239.1" cy="430.2" r="1.55" fill="#c7cee2"/>
<circle cx="231.0" cy="436.4" r="1.55" fill="#e7beb0"/>
<circle cx="240.1" cy="429.0" r="1.55" fill="#abbdeb"/>
<circle cx="256.9" cy="404.8" r="1.55" fill="#dfd7d5"/>
<circle cx="244.2" cy="415.9" r="1.55" fill="#d4d7df"/>
<circle cx="245.5" cy="415.0" r="1.55" fill="#dfd6d4"/>
<circle cx="230.9" cy="429.5" r="1.55" fill="#edad97"/>
<circle cx="246.8" cy="411.8" r="1.55" fill="#ced2e1"/>
<circle cx="260.6" cy="412.6" r="1.55" fill="#e3cac2"/>
<circle cx="235.1" cy="431.3" r="1.55" fill="#dddcdc"/>
<circle cx="249.3" cy="421.0" r="1.55" fill="#e8bdae"/>
<circle cx="249.7" cy="414.9" r="1.55" fill="#e0d4d1"/>
<circle cx="229.1" cy="436.3" r="1.55" fill="#e5c5ba"/>
<circle cx="251.1" cy="413.1" r="1.55" fill="#e0d4d0"/>
<circle cx="242.7" cy="428.6" r="1.55" fill="#dedad9"/>
<circle cx="228.6" cy="429.4" r="1.55" fill="#dfd6d3"/>
<circle cx="239.2" cy="433.1" r="1.55" fill="#e5c5ba"/>
<circle cx="232.6" cy="427.8" r="1.55" fill="#e5c6bb"/>
<circle cx="251.4" cy="410.7" r="1.55" fill="#bac6e6"/>
<circle cx="242.4" cy="431.1" r="1.55" fill="#e8bcac"/>
<circle cx="255.7" cy="410.7" r="1.55" fill="#dddcdc"/>
<circle cx="237.5" cy="423.1" r="1.55" fill="#e1cfc9"/>
<circle cx="241.9" cy="410.9" r="1.55" fill="#f49a7b"/>
<circle cx="235.5" cy="421.2" r="1.55" fill="#c6cee3"/>
<circle cx="262.3" cy="407.2" r="1.55" fill="#e3cac2"/>
<circle cx="227.9" cy="435.1" r="1.55" fill="#e1d0ca"/>
<circle cx="239.0" cy="416.8" r="1.55" fill="#8ba8f5"/>
<circle cx="229.0" cy="442.1" r="1.55" fill="#d75755"/>
<circle cx="239.0" cy="428.6" r="1.55" fill="#e6c2b6"/>
<circle cx="239.9" cy="427.9" r="1.55" fill="#7697f4"/>
<circle cx="234.5" cy="419.9" r="1.55" fill="#e5c4b8"/>
<circle cx="235.0" cy="423.9" r="1.55" fill="#e0d3ce"/>
<circle cx="238.1" cy="435.1" r="1.55" fill="#e6c1b4"/>
<circle cx="233.8" cy="435.9" r="1.55" fill="#e5c5bb"/>
<circle cx="254.1" cy="401.7" r="1.55" fill="#dbdbdd"/>
<circle cx="245.0" cy="426.2" r="1.55" fill="#e5c6bb"/>
<circle cx="253.3" cy="412.2" r="1.55" fill="#eeab94"/>
<circle cx="242.7" cy="423.4" r="1.55" fill="#b4c2e8"/>
<circle cx="233.9" cy="431.8" r="1.55" fill="#e5c5ba"/>
<circle cx="242.5" cy="421.8" r="1.55" fill="#e0d4d0"/>
<circle cx="246.3" cy="420.2" r="1.55" fill="#e8bcad"/>
<circle cx="260.2" cy="405.5" r="1.55" fill="#cad0e2"/>
<circle cx="237.8" cy="417.3" r="1.55" fill="#e4c9c1"/>
<circle cx="230.1" cy="427.5" r="1.55" fill="#e7c1b4"/>
<circle cx="225.1" cy="436.0" r="1.55" fill="#e67968"/>
<circle cx="226.9" cy="433.7" r="1.55" fill="#eeaa93"/>
<circle cx="241.3" cy="415.1" r="1.55" fill="#e1cfc9"/>
<circle cx="249.0" cy="409.2" r="1.55" fill="#e6c1b4"/>
<circle cx="250.5" cy="418.1" r="1.55" fill="#e9baaa"/>
<circle cx="243.6" cy="431.3" r="1.55" fill="#eab7a6"/>
<circle cx="243.2" cy="414.6" r="1.55" fill="#ed8972"/>
<circle cx="247.9" cy="423.4" r="1.55" fill="#e1cfc9"/>
<circle cx="244.3" cy="429.7" r="1.55" fill="#dfd6d3"/>
<circle cx="224.3" cy="439.6" r="1.55" fill="#e8bdaf"/>
<circle cx="243.0" cy="420.0" r="1.55" fill="#dadadd"/>
<circle cx="237.8" cy="427.1" r="1.55" fill="#b6c3e8"/>
<circle cx="228.0" cy="431.0" r="1.55" fill="#dadadd"/>
<circle cx="241.8" cy="429.7" r="1.55" fill="#e9b9a8"/>
<circle cx="252.4" cy="403.6" r="1.55" fill="#e3cbc3"/>
<circle cx="243.2" cy="424.5" r="1.55" fill="#dedad9"/>
<circle cx="253.6" cy="420.7" r="1.55" fill="#dcdcdc"/>
<circle cx="251.7" cy="409.0" r="1.55" fill="#eab8a7"/>
<circle cx="233.7" cy="427.0" r="1.55" fill="#d2d5df"/>
<circle cx="244.4" cy="420.4" r="1.55" fill="#f2a185"/>
<circle cx="264.2" cy="406.9" r="1.55" fill="#ebb3a0"/>
<circle cx="259.6" cy="409.6" r="1.55" fill="#adbeea"/>
<circle cx="229.4" cy="432.8" r="1.55" fill="#bcc7e6"/>
<circle cx="247.1" cy="419.6" r="1.55" fill="#e6c2b6"/>
<circle cx="237.0" cy="428.4" r="1.55" fill="#9ab2f0"/>
<circle cx="259.3" cy="401.6" r="1.55" fill="#eab8a7"/>
<circle cx="256.3" cy="414.1" r="1.55" fill="#f29578"/>
<circle cx="237.1" cy="420.0" r="1.55" fill="#e0d2ce"/>
<circle cx="260.8" cy="400.0" r="1.55" fill="#e0d2ce"/>
<circle cx="252.3" cy="420.8" r="1.55" fill="#edad97"/>
<circle cx="253.9" cy="407.9" r="1.55" fill="#aabceb"/>
<circle cx="240.8" cy="421.5" r="1.55" fill="#e8bcad"/>
<circle cx="250.2" cy="420.2" r="1.55" fill="#ebb3a0"/>
<circle cx="246.2" cy="422.4" r="1.55" fill="#f0a58b"/>
<circle cx="267.2" cy="397.8" r="1.55" fill="#c6cee3"/>
<circle cx="237.5" cy="426.1" r="1.55" fill="#e3c9c1"/>
<circle cx="250.2" cy="406.5" r="1.55" fill="#e7beb0"/>
<circle cx="241.1" cy="422.6" r="1.55" fill="#c8cfe2"/>
<circle cx="244.7" cy="414.5" r="1.55" fill="#ded8d6"/>
<circle cx="256.1" cy="412.8" r="1.55" fill="#eeac95"/>
<circle cx="253.3" cy="410.3" r="1.55" fill="#ebb4a1"/>
<circle cx="237.2" cy="431.9" r="1.55" fill="#bcc7e6"/>
<circle cx="225.5" cy="442.0" r="1.55" fill="#e1d2cd"/>
<circle cx="239.2" cy="431.3" r="1.55" fill="#eeab93"/>
<circle cx="248.9" cy="416.2" r="1.55" fill="#e3cac1"/>
<circle cx="256.5" cy="400.4" r="1.55" fill="#e6c3b7"/>
<circle cx="254.9" cy="404.3" r="1.55" fill="#ded9d7"/>
<circle cx="232.6" cy="425.7" r="1.55" fill="#ebb3a0"/>
<circle cx="245.2" cy="416.9" r="1.55" fill="#e9b9a9"/>
<circle cx="250.7" cy="416.0" r="1.55" fill="#e2cdc6"/>
<circle cx="247.3" cy="421.3" r="1.55" fill="#f49b7c"/>
<circle cx="232.2" cy="431.0" r="1.55" fill="#dfd5d2"/>
<circle cx="235.8" cy="430.2" r="1.55" fill="#e9bbab"/>
<circle cx="240.3" cy="423.5" r="1.55" fill="#eeac95"/>
<circle cx="232.7" cy="438.8" r="1.55" fill="#dfd6d3"/>
<circle cx="232.6" cy="434.8" r="1.55" fill="#ebb39f"/>
<circle cx="236.7" cy="430.9" r="1.55" fill="#f1a388"/>
<circle cx="236.7" cy="421.3" r="1.55" fill="#e7c0b3"/>
<circle cx="243.0" cy="417.8" r="1.55" fill="#ebb39f"/>
<circle cx="259.3" cy="412.1" r="1.55" fill="#e9baaa"/>
<circle cx="232.0" cy="428.7" r="1.55" fill="#bdc8e6"/>
<circle cx="230.7" cy="434.2" r="1.55" fill="#cbd0e2"/>
<circle cx="246.5" cy="408.9" r="1.55" fill="#89a7f5"/>
<circle cx="252.1" cy="414.8" r="1.55" fill="#f1a48a"/>
<circle cx="226.8" cy="432.0" r="1.55" fill="#7fa1f8"/>
<circle cx="243.7" cy="425.7" r="1.55" fill="#eeab95"/>
<circle cx="235.5" cy="434.3" r="1.55" fill="#eab7a6"/>
<circle cx="259.4" cy="408.3" r="1.55" fill="#e7c0b3"/>
<circle cx="241.2" cy="416.6" r="1.55" fill="#bec9e5"/>
<circle cx="261.4" cy="403.6" r="1.55" fill="#f0a58b"/>
<circle cx="258.3" cy="416.0" r="1.55" fill="#e7c0b3"/>
<circle cx="230.5" cy="425.9" r="1.55" fill="#e9b9a9"/>
<circle cx="255.9" cy="401.5" r="1.55" fill="#bdc8e5"/>
<circle cx="249.7" cy="410.5" r="1.55" fill="#e0d3ce"/>
<circle cx="249.7" cy="412.0" r="1.55" fill="#e7bfb1"/>
<circle cx="239.1" cy="424.6" r="1.55" fill="#e1cfc9"/>
<circle cx="245.7" cy="413.2" r="1.55" fill="#ed8b72"/>
<circle cx="247.2" cy="417.6" r="1.55" fill="#ded9d8"/>
<circle cx="239.0" cy="427.3" r="1.55" fill="#ea826e"/>
<circle cx="229.3" cy="428.1" r="1.55" fill="#ed8a72"/>
<circle cx="258.3" cy="404.9" r="1.55" fill="#f3997a"/>
<circle cx="259.5" cy="413.6" r="1.55" fill="#ecb19d"/>
<circle cx="226.9" cy="436.8" r="1.55" fill="#e8bdae"/>
<circle cx="251.0" cy="419.3" r="1.55" fill="#e1d1cc"/>
<circle cx="257.9" cy="410.5" r="1.55" fill="#d1d5e0"/>
<circle cx="260.7" cy="409.4" r="1.55" fill="#cad0e2"/>
<circle cx="253.4" cy="402.9" r="1.55" fill="#b7c4e7"/>
<circle cx="233.9" cy="421.3" r="1.55" fill="#c8cfe2"/>
<circle cx="256.4" cy="415.6" r="1.55" fill="#b8c5e7"/>
<circle cx="244.0" cy="418.5" r="1.55" fill="#e7beb0"/>
<circle cx="259.7" cy="400.0" r="1.55" fill="#c6cde3"/>
<circle cx="259.5" cy="397.4" r="1.55" fill="#bec8e5"/>
<circle cx="256.3" cy="406.8" r="1.55" fill="#ded8d7"/>
<circle cx="257.9" cy="408.5" r="1.55" fill="#eab5a3"/>
<circle cx="243.3" cy="416.6" r="1.55" fill="#e1d1cb"/>
<circle cx="255.1" cy="415.0" r="1.55" fill="#eab6a5"/>
<circle cx="247.4" cy="414.3" r="1.55" fill="#e47466"/>
<circle cx="245.4" cy="411.6" r="1.55" fill="#ed8a72"/>
<circle cx="228.5" cy="426.3" r="1.55" fill="#ded8d6"/>
<circle cx="282.5" cy="380.5" r="1.55" fill="#98b1f1"/>
<circle cx="248.5" cy="439.5" r="1.55" fill="#9cb3ef"/>
<circle cx="258.5" cy="422.5" r="1.55" fill="#ded8d6"/>
</g>
<line x1="169.50" y1="503.80" x2="294.70" y2="367.50" stroke="#000" stroke-width="1.4" stroke-dasharray="4.3,2.2"/>
<line x1="169.50" y1="367.50" x2="169.50" y2="504.35" stroke="#000" stroke-width="1.45" />
<line x1="168.95" y1="503.80" x2="294.70" y2="503.80" stroke="#000" stroke-width="1.45" />
<text x="179.10" y="380.90" font-size="9" text-anchor="start" fill="#000" font-weight="normal" stroke="#000" stroke-width="0.25" >n = 197</text>
<line x1="175.00" y1="416.10" x2="180.60" y2="416.10" stroke="#000" stroke-width="1.3"/>
<path d="M183.20,416.10 L180.00,413.90 L180.00,418.30 Z" fill="#000"/>
<line x1="244.40" y1="497.70" x2="244.40" y2="491.90" stroke="#000" stroke-width="1.3"/>
<path d="M244.40,488.90 L242.40,492.50 L246.40,492.50 Z" fill="#000"/>
<g stroke="#2e2e2e" stroke-width="0.45">
<circle cx="142.6" cy="572.9" r="1.55" fill="#a9bbec"/>
<circle cx="129.7" cy="569.7" r="1.55" fill="#86a5f6"/>
<circle cx="129.4" cy="551.7" r="1.55" fill="#dedad9"/>
<circle cx="127.2" cy="559.6" r="1.55" fill="#7596f3"/>
<circle cx="139.6" cy="580.3" r="1.55" fill="#8da9f4"/>
<circle cx="124.3" cy="544.2" r="1.55" fill="#c8cfe2"/>
<circle cx="130.2" cy="576.7" r="1.55" fill="#bac6e6"/>
<circle cx="127.2" cy="552.5" r="1.55" fill="#e8bcae"/>
<circle cx="125.0" cy="549.4" r="1.55" fill="#eab7a6"/>
<circle cx="117.5" cy="566.9" r="1.55" fill="#c9d0e2"/>
<circle cx="129.3" cy="556.4" r="1.55" fill="#e3ccc4"/>
<circle cx="141.8" cy="540.2" r="1.55" fill="#efa991"/>
<circle cx="141.1" cy="548.3" r="1.55" fill="#e4c8bf"/>
<circle cx="119.8" cy="566.0" r="1.55" fill="#b2c1e9"/>
<circle cx="133.2" cy="549.3" r="1.55" fill="#d6d8de"/>
<circle cx="121.7" cy="568.4" r="1.55" fill="#96b0f1"/>
<circle cx="119.0" cy="567.6" r="1.55" fill="#ecb09c"/>
<circle cx="112.3" cy="576.3" r="1.55" fill="#afbfea"/>
<circle cx="132.8" cy="571.7" r="1.55" fill="#88a7f5"/>
<circle cx="136.4" cy="534.1" r="1.55" fill="#a9bbeb"/>
<circle cx="138.8" cy="540.9" r="1.55" fill="#ebb39f"/>
<circle cx="129.8" cy="574.0" r="1.55" fill="#98b0f1"/>
<circle cx="112.6" cy="570.7" r="1.55" fill="#d3d6df"/>
<circle cx="133.6" cy="562.7" r="1.55" fill="#acbdeb"/>
<circle cx="131.5" cy="555.4" r="1.55" fill="#d0d4e0"/>
<circle cx="111.6" cy="563.8" r="1.55" fill="#afbfea"/>
<circle cx="131.1" cy="540.2" r="1.55" fill="#e1cfca"/>
<circle cx="141.5" cy="576.1" r="1.55" fill="#a8bbec"/>
<circle cx="128.0" cy="557.5" r="1.55" fill="#e5c5bb"/>
<circle cx="131.6" cy="549.8" r="1.55" fill="#cfd3e0"/>
<circle cx="122.8" cy="553.1" r="1.55" fill="#b1c0e9"/>
<circle cx="134.1" cy="546.1" r="1.55" fill="#e0d5d1"/>
<circle cx="137.5" cy="541.7" r="1.55" fill="#dcdcdc"/>
<circle cx="143.2" cy="533.7" r="1.55" fill="#eeaa93"/>
<circle cx="111.9" cy="566.3" r="1.55" fill="#d0d4e0"/>
<circle cx="127.8" cy="548.8" r="1.55" fill="#a6b9ed"/>
<circle cx="140.4" cy="561.7" r="1.55" fill="#adbeea"/>
<circle cx="136.1" cy="539.2" r="1.55" fill="#b4c2e8"/>
<circle cx="142.7" cy="564.2" r="1.55" fill="#a3b7ed"/>
<circle cx="132.7" cy="564.9" r="1.55" fill="#7799f5"/>
<circle cx="121.7" cy="553.0" r="1.55" fill="#dfd6d4"/>
<circle cx="136.7" cy="540.4" r="1.55" fill="#a6baec"/>
<circle cx="123.7" cy="560.3" r="1.55" fill="#97b0f1"/>
<circle cx="131.5" cy="566.4" r="1.55" fill="#b0c0e9"/>
<circle cx="122.1" cy="555.5" r="1.55" fill="#e0d5d1"/>
<circle cx="126.0" cy="571.7" r="1.55" fill="#9fb5ee"/>
<circle cx="119.0" cy="557.6" r="1.55" fill="#e3ccc5"/>
<circle cx="126.3" cy="550.9" r="1.55" fill="#e2ccc5"/>
<circle cx="121.0" cy="554.9" r="1.55" fill="#e3cac2"/>
<circle cx="109.5" cy="567.8" r="1.55" fill="#c6cde3"/>
<circle cx="136.0" cy="544.6" r="1.55" fill="#ec8871"/>
<circle cx="145.6" cy="534.0" r="1.55" fill="#e1d1cc"/>
<circle cx="136.4" cy="572.5" r="1.55" fill="#83a3f7"/>
<circle cx="130.0" cy="547.2" r="1.55" fill="#f29478"/>
<circle cx="150.3" cy="575.9" r="1.55" fill="#7c9ff9"/>
<circle cx="124.8" cy="552.2" r="1.55" fill="#b0c0e9"/>
<circle cx="124.5" cy="558.8" r="1.55" fill="#82a3f7"/>
<circle cx="123.5" cy="551.6" r="1.55" fill="#a0b6ee"/>
<circle cx="143.4" cy="544.0" r="1.55" fill="#e4c7bd"/>
<circle cx="108.7" cy="575.6" r="1.55" fill="#efaa92"/>
<circle cx="148.8" cy="528.5" r="1.55" fill="#d9d9dd"/>
<circle cx="137.7" cy="537.9" r="1.55" fill="#c0cae5"/>
<circle cx="103.0" cy="576.9" r="1.55" fill="#7b9df8"/>
<circle cx="133.3" cy="547.0" r="1.55" fill="#dfd6d4"/>
<circle cx="137.0" cy="546.5" r="1.55" fill="#edad97"/>
<circle cx="118.2" cy="559.4" r="1.55" fill="#bbc7e6"/>
<circle cx="134.6" cy="555.6" r="1.55" fill="#98b0f1"/>
<circle cx="138.7" cy="573.4" r="1.55" fill="#86a5f6"/>
<circle cx="138.2" cy="566.1" r="1.55" fill="#bdc8e6"/>
<circle cx="139.8" cy="532.7" r="1.55" fill="#efaa92"/>
<circle cx="128.5" cy="568.0" r="1.55" fill="#c0cae5"/>
<circle cx="141.8" cy="575.0" r="1.55" fill="#91acf3"/>
<circle cx="116.3" cy="564.7" r="1.55" fill="#d7d8de"/>
<circle cx="134.5" cy="547.5" r="1.55" fill="#d8d9dd"/>
<circle cx="137.3" cy="582.0" r="1.55" fill="#a4b8ed"/>
<circle cx="123.9" cy="565.2" r="1.55" fill="#b6c4e8"/>
<circle cx="135.1" cy="569.0" r="1.55" fill="#adbeea"/>
<circle cx="119.0" cy="564.3" r="1.55" fill="#e3cac1"/>
<circle cx="126.1" cy="541.8" r="1.55" fill="#ded9d7"/>
<circle cx="126.2" cy="560.5" r="1.55" fill="#8ba9f4"/>
<circle cx="136.9" cy="565.9" r="1.55" fill="#9bb2f0"/>
<circle cx="135.0" cy="566.3" r="1.55" fill="#a3b7ed"/>
<circle cx="141.4" cy="538.6" r="1.55" fill="#abbdeb"/>
<circle cx="119.4" cy="555.7" r="1.55" fill="#c6cee3"/>
<circle cx="120.0" cy="554.7" r="1.55" fill="#dfd7d5"/>
<circle cx="117.2" cy="569.0" r="1.55" fill="#e0d2cd"/>
<circle cx="126.8" cy="549.9" r="1.55" fill="#e0d4d0"/>
<circle cx="107.0" cy="567.2" r="1.55" fill="#e7c0b3"/>
<circle cx="117.3" cy="572.0" r="1.55" fill="#8eaaf4"/>
<circle cx="136.6" cy="533.1" r="1.55" fill="#e7bfb1"/>
<circle cx="134.8" cy="543.0" r="1.55" fill="#ebb4a1"/>
<circle cx="141.3" cy="573.5" r="1.55" fill="#92adf2"/>
<circle cx="105.8" cy="575.9" r="1.55" fill="#89a7f5"/>
<circle cx="117.4" cy="562.6" r="1.55" fill="#b6c3e8"/>
<circle cx="130.0" cy="557.4" r="1.55" fill="#eeab94"/>
<circle cx="141.0" cy="536.1" r="1.55" fill="#bdc8e6"/>
<circle cx="110.0" cy="574.2" r="1.55" fill="#e0d4d0"/>
<circle cx="127.0" cy="566.8" r="1.55" fill="#afbfea"/>
<circle cx="104.6" cy="577.2" r="1.55" fill="#bec9e5"/>
<circle cx="138.7" cy="564.9" r="1.55" fill="#99b1f0"/>
<circle cx="134.6" cy="548.5" r="1.55" fill="#c9cfe2"/>
<circle cx="128.7" cy="550.2" r="1.55" fill="#d1d4e0"/>
<circle cx="111.4" cy="568.9" r="1.55" fill="#c5cde3"/>
<circle cx="143.4" cy="559.9" r="1.55" fill="#95aef2"/>
<circle cx="139.8" cy="542.1" r="1.55" fill="#eab7a6"/>
<circle cx="119.8" cy="553.6" r="1.55" fill="#dddcdc"/>
<circle cx="128.8" cy="577.1" r="1.55" fill="#9ab2f0"/>
<circle cx="122.0" cy="551.0" r="1.55" fill="#d1d5df"/>
<circle cx="127.0" cy="547.1" r="1.55" fill="#e3cac1"/>
<circle cx="135.5" cy="573.2" r="1.55" fill="#95aff2"/>
<circle cx="121.1" cy="557.9" r="1.55" fill="#89a7f5"/>
<circle cx="125.5" cy="561.9" r="1.55" fill="#e0d4d0"/>
<circle cx="111.7" cy="560.1" r="1.55" fill="#e2cdc5"/>
<circle cx="120.4" cy="560.6" r="1.55" fill="#e9b9a8"/>
<circle cx="127.9" cy="553.6" r="1.55" fill="#cad0e2"/>
<circle cx="130.1" cy="572.4" r="1.55" fill="#88a6f6"/>
<circle cx="136.3" cy="564.6" r="1.55" fill="#85a5f6"/>
<circle cx="125.6" cy="553.3" r="1.55" fill="#95aff1"/>
<circle cx="141.5" cy="543.1" r="1.55" fill="#dedada"/>
<circle cx="136.3" cy="552.5" r="1.55" fill="#dedad9"/>
<circle cx="123.3" cy="558.3" r="1.55" fill="#e5c6bc"/>
<circle cx="123.0" cy="577.7" r="1.55" fill="#b3c2e8"/>
<circle cx="116.6" cy="559.0" r="1.55" fill="#bfc9e5"/>
<circle cx="120.5" cy="547.8" r="1.55" fill="#e0d3cf"/>
<circle cx="144.0" cy="574.4" r="1.55" fill="#96aff1"/>
<circle cx="108.4" cy="566.5" r="1.55" fill="#e2cfc9"/>
<circle cx="138.4" cy="543.0" r="1.55" fill="#e5c5ba"/>
<circle cx="133.7" cy="550.5" r="1.55" fill="#bfc9e5"/>
<circle cx="125.6" cy="559.0" r="1.55" fill="#e1cfc9"/>
<circle cx="114.1" cy="563.0" r="1.55" fill="#e7c0b2"/>
<circle cx="81.6" cy="603.0" r="1.55" fill="#e7bfb1"/>
<circle cx="158.6" cy="519.0" r="1.55" fill="#d34c4f"/>
</g>
<line x1="41.60" y1="643.50" x2="166.90" y2="507.00" stroke="#000" stroke-width="1.4" stroke-dasharray="4.3,2.2"/>
<line x1="41.60" y1="507.00" x2="41.60" y2="644.05" stroke="#000" stroke-width="1.45" />
<line x1="41.05" y1="643.50" x2="166.90" y2="643.50" stroke="#000" stroke-width="1.45" />
<line x1="39.00" y1="513.51" x2="41.60" y2="513.51" stroke="#000" stroke-width="1.305" />
<text x="36.60" y="516.61" font-size="9.0" text-anchor="end" fill="#1a1a1a" font-weight="normal" stroke="#1a1a1a" stroke-width="0.25" >0.8</text>
<line x1="39.00" y1="547.76" x2="41.60" y2="547.76" stroke="#000" stroke-width="1.305" />
<text x="36.60" y="550.86" font-size="9.0" text-anchor="end" fill="#1a1a1a" font-weight="normal" stroke="#1a1a1a" stroke-width="0.25" >0.4</text>
<line x1="39.00" y1="582.02" x2="41.60" y2="582.02" stroke="#000" stroke-width="1.305" />
<text x="36.60" y="585.12" font-size="9.0" text-anchor="end" fill="#1a1a1a" font-weight="normal" stroke="#1a1a1a" stroke-width="0.25" >0.0</text>
<line x1="39.00" y1="616.27" x2="41.60" y2="616.27" stroke="#000" stroke-width="1.305" />
<text x="36.60" y="619.37" font-size="9.0" text-anchor="end" fill="#1a1a1a" font-weight="normal" stroke="#1a1a1a" stroke-width="0.25" >-0.4</text>
<line x1="66.60" y1="643.50" x2="66.60" y2="646.10" stroke="#000" stroke-width="1.305" />
<text x="66.60" y="655.50" font-size="9.0" text-anchor="middle" fill="#1a1a1a" font-weight="normal" stroke="#1a1a1a" stroke-width="0.25" >-0.4</text>
<line x1="98.04" y1="643.50" x2="98.04" y2="646.10" stroke="#000" stroke-width="1.305" />
<text x="98.04" y="655.50" font-size="9.0" text-anchor="middle" fill="#1a1a1a" font-weight="normal" stroke="#1a1a1a" stroke-width="0.25" >0.0</text>
<line x1="129.48" y1="643.50" x2="129.48" y2="646.10" stroke="#000" stroke-width="1.305" />
<text x="129.48" y="655.50" font-size="9.0" text-anchor="middle" fill="#1a1a1a" font-weight="normal" stroke="#1a1a1a" stroke-width="0.25" >0.4</text>
<line x1="160.93" y1="643.50" x2="160.93" y2="646.10" stroke="#000" stroke-width="1.305" />
<text x="160.93" y="655.50" font-size="9.0" text-anchor="middle" fill="#1a1a1a" font-weight="normal" stroke="#1a1a1a" stroke-width="0.25" >0.8</text>
<text x="51.20" y="520.40" font-size="9" text-anchor="start" fill="#000" font-weight="normal" stroke="#000" stroke-width="0.25" >n = 138</text>
<line x1="47.10" y1="553.50" x2="52.70" y2="553.50" stroke="#000" stroke-width="1.3"/>
<path d="M55.30,553.50 L52.10,551.30 L52.10,555.70 Z" fill="#000"/>
<line x1="133.40" y1="637.40" x2="133.40" y2="631.60" stroke="#000" stroke-width="1.3"/>
<path d="M133.40,628.60 L131.40,632.20 L135.40,632.20 Z" fill="#000"/>
<path d="M157.00,517.50 L163.58,515.17 L159.33,510.92 Z" fill="none" stroke="#000" stroke-width="1.05" stroke-linejoin="miter"/>
<text x="140.90" y="514.70" font-size="7.9" text-anchor="start" fill="#333" font-weight="normal" stroke="#333" stroke-width="0.12" >258</text>
<g stroke="#2e2e2e" stroke-width="0.45">
<circle cx="250.2" cy="554.4" r="1.55" fill="#ded9d7"/>
<circle cx="256.5" cy="556.5" r="1.55" fill="#e8bdae"/>
<circle cx="253.6" cy="535.0" r="1.55" fill="#ecb09b"/>
<circle cx="241.9" cy="552.2" r="1.55" fill="#dbdbdd"/>
<circle cx="259.4" cy="546.6" r="1.55" fill="#a2b7ee"/>
<circle cx="268.4" cy="543.3" r="1.55" fill="#d5d7de"/>
<circle cx="252.9" cy="540.5" r="1.55" fill="#e3c9c1"/>
<circle cx="234.7" cy="564.5" r="1.55" fill="#f0a58a"/>
<circle cx="254.1" cy="532.0" r="1.55" fill="#a3b7ed"/>
<circle cx="252.7" cy="551.7" r="1.55" fill="#84a4f7"/>
<circle cx="238.5" cy="557.7" r="1.55" fill="#d8d9dd"/>
<circle cx="233.1" cy="564.3" r="1.55" fill="#a5b9ed"/>
<circle cx="259.2" cy="536.6" r="1.55" fill="#ee8b72"/>
<circle cx="237.3" cy="572.8" r="1.55" fill="#e1d1cc"/>
<circle cx="258.7" cy="550.7" r="1.55" fill="#ded8d6"/>
<circle cx="257.1" cy="552.8" r="1.55" fill="#f0a58b"/>
<circle cx="243.0" cy="564.2" r="1.55" fill="#c0cae5"/>
<circle cx="246.1" cy="550.0" r="1.55" fill="#cb3b45"/>
<circle cx="237.6" cy="563.5" r="1.55" fill="#e7c0b3"/>
<circle cx="267.7" cy="533.4" r="1.55" fill="#ebb39f"/>
<circle cx="240.1" cy="559.9" r="1.55" fill="#ecb19d"/>
<circle cx="240.7" cy="558.6" r="1.55" fill="#a1b6ee"/>
<circle cx="265.5" cy="539.5" r="1.55" fill="#ebb4a1"/>
<circle cx="248.2" cy="562.2" r="1.55" fill="#5972da"/>
<circle cx="257.1" cy="547.4" r="1.55" fill="#f1a388"/>
<circle cx="241.3" cy="555.8" r="1.55" fill="#e87d6a"/>
<circle cx="248.9" cy="553.6" r="1.55" fill="#e1cfc9"/>
<circle cx="247.2" cy="560.7" r="1.55" fill="#c6cde3"/>
<circle cx="262.5" cy="549.5" r="1.55" fill="#e0d4d0"/>
<circle cx="266.2" cy="544.7" r="1.55" fill="#edae98"/>
<circle cx="270.3" cy="534.6" r="1.55" fill="#e7c0b2"/>
<circle cx="246.0" cy="555.8" r="1.55" fill="#eeac96"/>
<circle cx="249.8" cy="557.2" r="1.55" fill="#d0d4e0"/>
<circle cx="249.4" cy="558.9" r="1.55" fill="#d3d6df"/>
<circle cx="235.4" cy="563.2" r="1.55" fill="#edaf99"/>
<circle cx="225.2" cy="569.2" r="1.55" fill="#e7bfb2"/>
<circle cx="252.9" cy="545.1" r="1.55" fill="#e4c9c0"/>
<circle cx="244.2" cy="554.1" r="1.55" fill="#ded8d6"/>
<circle cx="256.8" cy="545.4" r="1.55" fill="#dedada"/>
<circle cx="255.1" cy="549.9" r="1.55" fill="#d34c4f"/>
<circle cx="242.3" cy="562.9" r="1.55" fill="#ccd1e1"/>
<circle cx="242.1" cy="549.4" r="1.55" fill="#b4c2e8"/>
<circle cx="243.0" cy="545.1" r="1.55" fill="#e6c1b5"/>
<circle cx="255.8" cy="554.6" r="1.55" fill="#e2cdc6"/>
<circle cx="246.9" cy="553.1" r="1.55" fill="#d9d9dd"/>
<circle cx="269.4" cy="536.5" r="1.55" fill="#c5cde3"/>
<circle cx="249.7" cy="547.7" r="1.55" fill="#ecb29e"/>
<circle cx="254.8" cy="553.0" r="1.55" fill="#ef8e74"/>
<circle cx="239.6" cy="548.5" r="1.55" fill="#abbceb"/>
<circle cx="238.7" cy="572.6" r="1.55" fill="#c1cae4"/>
<circle cx="269.1" cy="540.1" r="1.55" fill="#e2cec8"/>
<circle cx="255.5" cy="533.4" r="1.55" fill="#acbdeb"/>
<circle cx="241.2" cy="561.0" r="1.55" fill="#d0d4e0"/>
<circle cx="241.5" cy="553.6" r="1.55" fill="#e2cec8"/>
<circle cx="262.2" cy="554.8" r="1.55" fill="#b7c4e7"/>
<circle cx="255.4" cy="535.5" r="1.55" fill="#aabceb"/>
<circle cx="262.9" cy="546.3" r="1.55" fill="#efa78e"/>
<circle cx="243.4" cy="550.8" r="1.55" fill="#8fabf3"/>
<circle cx="234.8" cy="560.7" r="1.55" fill="#e9806c"/>
<circle cx="263.2" cy="543.8" r="1.55" fill="#d9dadd"/>
<circle cx="253.3" cy="556.2" r="1.55" fill="#cfd3e0"/>
<circle cx="250.0" cy="565.6" r="1.55" fill="#ced2e1"/>
<circle cx="264.8" cy="545.9" r="1.55" fill="#dfd5d2"/>
<circle cx="249.7" cy="546.6" r="1.55" fill="#dedad9"/>
<circle cx="247.0" cy="564.7" r="1.55" fill="#bfc9e5"/>
<circle cx="244.3" cy="560.1" r="1.55" fill="#ebb3a0"/>
<circle cx="247.9" cy="567.0" r="1.55" fill="#ecb09c"/>
<circle cx="233.7" cy="561.4" r="1.55" fill="#df695f"/>
<circle cx="252.5" cy="546.6" r="1.55" fill="#e0d3cf"/>
<circle cx="248.3" cy="557.5" r="1.55" fill="#d1474c"/>
<circle cx="251.3" cy="556.7" r="1.55" fill="#e8bbac"/>
<circle cx="246.8" cy="547.0" r="1.55" fill="#cad0e2"/>
<circle cx="240.0" cy="567.9" r="1.55" fill="#d6d8de"/>
<circle cx="247.8" cy="547.0" r="1.55" fill="#ccd1e1"/>
<circle cx="253.8" cy="546.5" r="1.55" fill="#eeab94"/>
<circle cx="264.9" cy="535.1" r="1.55" fill="#cfd3e0"/>
<circle cx="257.5" cy="541.0" r="1.55" fill="#d0d4e0"/>
<circle cx="247.1" cy="551.6" r="1.55" fill="#ecb29e"/>
<circle cx="258.2" cy="540.2" r="1.55" fill="#c4cce3"/>
<circle cx="233.9" cy="569.2" r="1.55" fill="#de685e"/>
<circle cx="253.0" cy="554.1" r="1.55" fill="#e1d1cb"/>
<circle cx="237.0" cy="558.0" r="1.55" fill="#d4d6df"/>
<circle cx="261.7" cy="534.8" r="1.55" fill="#eab6a5"/>
<circle cx="244.4" cy="563.8" r="1.55" fill="#eeaa93"/>
<circle cx="258.8" cy="545.0" r="1.55" fill="#bbc7e6"/>
<circle cx="249.0" cy="538.8" r="1.55" fill="#f0a68c"/>
<circle cx="233.2" cy="556.9" r="1.55" fill="#e1d1cc"/>
<circle cx="255.2" cy="547.7" r="1.55" fill="#ebb4a1"/>
<circle cx="256.2" cy="540.7" r="1.55" fill="#dbdbdc"/>
<circle cx="257.5" cy="533.5" r="1.55" fill="#f09076"/>
<circle cx="264.9" cy="540.5" r="1.55" fill="#f29478"/>
<circle cx="241.4" cy="568.2" r="1.55" fill="#f0a68d"/>
<circle cx="244.2" cy="556.2" r="1.55" fill="#eeab95"/>
<circle cx="234.7" cy="573.8" r="1.55" fill="#eab8a7"/>
<circle cx="247.9" cy="545.4" r="1.55" fill="#e3cbc2"/>
<circle cx="267.4" cy="531.6" r="1.55" fill="#ded8d7"/>
<circle cx="251.3" cy="552.1" r="1.55" fill="#ded8d7"/>
<circle cx="257.2" cy="542.1" r="1.55" fill="#e0d4d0"/>
<circle cx="261.0" cy="549.5" r="1.55" fill="#ded9d8"/>
<circle cx="254.2" cy="548.2" r="1.55" fill="#f39c7e"/>
<circle cx="178.5" cy="616.0" r="1.55" fill="#a3b8ed"/>
<circle cx="281.5" cy="523.0" r="1.55" fill="#eb856f"/>
<circle cx="251.5" cy="533.0" r="1.55" fill="#98b1f1"/>
</g>
<line x1="169.50" y1="643.50" x2="294.70" y2="507.00" stroke="#000" stroke-width="1.4" stroke-dasharray="4.3,2.2"/>
<line x1="169.50" y1="507.00" x2="169.50" y2="644.05" stroke="#000" stroke-width="1.45" />
<line x1="168.95" y1="643.50" x2="294.70" y2="643.50" stroke="#000" stroke-width="1.45" />
<line x1="194.48" y1="643.50" x2="194.48" y2="646.10" stroke="#000" stroke-width="1.305" />
<text x="194.48" y="655.50" font-size="9.0" text-anchor="middle" fill="#1a1a1a" font-weight="normal" stroke="#1a1a1a" stroke-width="0.25" >-0.4</text>
<line x1="225.89" y1="643.50" x2="225.89" y2="646.10" stroke="#000" stroke-width="1.305" />
<text x="225.89" y="655.50" font-size="9.0" text-anchor="middle" fill="#1a1a1a" font-weight="normal" stroke="#1a1a1a" stroke-width="0.25" >0.0</text>
<line x1="257.31" y1="643.50" x2="257.31" y2="646.10" stroke="#000" stroke-width="1.305" />
<text x="257.31" y="655.50" font-size="9.0" text-anchor="middle" fill="#1a1a1a" font-weight="normal" stroke="#1a1a1a" stroke-width="0.25" >0.4</text>
<line x1="288.73" y1="643.50" x2="288.73" y2="646.10" stroke="#000" stroke-width="1.305" />
<text x="288.73" y="655.50" font-size="9.0" text-anchor="middle" fill="#1a1a1a" font-weight="normal" stroke="#1a1a1a" stroke-width="0.25" >0.8</text>
<text x="179.10" y="520.40" font-size="9" text-anchor="start" fill="#000" font-weight="normal" stroke="#000" stroke-width="0.25" >n = 108</text>
<line x1="175.00" y1="552.30" x2="180.60" y2="552.30" stroke="#000" stroke-width="1.3"/>
<path d="M183.20,552.30 L180.00,550.10 L180.00,554.50 Z" fill="#000"/>
<line x1="250.10" y1="637.40" x2="250.10" y2="631.60" stroke="#000" stroke-width="1.3"/>
<path d="M250.10,628.60 L248.10,632.20 L252.10,632.20 Z" fill="#000"/>
<path d="M265.50,539.00 L272.08,536.67 L267.83,532.42 Z" fill="none" stroke="#000" stroke-width="1.05" stroke-linejoin="miter"/>
<text x="274.20" y="540.60" font-size="7.9" text-anchor="start" fill="#333" font-weight="normal" stroke="#333" stroke-width="0.12" >669</text>
<g transform="translate(152.15,671.10)"><text x="0" y="0.8" font-size="10" font-style="italic" fill="#000" stroke="#000" stroke-width="0.15">R</text><path d="M2.5,-8.6 c0.7,-1.3 1.4,-1.3 2.1,-0.6 s1.4,0.7 2.1,-0.6" fill="none" stroke="#000" stroke-width="0.8"/><text x="7.9" y="-3.7" font-size="7.3" fill="#000" stroke="#000" stroke-width="0.2">2</text><text x="7.7" y="3.4" font-size="7.85" font-style="italic" fill="#000" stroke="#000" stroke-width="0.2">3D_VD</text></g>
<g transform="translate(10.50,521.70) rotate(-90)"><text x="0" y="0.8" font-size="10" font-style="italic" fill="#000" stroke="#000" stroke-width="0.15">R</text><path d="M2.5,-8.6 c0.7,-1.3 1.4,-1.3 2.1,-0.6 s1.4,0.7 2.1,-0.6" fill="none" stroke="#000" stroke-width="0.8"/><text x="7.9" y="-3.7" font-size="7.3" fill="#000" stroke="#000" stroke-width="0.2">2</text><text x="7.7" y="4.3" font-size="7.85" font-style="italic" fill="#000" stroke="#000" stroke-width="0.2">3D_VF</text></g>
<text x="329.70" y="349.60" font-size="18" text-anchor="start" fill="#000" font-weight="bold"  stroke="#000" stroke-width="0.45">d</text>
<rect x="384.10" y="353.80" width="124.90" height="13.80" fill="none" stroke="#000" stroke-width="1.45"/>
<text x="446.55" y="363.80" font-size="8.7" text-anchor="middle" fill="#000" font-weight="normal" stroke="#000" stroke-width="0.25" >MSB</text>
<rect x="512.30" y="353.80" width="124.50" height="13.80" fill="none" stroke="#000" stroke-width="1.45"/>
<text x="574.55" y="363.80" font-size="8.7" text-anchor="middle" fill="#000" font-weight="normal" stroke="#000" stroke-width="0.25" >ASB</text>
<rect x="636.80" y="367.60" width="14.00" height="136.20" fill="none" stroke="#000" stroke-width="1.45"/>
<text x="643.80" y="435.70" font-size="8.7" text-anchor="middle" fill="#000" font-weight="normal" stroke="#000" stroke-width="0.25" transform="rotate(90 643.8 435.7)" dy="2.9">G</text>
<rect x="636.80" y="507.10" width="14.00" height="136.00" fill="none" stroke="#000" stroke-width="1.45"/>
<text x="643.80" y="575.10" font-size="8.7" text-anchor="middle" fill="#000" font-weight="normal" stroke="#000" stroke-width="0.25" transform="rotate(90 643.8 575.1)" dy="2.9">T</text>
<g stroke="#2e2e2e" stroke-width="0.45">
<circle cx="484.0" cy="419.0" r="1.55" fill="#9fb5ef"/>
<circle cx="441.5" cy="444.5" r="1.55" fill="#7495f2"/>
<circle cx="457.5" cy="438.4" r="1.55" fill="#94aef2"/>
<circle cx="480.6" cy="419.0" r="1.55" fill="#bfc9e5"/>
<circle cx="448.7" cy="439.6" r="1.55" fill="#6f8fee"/>
<circle cx="467.0" cy="435.7" r="1.55" fill="#bfc9e5"/>
<circle cx="470.1" cy="428.2" r="1.55" fill="#b3c1e9"/>
<circle cx="441.8" cy="443.0" r="1.55" fill="#6d8cec"/>
<circle cx="476.5" cy="425.9" r="1.55" fill="#ccd1e1"/>
<circle cx="462.7" cy="430.0" r="1.55" fill="#81a2f7"/>
<circle cx="468.6" cy="433.7" r="1.55" fill="#b2c1e9"/>
<circle cx="467.5" cy="423.5" r="1.55" fill="#a6b9ec"/>
<circle cx="465.7" cy="435.9" r="1.55" fill="#a7baec"/>
<circle cx="469.8" cy="425.9" r="1.55" fill="#dddcdc"/>
<circle cx="462.8" cy="426.8" r="1.55" fill="#a4b8ed"/>
<circle cx="466.9" cy="430.0" r="1.55" fill="#d0d4e0"/>
<circle cx="454.6" cy="438.1" r="1.55" fill="#9ab2f0"/>
<circle cx="458.8" cy="438.0" r="1.55" fill="#bec9e5"/>
<circle cx="466.3" cy="423.4" r="1.55" fill="#c6cee3"/>
<circle cx="465.8" cy="432.6" r="1.55" fill="#acbdeb"/>
<circle cx="436.7" cy="446.5" r="1.55" fill="#7596f3"/>
<circle cx="440.2" cy="444.4" r="1.55" fill="#5f7ae0"/>
<circle cx="477.1" cy="422.8" r="1.55" fill="#ced3e0"/>
<circle cx="448.5" cy="444.1" r="1.55" fill="#8ca9f4"/>
<circle cx="459.6" cy="431.2" r="1.55" fill="#7fa1f8"/>
<circle cx="485.1" cy="419.7" r="1.55" fill="#ced3e1"/>
<circle cx="479.2" cy="418.7" r="1.55" fill="#c0cae5"/>
<circle cx="445.6" cy="444.4" r="1.55" fill="#7090ef"/>
<circle cx="458.7" cy="432.2" r="1.55" fill="#bdc8e5"/>
<circle cx="450.7" cy="442.9" r="1.55" fill="#8aa8f5"/>
<circle cx="479.4" cy="426.8" r="1.55" fill="#91acf3"/>
<circle cx="467.8" cy="426.9" r="1.55" fill="#c4cce4"/>
<circle cx="447.1" cy="440.7" r="1.55" fill="#6481e4"/>
<circle cx="472.8" cy="428.3" r="1.55" fill="#d0d4e0"/>
<circle cx="464.4" cy="432.9" r="1.55" fill="#a5b9ed"/>
<circle cx="448.8" cy="442.9" r="1.55" fill="#5b75dc"/>
<circle cx="480.9" cy="423.0" r="1.55" fill="#dadadd"/>
<circle cx="470.4" cy="431.8" r="1.55" fill="#8eaaf4"/>
<circle cx="471.3" cy="421.7" r="1.55" fill="#c8cfe2"/>
<circle cx="472.0" cy="427.1" r="1.55" fill="#b5c3e8"/>
<circle cx="439.2" cy="444.0" r="1.55" fill="#6a88e9"/>
<circle cx="468.1" cy="431.1" r="1.55" fill="#c5cde3"/>
<circle cx="445.3" cy="441.3" r="1.55" fill="#6885e7"/>
<circle cx="444.3" cy="445.3" r="1.55" fill="#5a73db"/>
<circle cx="464.4" cy="433.9" r="1.55" fill="#a0b6ee"/>
<circle cx="463.7" cy="425.2" r="1.55" fill="#95aef2"/>
<circle cx="460.7" cy="429.2" r="1.55" fill="#91acf3"/>
<circle cx="451.8" cy="437.3" r="1.55" fill="#a9bbec"/>
<circle cx="474.1" cy="425.7" r="1.55" fill="#9cb3ef"/>
<circle cx="440.7" cy="448.8" r="1.55" fill="#6e8ded"/>
<circle cx="461.7" cy="445.8" r="1.55" fill="#d5d7de"/>
<circle cx="453.6" cy="432.3" r="1.55" fill="#8aa8f5"/>
<circle cx="453.8" cy="440.5" r="1.55" fill="#617de2"/>
<circle cx="460.6" cy="436.2" r="1.55" fill="#c8cfe2"/>
<circle cx="470.2" cy="424.8" r="1.55" fill="#c6cde3"/>
<circle cx="464.9" cy="428.3" r="1.55" fill="#adbeea"/>
<circle cx="478.2" cy="421.9" r="1.55" fill="#c8cfe2"/>
<circle cx="445.0" cy="442.6" r="1.55" fill="#7597f3"/>
<circle cx="458.0" cy="443.1" r="1.55" fill="#cbd1e1"/>
<circle cx="475.9" cy="423.6" r="1.55" fill="#afbfea"/>
<circle cx="473.0" cy="423.1" r="1.55" fill="#b0bfea"/>
<circle cx="442.8" cy="442.3" r="1.55" fill="#6f8fee"/>
<circle cx="459.7" cy="435.2" r="1.55" fill="#88a6f5"/>
<circle cx="439.4" cy="449.3" r="1.55" fill="#708fee"/>
<circle cx="448.1" cy="440.5" r="1.55" fill="#6f8eed"/>
<circle cx="479.0" cy="421.2" r="1.55" fill="#b6c4e8"/>
<circle cx="471.5" cy="425.5" r="1.55" fill="#c9d0e2"/>
<circle cx="481.7" cy="419.8" r="1.55" fill="#d1d5df"/>
<circle cx="452.8" cy="441.1" r="1.55" fill="#b1c0e9"/>
<circle cx="468.4" cy="428.7" r="1.55" fill="#dadadd"/>
<circle cx="439.7" cy="447.0" r="1.55" fill="#6a88e9"/>
<circle cx="483.9" cy="415.3" r="1.55" fill="#c3cce4"/>
<circle cx="463.7" cy="444.5" r="1.55" fill="#d5d7de"/>
<circle cx="459.5" cy="443.1" r="1.55" fill="#dcdbdc"/>
<circle cx="461.8" cy="430.4" r="1.55" fill="#bac6e7"/>
<circle cx="476.9" cy="424.2" r="1.55" fill="#c6cee3"/>
<circle cx="446.7" cy="442.4" r="1.55" fill="#84a4f7"/>
<circle cx="445.2" cy="445.8" r="1.55" fill="#6683e6"/>
<circle cx="484.8" cy="417.2" r="1.55" fill="#b9c5e7"/>
<circle cx="441.3" cy="446.0" r="1.55" fill="#6885e7"/>
<circle cx="442.5" cy="443.9" r="1.55" fill="#708fee"/>
<circle cx="482.8" cy="420.3" r="1.55" fill="#a9bbec"/>
<circle cx="464.3" cy="429.6" r="1.55" fill="#c6cee3"/>
<circle cx="456.9" cy="434.5" r="1.55" fill="#afbfea"/>
<circle cx="476.9" cy="421.4" r="1.55" fill="#e1d1cc"/>
<circle cx="439.6" cy="445.5" r="1.55" fill="#5f7ae0"/>
<circle cx="447.4" cy="443.5" r="1.55" fill="#556dd7"/>
<circle cx="460.7" cy="444.0" r="1.55" fill="#dfd6d3"/>
<circle cx="465.1" cy="436.8" r="1.55" fill="#8aa8f5"/>
<circle cx="461.3" cy="431.3" r="1.55" fill="#b8c5e7"/>
<circle cx="455.4" cy="443.3" r="1.55" fill="#cad0e2"/>
<circle cx="438.5" cy="445.3" r="1.55" fill="#4f66d2"/>
<circle cx="445.8" cy="440.1" r="1.55" fill="#88a7f5"/>
<circle cx="444.0" cy="443.1" r="1.55" fill="#607be1"/>
<circle cx="470.0" cy="429.2" r="1.55" fill="#a8bbec"/>
<circle cx="449.6" cy="441.4" r="1.55" fill="#6f8fee"/>
<circle cx="470.6" cy="430.2" r="1.55" fill="#a5b9ed"/>
<circle cx="478.7" cy="423.8" r="1.55" fill="#ded8d6"/>
<circle cx="473.3" cy="427.1" r="1.55" fill="#b8c5e7"/>
<circle cx="465.5" cy="426.6" r="1.55" fill="#a6b9ec"/>
<circle cx="473.6" cy="424.1" r="1.55" fill="#afbfea"/>
<circle cx="466.9" cy="425.6" r="1.55" fill="#cad0e2"/>
<circle cx="458.2" cy="441.1" r="1.55" fill="#c4cce4"/>
<circle cx="447.5" cy="444.9" r="1.55" fill="#627ee2"/>
<circle cx="465.0" cy="431.7" r="1.55" fill="#93aef2"/>
<circle cx="472.8" cy="425.7" r="1.55" fill="#a8bbec"/>
<circle cx="451.4" cy="441.4" r="1.55" fill="#7495f2"/>
<circle cx="475.8" cy="427.7" r="1.55" fill="#90acf3"/>
<circle cx="462.6" cy="432.6" r="1.55" fill="#c0cae5"/>
<circle cx="461.6" cy="434.9" r="1.55" fill="#9bb2f0"/>
<circle cx="450.4" cy="439.7" r="1.55" fill="#6987e8"/>
<circle cx="478.1" cy="418.7" r="1.55" fill="#b0bfea"/>
<circle cx="480.1" cy="422.2" r="1.55" fill="#aebeea"/>
<circle cx="458.8" cy="430.4" r="1.55" fill="#d3d6df"/>
<circle cx="478.2" cy="417.6" r="1.55" fill="#b6c4e8"/>
<circle cx="443.9" cy="441.9" r="1.55" fill="#6683e6"/>
<circle cx="460.4" cy="434.2" r="1.55" fill="#b2c1e9"/>
<circle cx="465.8" cy="429.0" r="1.55" fill="#9cb3ef"/>
<circle cx="442.2" cy="446.5" r="1.55" fill="#485dcc"/>
<circle cx="461.7" cy="437.4" r="1.55" fill="#7d9ff9"/>
<circle cx="468.0" cy="430.1" r="1.55" fill="#a6b9ec"/>
<circle cx="477.4" cy="425.4" r="1.55" fill="#b4c2e8"/>
<circle cx="485.3" cy="418.7" r="1.55" fill="#dfd6d3"/>
<circle cx="451.5" cy="439.5" r="1.55" fill="#5a74dc"/>
<circle cx="447.4" cy="439.2" r="1.55" fill="#6c8beb"/>
<circle cx="470.7" cy="423.8" r="1.55" fill="#9ab2f0"/>
<circle cx="463.7" cy="442.2" r="1.55" fill="#ced3e0"/>
<circle cx="455.3" cy="434.6" r="1.55" fill="#acbdeb"/>
<circle cx="490.1" cy="416.5" r="1.55" fill="#bdc8e6"/>
<circle cx="486.0" cy="415.0" r="1.55" fill="#dfd7d5"/>
<circle cx="474.7" cy="420.6" r="1.55" fill="#cad0e2"/>
<circle cx="442.9" cy="445.7" r="1.55" fill="#93adf2"/>
<circle cx="471.9" cy="428.8" r="1.55" fill="#b1c1e9"/>
<circle cx="443.5" cy="444.5" r="1.55" fill="#7697f4"/>
<circle cx="475.7" cy="421.9" r="1.55" fill="#e4c9c0"/>
<circle cx="437.8" cy="448.3" r="1.55" fill="#6c8beb"/>
<circle cx="475.1" cy="419.5" r="1.55" fill="#bac6e6"/>
<circle cx="452.7" cy="438.4" r="1.55" fill="#b4c2e8"/>
<circle cx="478.6" cy="428.2" r="1.55" fill="#a3b8ed"/>
<circle cx="464.7" cy="437.8" r="1.55" fill="#ccd1e1"/>
<circle cx="467.6" cy="432.8" r="1.55" fill="#95aff1"/>
<circle cx="483.9" cy="417.9" r="1.55" fill="#abbdeb"/>
<circle cx="461.5" cy="441.7" r="1.55" fill="#d2d5df"/>
<circle cx="471.0" cy="427.3" r="1.55" fill="#a7baec"/>
<circle cx="472.4" cy="430.1" r="1.55" fill="#8aa8f5"/>
<circle cx="487.1" cy="397.6" r="1.55" fill="#f39e80"/>
</g>
<line x1="384.10" y1="503.80" x2="509.00" y2="367.60" stroke="#000" stroke-width="1.4" stroke-dasharray="4.3,2.2"/>
<line x1="384.10" y1="367.60" x2="384.10" y2="504.35" stroke="#000" stroke-width="1.45" />
<line x1="383.55" y1="503.80" x2="509.00" y2="503.80" stroke="#000" stroke-width="1.45" />
<line x1="381.50" y1="374.09" x2="384.10" y2="374.09" stroke="#000" stroke-width="1.305" />
<text x="379.10" y="377.19" font-size="9.0" text-anchor="end" fill="#1a1a1a" font-weight="normal" stroke="#1a1a1a" stroke-width="0.25" >0.8</text>
<line x1="381.50" y1="408.27" x2="384.10" y2="408.27" stroke="#000" stroke-width="1.305" />
<text x="379.10" y="411.37" font-size="9.0" text-anchor="end" fill="#1a1a1a" font-weight="normal" stroke="#1a1a1a" stroke-width="0.25" >0.4</text>
<line x1="381.50" y1="442.45" x2="384.10" y2="442.45" stroke="#000" stroke-width="1.305" />
<text x="379.10" y="445.55" font-size="9.0" text-anchor="end" fill="#1a1a1a" font-weight="normal" stroke="#1a1a1a" stroke-width="0.25" >0.0</text>
<line x1="381.50" y1="476.63" x2="384.10" y2="476.63" stroke="#000" stroke-width="1.305" />
<text x="379.10" y="479.73" font-size="9.0" text-anchor="end" fill="#1a1a1a" font-weight="normal" stroke="#1a1a1a" stroke-width="0.25" >-0.4</text>
<text x="393.70" y="381.00" font-size="9" text-anchor="start" fill="#000" font-weight="normal" stroke="#000" stroke-width="0.25" >n = 147</text>
<line x1="389.60" y1="432.80" x2="395.20" y2="432.80" stroke="#000" stroke-width="1.3"/>
<path d="M397.80,432.80 L394.60,430.60 L394.60,435.00 Z" fill="#000"/>
<line x1="460.00" y1="497.70" x2="460.00" y2="491.90" stroke="#000" stroke-width="1.3"/>
<path d="M460.00,488.90 L458.00,492.50 L462.00,492.50 Z" fill="#000"/>
<path d="M468.90,426.90 L475.48,424.57 L471.23,420.32 Z" fill="none" stroke="#000" stroke-width="1.05" stroke-linejoin="miter"/>
<text x="479.90" y="426.60" font-size="7.9" text-anchor="start" fill="#333" font-weight="normal" stroke="#333" stroke-width="0.12" >625</text>
<g stroke="#2e2e2e" stroke-width="0.45">
<circle cx="584.5" cy="438.4" r="1.55" fill="#b9c5e7"/>
<circle cx="591.5" cy="444.4" r="1.55" fill="#e9b9a8"/>
<circle cx="588.4" cy="435.4" r="1.55" fill="#ecb09b"/>
<circle cx="570.9" cy="450.0" r="1.55" fill="#d2d5df"/>
<circle cx="597.2" cy="427.4" r="1.55" fill="#e0d4d0"/>
<circle cx="609.6" cy="416.1" r="1.55" fill="#dcdcdc"/>
<circle cx="608.9" cy="431.3" r="1.55" fill="#c5cde3"/>
<circle cx="603.2" cy="421.4" r="1.55" fill="#ced3e0"/>
<circle cx="613.3" cy="425.5" r="1.55" fill="#d2d5df"/>
<circle cx="618.5" cy="424.3" r="1.55" fill="#eeab94"/>
<circle cx="604.7" cy="433.6" r="1.55" fill="#9ab2f0"/>
<circle cx="604.0" cy="439.0" r="1.55" fill="#e1d2cd"/>
<circle cx="587.8" cy="443.0" r="1.55" fill="#b4c2e8"/>
<circle cx="597.1" cy="424.4" r="1.55" fill="#e1cfca"/>
<circle cx="588.6" cy="443.8" r="1.55" fill="#da5c58"/>
<circle cx="615.5" cy="432.8" r="1.55" fill="#bbc6e6"/>
<circle cx="582.6" cy="440.2" r="1.55" fill="#ecb19d"/>
<circle cx="597.3" cy="434.9" r="1.55" fill="#eeac96"/>
<circle cx="585.0" cy="446.9" r="1.55" fill="#bac6e6"/>
<circle cx="594.4" cy="444.6" r="1.55" fill="#d1d5e0"/>
<circle cx="590.0" cy="430.1" r="1.55" fill="#98b1f1"/>
<circle cx="572.0" cy="441.8" r="1.55" fill="#e4c7bd"/>
<circle cx="593.8" cy="429.8" r="1.55" fill="#e7beb0"/>
<circle cx="594.6" cy="433.4" r="1.55" fill="#f0a58b"/>
<circle cx="608.5" cy="419.8" r="1.55" fill="#c8cfe2"/>
<circle cx="576.0" cy="442.3" r="1.55" fill="#e7c0b3"/>
<circle cx="579.6" cy="434.5" r="1.55" fill="#ecb09b"/>
<circle cx="605.1" cy="417.1" r="1.55" fill="#d4d6df"/>
<circle cx="586.1" cy="441.4" r="1.55" fill="#efa78e"/>
<circle cx="582.3" cy="443.8" r="1.55" fill="#e5c5ba"/>
<circle cx="591.7" cy="436.4" r="1.55" fill="#c0c9e5"/>
<circle cx="597.6" cy="428.8" r="1.55" fill="#c6cde3"/>
<circle cx="603.5" cy="428.5" r="1.55" fill="#8daaf4"/>
<circle cx="587.0" cy="433.2" r="1.55" fill="#e4c9c0"/>
<circle cx="595.6" cy="436.0" r="1.55" fill="#e3cac2"/>
<circle cx="598.6" cy="429.6" r="1.55" fill="#ebb3a0"/>
<circle cx="582.2" cy="446.5" r="1.55" fill="#dedada"/>
<circle cx="597.0" cy="430.7" r="1.55" fill="#e0d3cf"/>
<circle cx="599.5" cy="446.4" r="1.55" fill="#dfd6d3"/>
<circle cx="601.9" cy="416.5" r="1.55" fill="#a1b6ee"/>
<circle cx="581.5" cy="433.9" r="1.55" fill="#ebb4a1"/>
<circle cx="588.9" cy="432.4" r="1.55" fill="#e6c2b6"/>
<circle cx="591.5" cy="431.1" r="1.55" fill="#c8cfe2"/>
<circle cx="600.3" cy="431.5" r="1.55" fill="#efa991"/>
<circle cx="581.3" cy="432.6" r="1.55" fill="#e2cdc7"/>
<circle cx="597.2" cy="420.4" r="1.55" fill="#e2cdc6"/>
<circle cx="606.0" cy="430.9" r="1.55" fill="#e6c1b5"/>
<circle cx="610.2" cy="417.5" r="1.55" fill="#c8cfe2"/>
<circle cx="601.1" cy="426.1" r="1.55" fill="#eeac95"/>
<circle cx="597.4" cy="438.3" r="1.55" fill="#e3cac2"/>
<circle cx="594.4" cy="428.1" r="1.55" fill="#cfd3e0"/>
<circle cx="580.5" cy="442.3" r="1.55" fill="#a5b9ed"/>
<circle cx="581.2" cy="440.3" r="1.55" fill="#eeab94"/>
<circle cx="602.9" cy="427.0" r="1.55" fill="#cfd3e0"/>
<circle cx="608.5" cy="423.0" r="1.55" fill="#f1a388"/>
<circle cx="585.6" cy="443.5" r="1.55" fill="#bec9e5"/>
<circle cx="582.6" cy="426.4" r="1.55" fill="#e8beb0"/>
<circle cx="606.8" cy="438.8" r="1.55" fill="#e2cec8"/>
<circle cx="613.7" cy="424.2" r="1.55" fill="#acbdeb"/>
<circle cx="610.3" cy="428.0" r="1.55" fill="#e8bcad"/>
<circle cx="583.7" cy="439.3" r="1.55" fill="#cbd1e1"/>
<circle cx="595.7" cy="428.9" r="1.55" fill="#e2cec7"/>
<circle cx="604.8" cy="418.7" r="1.55" fill="#a9bceb"/>
<circle cx="606.9" cy="428.8" r="1.55" fill="#e6c1b5"/>
<circle cx="605.4" cy="442.8" r="1.55" fill="#d6d7de"/>
<circle cx="584.7" cy="440.2" r="1.55" fill="#e1d1cc"/>
<circle cx="575.7" cy="445.4" r="1.55" fill="#e9b9a8"/>
<circle cx="609.8" cy="424.1" r="1.55" fill="#ded9d8"/>
<circle cx="602.2" cy="434.7" r="1.55" fill="#e3cac1"/>
<circle cx="596.1" cy="432.9" r="1.55" fill="#e2cfc9"/>
<circle cx="598.4" cy="439.7" r="1.55" fill="#e2cdc6"/>
<circle cx="586.8" cy="443.7" r="1.55" fill="#ded9d7"/>
<circle cx="586.9" cy="431.6" r="1.55" fill="#e7c0b3"/>
<circle cx="581.2" cy="427.4" r="1.55" fill="#eab6a3"/>
<circle cx="588.3" cy="431.5" r="1.55" fill="#e7c0b2"/>
<circle cx="597.4" cy="436.6" r="1.55" fill="#e7bfb1"/>
<circle cx="577.2" cy="437.2" r="1.55" fill="#dbdadd"/>
<circle cx="596.0" cy="425.2" r="1.55" fill="#ecb09c"/>
<circle cx="599.2" cy="442.4" r="1.55" fill="#bfc9e5"/>
<circle cx="588.4" cy="427.0" r="1.55" fill="#e8beaf"/>
<circle cx="584.8" cy="434.7" r="1.55" fill="#e8bcac"/>
<circle cx="600.9" cy="436.3" r="1.55" fill="#f2a185"/>
<circle cx="591.3" cy="424.5" r="1.55" fill="#b5c3e8"/>
<circle cx="606.8" cy="426.3" r="1.55" fill="#e67868"/>
<circle cx="602.4" cy="439.7" r="1.55" fill="#e0d2ce"/>
<circle cx="587.2" cy="435.2" r="1.55" fill="#c9d0e2"/>
<circle cx="600.1" cy="420.2" r="1.55" fill="#dfd8d5"/>
<circle cx="591.0" cy="427.9" r="1.55" fill="#c3cce4"/>
<circle cx="580.0" cy="431.9" r="1.55" fill="#cbd0e2"/>
<circle cx="605.7" cy="427.8" r="1.55" fill="#ced2e1"/>
<circle cx="601.8" cy="418.5" r="1.55" fill="#a5b9ed"/>
<circle cx="583.6" cy="441.7" r="1.55" fill="#e4c7bd"/>
<circle cx="597.5" cy="446.5" r="1.55" fill="#b6c4e8"/>
<circle cx="602.4" cy="433.6" r="1.55" fill="#ebb4a1"/>
<circle cx="578.1" cy="432.7" r="1.55" fill="#d2d5df"/>
<circle cx="601.3" cy="430.4" r="1.55" fill="#e06a60"/>
<circle cx="613.9" cy="419.0" r="1.55" fill="#f39e81"/>
<circle cx="572.7" cy="437.2" r="1.55" fill="#dfd7d4"/>
<circle cx="592.0" cy="441.0" r="1.55" fill="#e47465"/>
<circle cx="596.1" cy="423.2" r="1.55" fill="#edae98"/>
<circle cx="610.9" cy="427.0" r="1.55" fill="#dbdbdd"/>
<circle cx="572.9" cy="439.4" r="1.55" fill="#dddcdc"/>
<circle cx="603.4" cy="432.2" r="1.55" fill="#e8bcae"/>
<circle cx="610.6" cy="429.1" r="1.55" fill="#e7c0b2"/>
<circle cx="603.1" cy="417.9" r="1.55" fill="#91acf3"/>
<circle cx="575.3" cy="447.1" r="1.55" fill="#eeac96"/>
<circle cx="577.3" cy="431.4" r="1.55" fill="#e8bcae"/>
<circle cx="577.5" cy="439.1" r="1.55" fill="#e1d1cc"/>
<circle cx="591.2" cy="448.7" r="1.55" fill="#f39d7f"/>
<circle cx="574.4" cy="441.7" r="1.55" fill="#f19478"/>
<circle cx="596.0" cy="429.9" r="1.55" fill="#aabceb"/>
<circle cx="606.8" cy="419.2" r="1.55" fill="#ced2e1"/>
<circle cx="579.8" cy="446.6" r="1.55" fill="#f2a185"/>
<circle cx="583.8" cy="436.3" r="1.55" fill="#e0d2ce"/>
<circle cx="589.4" cy="439.6" r="1.55" fill="#cfd3e0"/>
<circle cx="581.2" cy="443.5" r="1.55" fill="#bfc9e5"/>
<circle cx="570.5" cy="439.5" r="1.55" fill="#cfd3e0"/>
<circle cx="595.4" cy="424.2" r="1.55" fill="#e2cdc7"/>
<circle cx="586.0" cy="436.2" r="1.55" fill="#e2cfc8"/>
<circle cx="596.0" cy="431.3" r="1.55" fill="#efa991"/>
<circle cx="586.8" cy="439.7" r="1.55" fill="#e97f6c"/>
<circle cx="603.8" cy="422.3" r="1.55" fill="#b4c2e8"/>
<circle cx="596.5" cy="419.5" r="1.55" fill="#a1b6ee"/>
<circle cx="594.8" cy="438.6" r="1.55" fill="#efa890"/>
<circle cx="596.1" cy="437.0" r="1.55" fill="#edae99"/>
<circle cx="597.5" cy="425.7" r="1.55" fill="#e4c9c0"/>
<circle cx="603.0" cy="419.9" r="1.55" fill="#ec8670"/>
<circle cx="585.9" cy="433.3" r="1.55" fill="#e5c4b8"/>
<circle cx="586.3" cy="437.7" r="1.55" fill="#ec8670"/>
<circle cx="584.7" cy="437.4" r="1.55" fill="#e16e62"/>
<circle cx="591.5" cy="418.3" r="1.55" fill="#e8bcae"/>
<circle cx="591.7" cy="435.3" r="1.55" fill="#b9c5e7"/>
<circle cx="610.4" cy="431.0" r="1.55" fill="#d5d7de"/>
<circle cx="601.0" cy="422.2" r="1.55" fill="#dfd5d2"/>
<circle cx="584.2" cy="445.6" r="1.55" fill="#d75554"/>
<circle cx="598.9" cy="424.4" r="1.55" fill="#cdd2e1"/>
<circle cx="577.6" cy="440.8" r="1.55" fill="#c5cde3"/>
<circle cx="585.6" cy="427.9" r="1.55" fill="#e8bcad"/>
<circle cx="584.9" cy="431.8" r="1.55" fill="#c8cfe2"/>
<circle cx="594.6" cy="417.6" r="1.55" fill="#b7c4e7"/>
<circle cx="591.0" cy="441.1" r="1.55" fill="#c3cce4"/>
<circle cx="600.0" cy="434.5" r="1.55" fill="#e0d5d1"/>
<circle cx="598.0" cy="433.9" r="1.55" fill="#efa890"/>
<circle cx="573.5" cy="442.8" r="1.55" fill="#e9b8a8"/>
<circle cx="575.4" cy="438.7" r="1.55" fill="#dfd7d5"/>
<circle cx="587.8" cy="429.9" r="1.55" fill="#e5c4b9"/>
<circle cx="590.5" cy="426.9" r="1.55" fill="#dfd6d4"/>
<circle cx="572.7" cy="444.9" r="1.55" fill="#eeac96"/>
<circle cx="586.7" cy="426.3" r="1.55" fill="#efa88f"/>
<circle cx="582.0" cy="436.3" r="1.55" fill="#dcdbdc"/>
<circle cx="589.4" cy="427.0" r="1.55" fill="#e0d2cd"/>
<circle cx="582.8" cy="431.9" r="1.55" fill="#99b1f0"/>
<circle cx="578.2" cy="443.1" r="1.55" fill="#e1d0ca"/>
<circle cx="588.7" cy="420.7" r="1.55" fill="#f0a68d"/>
<circle cx="593.0" cy="428.1" r="1.55" fill="#e8bdaf"/>
<circle cx="571.9" cy="449.1" r="1.55" fill="#e6c2b5"/>
<circle cx="588.3" cy="428.8" r="1.55" fill="#d6d8de"/>
<circle cx="599.9" cy="438.3" r="1.55" fill="#dadadd"/>
<circle cx="589.5" cy="434.9" r="1.55" fill="#dadadd"/>
<circle cx="578.3" cy="440.0" r="1.55" fill="#a6baec"/>
<circle cx="587.6" cy="447.9" r="1.55" fill="#c9cfe2"/>
<circle cx="608.6" cy="425.1" r="1.55" fill="#85a4f6"/>
<circle cx="592.9" cy="433.1" r="1.55" fill="#dddbda"/>
<circle cx="573.4" cy="445.7" r="1.55" fill="#e6c1b4"/>
<circle cx="608.4" cy="426.3" r="1.55" fill="#e6c3b7"/>
<circle cx="580.8" cy="438.2" r="1.55" fill="#e1d1cc"/>
<circle cx="596.3" cy="421.2" r="1.55" fill="#e9baaa"/>
<circle cx="603.2" cy="423.9" r="1.55" fill="#9eb4ef"/>
<circle cx="584.4" cy="442.9" r="1.55" fill="#ecb19d"/>
<circle cx="575.1" cy="439.9" r="1.55" fill="#e0d4d1"/>
<circle cx="580.3" cy="429.5" r="1.55" fill="#e4c9c0"/>
<circle cx="602.6" cy="425.7" r="1.55" fill="#e5c6bb"/>
<circle cx="609.4" cy="430.1" r="1.55" fill="#c3cce4"/>
<circle cx="613.8" cy="427.4" r="1.55" fill="#d6d7de"/>
<circle cx="605.0" cy="438.3" r="1.55" fill="#ded9d8"/>
<circle cx="586.6" cy="430.1" r="1.55" fill="#e5c4b9"/>
<circle cx="589.4" cy="444.6" r="1.55" fill="#dedad9"/>
<circle cx="594.3" cy="431.2" r="1.55" fill="#d4d6df"/>
<circle cx="577.9" cy="438.1" r="1.55" fill="#e4c8bf"/>
<circle cx="610.6" cy="433.5" r="1.55" fill="#e0d2ce"/>
<circle cx="585.7" cy="439.6" r="1.55" fill="#93aef2"/>
<circle cx="580.0" cy="433.5" r="1.55" fill="#e1d1cb"/>
<circle cx="599.5" cy="433.3" r="1.55" fill="#e7bfb1"/>
<circle cx="601.7" cy="424.8" r="1.55" fill="#e6c1b5"/>
<circle cx="591.4" cy="433.6" r="1.55" fill="#e7beb0"/>
<circle cx="603.1" cy="442.3" r="1.55" fill="#e6c1b5"/>
<circle cx="595.1" cy="422.2" r="1.55" fill="#e0d2ce"/>
<circle cx="603.7" cy="434.5" r="1.55" fill="#e2cec8"/>
<circle cx="593.6" cy="437.4" r="1.55" fill="#c5cde3"/>
<circle cx="585.8" cy="421.4" r="1.55" fill="#dfd7d5"/>
<circle cx="610.3" cy="404.6" r="1.55" fill="#ce4048"/>
<circle cx="601.3" cy="415.6" r="1.55" fill="#ba122e"/>
<circle cx="625.3" cy="421.6" r="1.55" fill="#98b1f1"/>
</g>
<line x1="512.30" y1="503.80" x2="636.80" y2="367.60" stroke="#000" stroke-width="1.4" stroke-dasharray="4.3,2.2"/>
<line x1="512.30" y1="367.60" x2="512.30" y2="504.35" stroke="#000" stroke-width="1.45" />
<line x1="511.75" y1="503.80" x2="636.80" y2="503.80" stroke="#000" stroke-width="1.45" />
<text x="521.90" y="381.00" font-size="9" text-anchor="start" fill="#000" font-weight="normal" stroke="#000" stroke-width="0.25" >n = 197</text>
<line x1="517.80" y1="434.00" x2="523.40" y2="434.00" stroke="#000" stroke-width="1.3"/>
<path d="M526.00,434.00 L522.80,431.80 L522.80,436.20 Z" fill="#000"/>
<line x1="592.90" y1="497.70" x2="592.90" y2="491.90" stroke="#000" stroke-width="1.3"/>
<path d="M592.90,488.90 L590.90,492.50 L594.90,492.50 Z" fill="#000"/>
<g stroke="#2e2e2e" stroke-width="0.45">
<circle cx="472.1" cy="556.0" r="1.55" fill="#dfd7d5"/>
<circle cx="466.8" cy="559.0" r="1.55" fill="#d5d7de"/>
<circle cx="472.1" cy="550.5" r="1.55" fill="#dddbda"/>
<circle cx="461.9" cy="567.2" r="1.55" fill="#cdd2e1"/>
<circle cx="476.6" cy="579.1" r="1.55" fill="#b5c3e8"/>
<circle cx="471.0" cy="565.9" r="1.55" fill="#b7c4e7"/>
<circle cx="441.2" cy="584.1" r="1.55" fill="#5a74db"/>
<circle cx="478.5" cy="541.8" r="1.55" fill="#efa78e"/>
<circle cx="457.3" cy="573.2" r="1.55" fill="#b8c5e7"/>
<circle cx="476.6" cy="543.4" r="1.55" fill="#f09176"/>
<circle cx="455.1" cy="565.8" r="1.55" fill="#a2b7ee"/>
<circle cx="441.9" cy="581.5" r="1.55" fill="#6682e5"/>
<circle cx="480.2" cy="574.9" r="1.55" fill="#aabceb"/>
<circle cx="469.3" cy="562.8" r="1.55" fill="#e1d0ca"/>
<circle cx="442.4" cy="580.4" r="1.55" fill="#7191f0"/>
<circle cx="447.1" cy="580.8" r="1.55" fill="#7596f3"/>
<circle cx="465.8" cy="564.1" r="1.55" fill="#e9b9a8"/>
<circle cx="485.1" cy="562.8" r="1.55" fill="#cdd2e1"/>
<circle cx="445.0" cy="578.9" r="1.55" fill="#92adf3"/>
<circle cx="474.9" cy="552.2" r="1.55" fill="#e5c6bb"/>
<circle cx="448.5" cy="573.1" r="1.55" fill="#789af6"/>
<circle cx="469.9" cy="560.9" r="1.55" fill="#dedad9"/>
<circle cx="469.3" cy="559.4" r="1.55" fill="#c4cce3"/>
<circle cx="487.4" cy="565.3" r="1.55" fill="#9fb5ef"/>
<circle cx="459.3" cy="565.9" r="1.55" fill="#d7d8de"/>
<circle cx="472.4" cy="551.8" r="1.55" fill="#e2cec7"/>
<circle cx="455.0" cy="567.7" r="1.55" fill="#bac6e6"/>
<circle cx="470.8" cy="562.1" r="1.55" fill="#d3d6df"/>
<circle cx="482.5" cy="544.1" r="1.55" fill="#efa991"/>
<circle cx="449.9" cy="571.6" r="1.55" fill="#a4b8ed"/>
<circle cx="476.3" cy="577.8" r="1.55" fill="#94aef2"/>
<circle cx="446.2" cy="582.0" r="1.55" fill="#576fd8"/>
<circle cx="472.3" cy="555.0" r="1.55" fill="#dddbdb"/>
<circle cx="474.4" cy="559.3" r="1.55" fill="#ccd1e1"/>
<circle cx="440.3" cy="583.3" r="1.55" fill="#6e8eed"/>
<circle cx="477.0" cy="559.0" r="1.55" fill="#e2cdc5"/>
<circle cx="439.5" cy="582.6" r="1.55" fill="#708fee"/>
<circle cx="443.0" cy="582.8" r="1.55" fill="#81a2f8"/>
<circle cx="457.5" cy="566.4" r="1.55" fill="#b2c1e9"/>
<circle cx="452.3" cy="575.2" r="1.55" fill="#7292f0"/>
<circle cx="479.2" cy="571.1" r="1.55" fill="#d5d7de"/>
<circle cx="445.4" cy="576.2" r="1.55" fill="#5f7ae0"/>
<circle cx="492.1" cy="534.9" r="1.55" fill="#efa992"/>
<circle cx="470.8" cy="550.5" r="1.55" fill="#e8bdae"/>
<circle cx="469.4" cy="555.2" r="1.55" fill="#ded8d6"/>
<circle cx="468.7" cy="551.5" r="1.55" fill="#d3d6df"/>
<circle cx="440.8" cy="581.5" r="1.55" fill="#637fe3"/>
<circle cx="488.6" cy="546.0" r="1.55" fill="#e9baa9"/>
<circle cx="479.0" cy="554.2" r="1.55" fill="#ecb29e"/>
<circle cx="451.0" cy="577.7" r="1.55" fill="#6e8dec"/>
<circle cx="451.6" cy="574.0" r="1.55" fill="#aebfea"/>
<circle cx="470.4" cy="576.0" r="1.55" fill="#bdc8e5"/>
<circle cx="479.3" cy="549.6" r="1.55" fill="#e2cec7"/>
<circle cx="461.7" cy="564.4" r="1.55" fill="#c3cce4"/>
<circle cx="458.6" cy="574.1" r="1.55" fill="#8fabf3"/>
<circle cx="476.7" cy="568.6" r="1.55" fill="#99b1f0"/>
<circle cx="455.3" cy="578.1" r="1.55" fill="#8ba8f5"/>
<circle cx="475.9" cy="570.5" r="1.55" fill="#b1c0e9"/>
<circle cx="480.5" cy="546.9" r="1.55" fill="#f39c7d"/>
<circle cx="466.1" cy="557.0" r="1.55" fill="#d4d7df"/>
<circle cx="473.7" cy="543.8" r="1.55" fill="#edaf9a"/>
<circle cx="447.9" cy="577.2" r="1.55" fill="#7393f1"/>
<circle cx="446.1" cy="577.4" r="1.55" fill="#81a2f8"/>
<circle cx="447.5" cy="573.7" r="1.55" fill="#7090ef"/>
<circle cx="472.2" cy="547.7" r="1.55" fill="#ded9d8"/>
<circle cx="477.2" cy="545.8" r="1.55" fill="#f49a7b"/>
<circle cx="446.5" cy="574.8" r="1.55" fill="#6c8aeb"/>
<circle cx="441.8" cy="579.1" r="1.55" fill="#5a73db"/>
<circle cx="474.7" cy="543.1" r="1.55" fill="#e1d1cb"/>
<circle cx="480.6" cy="549.7" r="1.55" fill="#e5c4b9"/>
<circle cx="444.7" cy="577.2" r="1.55" fill="#799cf7"/>
<circle cx="481.9" cy="565.7" r="1.55" fill="#ced2e1"/>
<circle cx="456.6" cy="562.3" r="1.55" fill="#b8c5e7"/>
<circle cx="483.2" cy="541.0" r="1.55" fill="#e9bbab"/>
<circle cx="469.8" cy="550.4" r="1.55" fill="#e6c1b4"/>
<circle cx="461.0" cy="561.4" r="1.55" fill="#d0d4e0"/>
<circle cx="448.3" cy="576.1" r="1.55" fill="#708fee"/>
<circle cx="471.6" cy="569.1" r="1.55" fill="#b6c3e8"/>
<circle cx="474.2" cy="570.6" r="1.55" fill="#cfd3e0"/>
<circle cx="469.0" cy="577.8" r="1.55" fill="#a4b8ed"/>
<circle cx="450.7" cy="572.6" r="1.55" fill="#7fa1f8"/>
<circle cx="445.4" cy="580.0" r="1.55" fill="#88a7f5"/>
<circle cx="467.5" cy="566.8" r="1.55" fill="#a3b8ed"/>
<circle cx="479.0" cy="546.4" r="1.55" fill="#dfd7d5"/>
<circle cx="473.8" cy="555.2" r="1.55" fill="#e1d1cc"/>
<circle cx="474.9" cy="548.8" r="1.55" fill="#d7d8de"/>
<circle cx="479.2" cy="551.7" r="1.55" fill="#ecb09b"/>
<circle cx="464.8" cy="557.3" r="1.55" fill="#e2cfc8"/>
<circle cx="487.2" cy="542.5" r="1.55" fill="#e6c2b6"/>
<circle cx="484.3" cy="563.9" r="1.55" fill="#c8cfe2"/>
<circle cx="474.0" cy="568.0" r="1.55" fill="#a8bbec"/>
<circle cx="474.8" cy="547.0" r="1.55" fill="#e0d4d1"/>
<circle cx="475.4" cy="560.2" r="1.55" fill="#bcc7e6"/>
<circle cx="473.0" cy="567.9" r="1.55" fill="#c9cfe2"/>
<circle cx="468.1" cy="555.3" r="1.55" fill="#e6c4b8"/>
<circle cx="480.9" cy="541.7" r="1.55" fill="#ecb29e"/>
<circle cx="474.9" cy="554.8" r="1.55" fill="#d0d4e0"/>
<circle cx="464.5" cy="570.0" r="1.55" fill="#acbdeb"/>
<circle cx="470.4" cy="557.4" r="1.55" fill="#e9b9a9"/>
<circle cx="457.1" cy="569.6" r="1.55" fill="#cdd2e1"/>
<circle cx="483.1" cy="554.0" r="1.55" fill="#eab7a6"/>
<circle cx="440.7" cy="580.1" r="1.55" fill="#5972da"/>
<circle cx="456.5" cy="567.6" r="1.55" fill="#ccd1e1"/>
<circle cx="483.3" cy="551.0" r="1.55" fill="#efa890"/>
<circle cx="443.9" cy="578.0" r="1.55" fill="#7799f5"/>
<circle cx="437.2" cy="585.8" r="1.55" fill="#6480e4"/>
<circle cx="467.9" cy="579.8" r="1.55" fill="#97b0f1"/>
<circle cx="459.6" cy="567.5" r="1.55" fill="#a8bbec"/>
<circle cx="482.3" cy="546.2" r="1.55" fill="#f3987a"/>
<circle cx="457.0" cy="577.0" r="1.55" fill="#a4b8ed"/>
<circle cx="459.4" cy="568.8" r="1.55" fill="#9db3ef"/>
<circle cx="449.7" cy="578.7" r="1.55" fill="#7c9ff9"/>
<circle cx="478.5" cy="550.9" r="1.55" fill="#eeab93"/>
<circle cx="477.4" cy="553.1" r="1.55" fill="#e3cac1"/>
<circle cx="473.1" cy="571.9" r="1.55" fill="#91acf3"/>
<circle cx="446.4" cy="578.8" r="1.55" fill="#7293f1"/>
<circle cx="443.5" cy="579.8" r="1.55" fill="#6a89ea"/>
<circle cx="447.0" cy="579.7" r="1.55" fill="#7da0f9"/>
<circle cx="462.7" cy="562.7" r="1.55" fill="#cfd3e0"/>
<circle cx="450.0" cy="575.4" r="1.55" fill="#89a7f5"/>
<circle cx="469.9" cy="556.5" r="1.55" fill="#dcdbdc"/>
<circle cx="467.1" cy="564.7" r="1.55" fill="#bdc8e6"/>
<circle cx="458.5" cy="566.9" r="1.55" fill="#b1c0e9"/>
<circle cx="481.5" cy="569.6" r="1.55" fill="#ced3e0"/>
<circle cx="439.7" cy="580.7" r="1.55" fill="#7393f1"/>
<circle cx="485.7" cy="545.1" r="1.55" fill="#edaf9a"/>
<circle cx="479.9" cy="542.3" r="1.55" fill="#e1cfc9"/>
<circle cx="471.5" cy="557.1" r="1.55" fill="#dbdbdd"/>
<circle cx="469.2" cy="552.5" r="1.55" fill="#e8beb0"/>
<circle cx="468.2" cy="575.8" r="1.55" fill="#99b1f0"/>
<circle cx="459.6" cy="560.3" r="1.55" fill="#aebeea"/>
<circle cx="472.3" cy="574.8" r="1.55" fill="#b0c0e9"/>
<circle cx="422.1" cy="593.1" r="1.55" fill="#eab7a6"/>
<circle cx="499.1" cy="543.1" r="1.55" fill="#df685f"/>
</g>
<line x1="384.10" y1="643.10" x2="509.00" y2="507.10" stroke="#000" stroke-width="1.4" stroke-dasharray="4.3,2.2"/>
<line x1="384.10" y1="507.10" x2="384.10" y2="643.65" stroke="#000" stroke-width="1.45" />
<line x1="383.55" y1="643.10" x2="509.00" y2="643.10" stroke="#000" stroke-width="1.45" />
<line x1="381.50" y1="513.58" x2="384.10" y2="513.58" stroke="#000" stroke-width="1.305" />
<text x="379.10" y="516.68" font-size="9.0" text-anchor="end" fill="#1a1a1a" font-weight="normal" stroke="#1a1a1a" stroke-width="0.25" >0.8</text>
<line x1="381.50" y1="547.71" x2="384.10" y2="547.71" stroke="#000" stroke-width="1.305" />
<text x="379.10" y="550.81" font-size="9.0" text-anchor="end" fill="#1a1a1a" font-weight="normal" stroke="#1a1a1a" stroke-width="0.25" >0.4</text>
<line x1="381.50" y1="581.84" x2="384.10" y2="581.84" stroke="#000" stroke-width="1.305" />
<text x="379.10" y="584.94" font-size="9.0" text-anchor="end" fill="#1a1a1a" font-weight="normal" stroke="#1a1a1a" stroke-width="0.25" >0.0</text>
<line x1="381.50" y1="615.97" x2="384.10" y2="615.97" stroke="#000" stroke-width="1.305" />
<text x="379.10" y="619.07" font-size="9.0" text-anchor="end" fill="#1a1a1a" font-weight="normal" stroke="#1a1a1a" stroke-width="0.25" >-0.4</text>
<line x1="409.02" y1="643.10" x2="409.02" y2="645.70" stroke="#000" stroke-width="1.305" />
<text x="409.02" y="655.90" font-size="9.0" text-anchor="middle" fill="#1a1a1a" font-weight="normal" stroke="#1a1a1a" stroke-width="0.25" >-0.4</text>
<line x1="440.36" y1="643.10" x2="440.36" y2="645.70" stroke="#000" stroke-width="1.305" />
<text x="440.36" y="655.90" font-size="9.0" text-anchor="middle" fill="#1a1a1a" font-weight="normal" stroke="#1a1a1a" stroke-width="0.25" >0.0</text>
<line x1="471.70" y1="643.10" x2="471.70" y2="645.70" stroke="#000" stroke-width="1.305" />
<text x="471.70" y="655.90" font-size="9.0" text-anchor="middle" fill="#1a1a1a" font-weight="normal" stroke="#1a1a1a" stroke-width="0.25" >0.4</text>
<line x1="503.04" y1="643.10" x2="503.04" y2="645.70" stroke="#000" stroke-width="1.305" />
<text x="503.04" y="655.90" font-size="9.0" text-anchor="middle" fill="#1a1a1a" font-weight="normal" stroke="#1a1a1a" stroke-width="0.25" >0.8</text>
<text x="393.70" y="520.50" font-size="9" text-anchor="start" fill="#000" font-weight="normal" stroke="#000" stroke-width="0.25" >n = 138</text>
<line x1="389.60" y1="567.90" x2="395.20" y2="567.90" stroke="#000" stroke-width="1.3"/>
<path d="M397.80,567.90 L394.60,565.70 L394.60,570.10 Z" fill="#000"/>
<line x1="467.40" y1="637.00" x2="467.40" y2="631.20" stroke="#000" stroke-width="1.3"/>
<path d="M467.40,628.20 L465.40,631.80 L469.40,631.80 Z" fill="#000"/>
<path d="M499.90,541.30 L506.48,538.97 L502.23,534.72 Z" fill="none" stroke="#000" stroke-width="1.05" stroke-linejoin="miter"/>
<text x="495.90" y="532.90" font-size="7.9" text-anchor="start" fill="#333" font-weight="normal" stroke="#333" stroke-width="0.12" >258</text>
<g stroke="#2e2e2e" stroke-width="0.45">
<circle cx="603.5" cy="550.6" r="1.55" fill="#ecb19e"/>
<circle cx="599.2" cy="550.7" r="1.55" fill="#f29679"/>
<circle cx="592.6" cy="554.0" r="1.55" fill="#f2a185"/>
<circle cx="598.1" cy="561.1" r="1.55" fill="#ee8c73"/>
<circle cx="598.3" cy="558.0" r="1.55" fill="#f19478"/>
<circle cx="586.2" cy="572.9" r="1.55" fill="#c5cde3"/>
<circle cx="594.6" cy="574.8" r="1.55" fill="#ecb29e"/>
<circle cx="593.3" cy="571.0" r="1.55" fill="#d9dadd"/>
<circle cx="595.2" cy="566.2" r="1.55" fill="#c22438"/>
<circle cx="593.4" cy="562.7" r="1.55" fill="#eab8a7"/>
<circle cx="589.9" cy="573.8" r="1.55" fill="#6a88e9"/>
<circle cx="583.0" cy="584.5" r="1.55" fill="#b3c1e9"/>
<circle cx="592.7" cy="574.5" r="1.55" fill="#e1d0ca"/>
<circle cx="593.5" cy="553.6" r="1.55" fill="#c73140"/>
<circle cx="587.4" cy="561.2" r="1.55" fill="#e9806d"/>
<circle cx="578.0" cy="584.2" r="1.55" fill="#88a6f6"/>
<circle cx="586.6" cy="580.2" r="1.55" fill="#cfd3e0"/>
<circle cx="600.0" cy="572.1" r="1.55" fill="#dbdbdc"/>
<circle cx="600.0" cy="548.1" r="1.55" fill="#f49a7b"/>
<circle cx="605.8" cy="577.2" r="1.55" fill="#6b89ea"/>
<circle cx="599.0" cy="552.2" r="1.55" fill="#eab6a5"/>
<circle cx="593.9" cy="557.3" r="1.55" fill="#f29e82"/>
<circle cx="588.1" cy="578.6" r="1.55" fill="#b1c0e9"/>
<circle cx="595.1" cy="578.0" r="1.55" fill="#ecb19d"/>
<circle cx="589.2" cy="577.2" r="1.55" fill="#d0d4e0"/>
<circle cx="598.8" cy="576.2" r="1.55" fill="#b4c2e8"/>
<circle cx="595.2" cy="553.2" r="1.55" fill="#dc625b"/>
<circle cx="588.9" cy="572.8" r="1.55" fill="#e9baaa"/>
<circle cx="608.3" cy="553.1" r="1.55" fill="#b6c3e8"/>
<circle cx="593.5" cy="578.3" r="1.55" fill="#7a9cf7"/>
<circle cx="600.6" cy="567.2" r="1.55" fill="#8eabf4"/>
<circle cx="610.7" cy="546.1" r="1.55" fill="#ebb3a0"/>
<circle cx="579.7" cy="578.1" r="1.55" fill="#c4cce4"/>
<circle cx="590.0" cy="576.1" r="1.55" fill="#b5c3e8"/>
<circle cx="609.1" cy="545.3" r="1.55" fill="#f39e81"/>
<circle cx="591.1" cy="575.1" r="1.55" fill="#7697f4"/>
<circle cx="582.5" cy="579.7" r="1.55" fill="#e8bdaf"/>
<circle cx="604.9" cy="576.0" r="1.55" fill="#e7c0b3"/>
<circle cx="576.9" cy="580.4" r="1.55" fill="#e3cbc3"/>
<circle cx="589.5" cy="559.9" r="1.55" fill="#f49b7d"/>
<circle cx="598.1" cy="549.6" r="1.55" fill="#ca3843"/>
<circle cx="607.2" cy="549.1" r="1.55" fill="#eab7a5"/>
<circle cx="601.2" cy="564.9" r="1.55" fill="#edaf9a"/>
<circle cx="597.9" cy="569.8" r="1.55" fill="#85a5f6"/>
<circle cx="598.9" cy="559.2" r="1.55" fill="#e6c1b4"/>
<circle cx="583.3" cy="572.3" r="1.55" fill="#cbd1e1"/>
<circle cx="603.0" cy="546.2" r="1.55" fill="#f0a48a"/>
<circle cx="609.3" cy="546.6" r="1.55" fill="#f1a287"/>
<circle cx="608.2" cy="547.6" r="1.55" fill="#d75554"/>
<circle cx="592.2" cy="569.8" r="1.55" fill="#9bb2f0"/>
<circle cx="597.9" cy="562.2" r="1.55" fill="#ec8670"/>
<circle cx="600.7" cy="569.1" r="1.55" fill="#b2c1e9"/>
<circle cx="577.8" cy="576.2" r="1.55" fill="#ded9d7"/>
<circle cx="601.4" cy="547.8" r="1.55" fill="#d44e50"/>
<circle cx="597.3" cy="571.5" r="1.55" fill="#617de1"/>
<circle cx="590.4" cy="566.2" r="1.55" fill="#e27063"/>
<circle cx="595.0" cy="580.7" r="1.55" fill="#4f66d2"/>
<circle cx="604.2" cy="557.0" r="1.55" fill="#e9806c"/>
<circle cx="591.2" cy="571.5" r="1.55" fill="#d9d9dd"/>
<circle cx="593.5" cy="568.6" r="1.55" fill="#bfc9e5"/>
<circle cx="586.4" cy="581.7" r="1.55" fill="#bac6e7"/>
<circle cx="604.2" cy="541.7" r="1.55" fill="#f4997a"/>
<circle cx="603.2" cy="544.0" r="1.55" fill="#cf444a"/>
<circle cx="599.8" cy="571.0" r="1.55" fill="#dadadd"/>
<circle cx="598.2" cy="550.7" r="1.55" fill="#ecb19d"/>
<circle cx="603.6" cy="579.7" r="1.55" fill="#7b9df8"/>
<circle cx="595.9" cy="552.0" r="1.55" fill="#f2a083"/>
<circle cx="606.7" cy="567.7" r="1.55" fill="#82a3f7"/>
<circle cx="577.8" cy="581.7" r="1.55" fill="#87a6f6"/>
<circle cx="595.4" cy="555.2" r="1.55" fill="#d34d4f"/>
<circle cx="587.9" cy="574.0" r="1.55" fill="#b6c4e8"/>
<circle cx="596.3" cy="559.3" r="1.55" fill="#f09176"/>
<circle cx="586.2" cy="577.1" r="1.55" fill="#7899f5"/>
<circle cx="591.7" cy="568.7" r="1.55" fill="#ced3e0"/>
<circle cx="604.5" cy="552.8" r="1.55" fill="#ebb3a0"/>
<circle cx="584.2" cy="571.9" r="1.55" fill="#d5d7de"/>
<circle cx="594.9" cy="560.6" r="1.55" fill="#eeaa93"/>
<circle cx="607.7" cy="568.5" r="1.55" fill="#7a9df8"/>
<circle cx="601.2" cy="554.3" r="1.55" fill="#f1a489"/>
<circle cx="580.2" cy="583.1" r="1.55" fill="#bdc8e6"/>
<circle cx="595.6" cy="562.5" r="1.55" fill="#f39b7d"/>
<circle cx="582.8" cy="575.9" r="1.55" fill="#d0d4e0"/>
<circle cx="596.9" cy="556.6" r="1.55" fill="#efa890"/>
<circle cx="583.5" cy="566.4" r="1.55" fill="#ecb29e"/>
<circle cx="592.4" cy="579.1" r="1.55" fill="#c2cbe4"/>
<circle cx="580.0" cy="572.2" r="1.55" fill="#8fabf3"/>
<circle cx="589.2" cy="565.7" r="1.55" fill="#e9baab"/>
<circle cx="584.2" cy="576.7" r="1.55" fill="#c8cfe2"/>
<circle cx="603.9" cy="547.1" r="1.55" fill="#ef8e74"/>
<circle cx="578.7" cy="586.5" r="1.55" fill="#9eb4ef"/>
<circle cx="589.2" cy="558.7" r="1.55" fill="#f19277"/>
<circle cx="602.7" cy="569.0" r="1.55" fill="#ecb19d"/>
<circle cx="599.6" cy="557.8" r="1.55" fill="#e77b6a"/>
<circle cx="607.8" cy="556.4" r="1.55" fill="#f0a58a"/>
<circle cx="597.6" cy="573.0" r="1.55" fill="#a2b7ee"/>
<circle cx="603.1" cy="559.9" r="1.55" fill="#e3cac1"/>
<circle cx="593.1" cy="572.4" r="1.55" fill="#3c4dc0"/>
<circle cx="573.8" cy="581.8" r="1.55" fill="#d1d5df"/>
<circle cx="600.1" cy="564.0" r="1.55" fill="#ebb4a1"/>
<circle cx="581.2" cy="584.8" r="1.55" fill="#789af5"/>
<circle cx="538.3" cy="608.1" r="1.55" fill="#a3b8ed"/>
<circle cx="623.3" cy="533.1" r="1.55" fill="#e67a69"/>
<circle cx="614.3" cy="577.1" r="1.55" fill="#98b1f1"/>
<circle cx="616.3" cy="561.1" r="1.55" fill="#98b1f1"/>
</g>
<line x1="512.30" y1="643.10" x2="636.80" y2="507.10" stroke="#000" stroke-width="1.4" stroke-dasharray="4.3,2.2"/>
<line x1="512.30" y1="507.10" x2="512.30" y2="643.65" stroke="#000" stroke-width="1.45" />
<line x1="511.75" y1="643.10" x2="636.80" y2="643.10" stroke="#000" stroke-width="1.45" />
<line x1="537.14" y1="643.10" x2="537.14" y2="645.70" stroke="#000" stroke-width="1.305" />
<text x="537.14" y="655.90" font-size="9.0" text-anchor="middle" fill="#1a1a1a" font-weight="normal" stroke="#1a1a1a" stroke-width="0.25" >-0.4</text>
<line x1="568.38" y1="643.10" x2="568.38" y2="645.70" stroke="#000" stroke-width="1.305" />
<text x="568.38" y="655.90" font-size="9.0" text-anchor="middle" fill="#1a1a1a" font-weight="normal" stroke="#1a1a1a" stroke-width="0.25" >0.0</text>
<line x1="599.62" y1="643.10" x2="599.62" y2="645.70" stroke="#000" stroke-width="1.305" />
<text x="599.62" y="655.90" font-size="9.0" text-anchor="middle" fill="#1a1a1a" font-weight="normal" stroke="#1a1a1a" stroke-width="0.25" >0.4</text>
<line x1="630.86" y1="643.10" x2="630.86" y2="645.70" stroke="#000" stroke-width="1.305" />
<text x="630.86" y="655.90" font-size="9.0" text-anchor="middle" fill="#1a1a1a" font-weight="normal" stroke="#1a1a1a" stroke-width="0.25" >0.8</text>
<text x="521.90" y="520.50" font-size="9" text-anchor="start" fill="#000" font-weight="normal" stroke="#000" stroke-width="0.25" >n = 108</text>
<line x1="517.80" y1="568.70" x2="523.40" y2="568.70" stroke="#000" stroke-width="1.3"/>
<path d="M526.00,568.70 L522.80,566.50 L522.80,570.90 Z" fill="#000"/>
<line x1="596.60" y1="637.00" x2="596.60" y2="631.20" stroke="#000" stroke-width="1.3"/>
<path d="M596.60,628.20 L594.60,631.80 L598.60,631.80 Z" fill="#000"/>
<path d="M607.30,549.90 L613.88,547.57 L609.63,543.32 Z" fill="none" stroke="#000" stroke-width="1.05" stroke-linejoin="miter"/>
<text x="615.20" y="546.60" font-size="7.9" text-anchor="start" fill="#333" font-weight="normal" stroke="#333" stroke-width="0.12" >669</text>
<g transform="translate(494.45,670.80)"><text x="0" y="0.8" font-size="10" font-style="italic" fill="#000" stroke="#000" stroke-width="0.15">R</text><path d="M2.5,-8.6 c0.7,-1.3 1.4,-1.3 2.1,-0.6 s1.4,0.7 2.1,-0.6" fill="none" stroke="#000" stroke-width="0.8"/><text x="7.9" y="-3.7" font-size="7.3" fill="#000" stroke="#000" stroke-width="0.2">2</text><text x="7.7" y="3.4" font-size="7.85" font-style="italic" fill="#000" stroke="#000" stroke-width="0.2">3D_VF</text></g>
<g transform="translate(351.60,520.35) rotate(-90)"><text x="0" y="0.8" font-size="10" font-style="italic" fill="#000" stroke="#000" stroke-width="0.15">R</text><path d="M2.5,-8.6 c0.7,-1.3 1.4,-1.3 2.1,-0.6 s1.4,0.7 2.1,-0.6" fill="none" stroke="#000" stroke-width="0.8"/><text x="7.9" y="-3.7" font-size="7.3" fill="#000" stroke="#000" stroke-width="0.2">2</text><text x="7.7" y="4.3" font-size="7.85" font-style="italic" fill="#000" stroke="#000" stroke-width="0.2">3D_VI</text></g>
<defs><linearGradient id="cw" x1="0" y1="1" x2="0" y2="0"><stop offset="0" stop-color="#3b4cc0"/><stop offset="0.25" stop-color="#7c9ff9"/><stop offset="0.5" stop-color="#dddcdc"/><stop offset="0.75" stop-color="#f49a7b"/><stop offset="1" stop-color="#b40426"/></linearGradient></defs>
<rect x="663.7" y="297.3" width="5.5" height="75.6" fill="url(#cw)"/>
<text x="664.00" y="294.30" font-size="11" text-anchor="start" fill="#000" font-weight="normal" stroke="#000" stroke-width="0.25" >VII</text>
<line x1="663.7" y1="313.9" x2="664.8000000000001" y2="313.9" stroke="#fff" stroke-width="0.6"/>
<line x1="668.1" y1="313.9" x2="669.2" y2="313.9" stroke="#fff" stroke-width="0.6"/>
<text x="670.60" y="316.90" font-size="9.0" text-anchor="start" fill="#1a1a1a" font-weight="normal" stroke="#1a1a1a" stroke-width="0.25" >5.0</text>
<line x1="663.7" y1="331.9" x2="664.8000000000001" y2="331.9" stroke="#fff" stroke-width="0.6"/>
<line x1="668.1" y1="331.9" x2="669.2" y2="331.9" stroke="#fff" stroke-width="0.6"/>
<text x="670.60" y="334.90" font-size="9.0" text-anchor="start" fill="#1a1a1a" font-weight="normal" stroke="#1a1a1a" stroke-width="0.25" >2.5</text>
<line x1="663.7" y1="350.0" x2="664.8000000000001" y2="350.0" stroke="#fff" stroke-width="0.6"/>
<line x1="668.1" y1="350.0" x2="669.2" y2="350.0" stroke="#fff" stroke-width="0.6"/>
<text x="670.60" y="353.00" font-size="9.0" text-anchor="start" fill="#1a1a1a" font-weight="normal" stroke="#1a1a1a" stroke-width="0.25" >0.0</text>
<line x1="663.7" y1="368.3" x2="664.8000000000001" y2="368.3" stroke="#fff" stroke-width="0.6"/>
<line x1="668.1" y1="368.3" x2="669.2" y2="368.3" stroke="#fff" stroke-width="0.6"/>
<text x="670.60" y="371.30" font-size="9.0" text-anchor="start" fill="#1a1a1a" font-weight="normal" stroke="#1a1a1a" stroke-width="0.25" >-2.5</text>
</svg></body></html>
